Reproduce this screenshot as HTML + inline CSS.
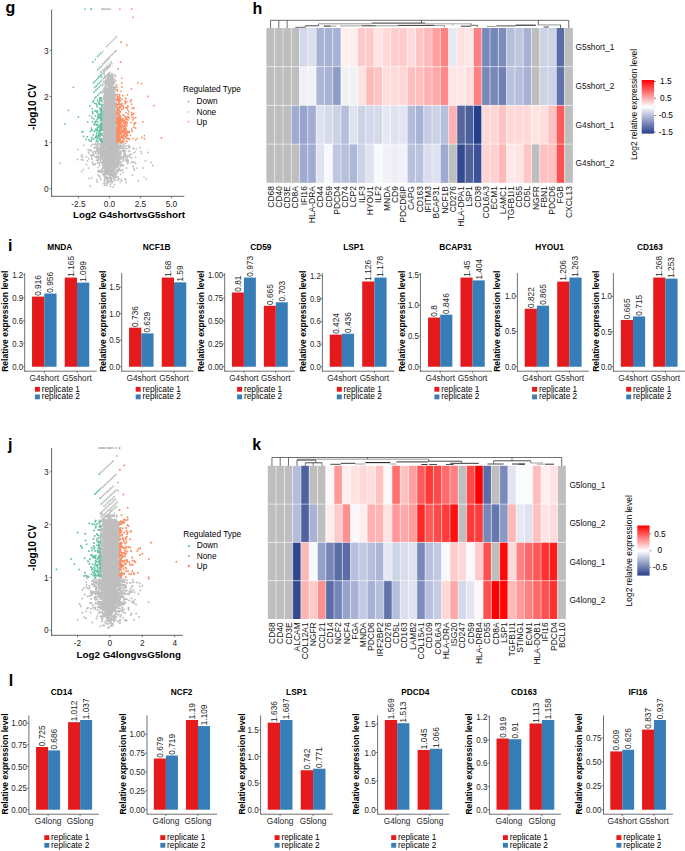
<!DOCTYPE html>
<html><head><meta charset="utf-8"><style>
html,body{margin:0;padding:0;background:#fff;width:685px;height:851px;overflow:hidden;}
svg{display:block;}
text{font-family:"Liberation Sans", sans-serif;}
</style></head><body>
<svg width="685" height="851" viewBox="0 0 685 851" font-family='"Liberation Sans", sans-serif'><text x="5.50" y="13.10" font-size="16" font-weight="bold" text-anchor="start" fill="#000">g</text>
<text x="252.40" y="13.80" font-size="16" font-weight="bold" text-anchor="start" fill="#000">h</text>
<text x="8.00" y="250.95" font-size="16" font-weight="bold" text-anchor="start" fill="#000">i</text>
<text x="8.10" y="449.50" font-size="16" font-weight="bold" text-anchor="start" fill="#000">j</text>
<text x="252.20" y="449.50" font-size="16" font-weight="bold" text-anchor="start" fill="#000">k</text>
<text x="8.80" y="686.00" font-size="16" font-weight="bold" text-anchor="start" fill="#000">l</text>
<line x1="24.70" y1="273.10" x2="24.70" y2="371.50" stroke="#333333" stroke-width="0.7"/>
<line x1="24.40" y1="371.20" x2="96.80" y2="371.20" stroke="#333333" stroke-width="0.7"/>
<line x1="22.70" y1="366.74" x2="24.70" y2="366.74" stroke="#333333" stroke-width="0.6"/>
<text x="0" y="0" font-size="8.6" text-anchor="end" fill="#262626" transform="translate(23.00 369.79) scale(0.9 1)">0.0</text>
<line x1="22.70" y1="343.78" x2="24.70" y2="343.78" stroke="#333333" stroke-width="0.6"/>
<text x="0" y="0" font-size="8.6" text-anchor="end" fill="#262626" transform="translate(23.00 346.83) scale(0.9 1)">0.3</text>
<line x1="22.70" y1="320.81" x2="24.70" y2="320.81" stroke="#333333" stroke-width="0.6"/>
<text x="0" y="0" font-size="8.6" text-anchor="end" fill="#262626" transform="translate(23.00 323.86) scale(0.9 1)">0.6</text>
<line x1="22.70" y1="297.85" x2="24.70" y2="297.85" stroke="#333333" stroke-width="0.6"/>
<text x="0" y="0" font-size="8.6" text-anchor="end" fill="#262626" transform="translate(23.00 300.90) scale(0.9 1)">0.9</text>
<line x1="22.70" y1="274.88" x2="24.70" y2="274.88" stroke="#333333" stroke-width="0.6"/>
<text x="0" y="0" font-size="8.6" text-anchor="end" fill="#262626" transform="translate(23.00 277.93) scale(0.9 1)">1.2</text>
<rect x="32.04" y="296.62" width="12.26" height="70.12" fill="#e41a1c"/>
<text x="41.17" y="295.82" font-size="8.3" text-anchor="start" fill="#262626" transform="rotate(-90 41.17 295.82)">0.916</text>
<rect x="44.30" y="293.56" width="12.26" height="73.18" fill="#377eb8"/>
<text x="53.43" y="292.76" font-size="8.3" text-anchor="start" fill="#262626" transform="rotate(-90 53.43 292.76)">0.956</text>
<line x1="44.30" y1="371.20" x2="44.30" y2="373.20" stroke="#333333" stroke-width="0.6"/>
<text x="44.30" y="380.90" font-size="8.3" text-anchor="middle" fill="#262626">G4short</text>
<rect x="64.74" y="277.56" width="12.26" height="89.18" fill="#e41a1c"/>
<text x="73.87" y="276.76" font-size="8.3" text-anchor="start" fill="#262626" transform="rotate(-90 73.87 276.76)">1.165</text>
<rect x="77.00" y="282.61" width="12.26" height="84.13" fill="#377eb8"/>
<text x="86.13" y="281.81" font-size="8.3" text-anchor="start" fill="#262626" transform="rotate(-90 86.13 281.81)">1.099</text>
<line x1="77.00" y1="371.20" x2="77.00" y2="373.20" stroke="#333333" stroke-width="0.6"/>
<text x="77.00" y="380.90" font-size="8.3" text-anchor="middle" fill="#262626">G5short</text>
<text x="59.80" y="250.40" font-size="8.3" font-weight="bold" text-anchor="middle" fill="#000">MNDA</text>
<text x="7.80" y="321.25" font-size="8.5" font-weight="bold" text-anchor="middle" fill="#000" transform="rotate(-90 7.80 321.25)">Relative expression level</text>
<rect x="34.90" y="386.90" width="5.00" height="4.80" fill="#e41a1c"/>
<rect x="34.90" y="394.50" width="5.00" height="4.80" fill="#377eb8"/>
<text x="41.70" y="391.60" font-size="8.3" text-anchor="start" fill="#000">replicate 1</text>
<text x="41.70" y="399.20" font-size="8.3" text-anchor="start" fill="#000">replicate 2</text>
<line x1="121.70" y1="273.10" x2="121.70" y2="371.50" stroke="#333333" stroke-width="0.7"/>
<line x1="121.40" y1="371.20" x2="193.50" y2="371.20" stroke="#333333" stroke-width="0.7"/>
<line x1="119.70" y1="366.74" x2="121.70" y2="366.74" stroke="#333333" stroke-width="0.6"/>
<text x="0" y="0" font-size="8.6" text-anchor="end" fill="#262626" transform="translate(120.00 369.79) scale(0.9 1)">0.0</text>
<line x1="119.70" y1="340.20" x2="121.70" y2="340.20" stroke="#333333" stroke-width="0.6"/>
<text x="0" y="0" font-size="8.6" text-anchor="end" fill="#262626" transform="translate(120.00 343.25) scale(0.9 1)">0.5</text>
<line x1="119.70" y1="313.66" x2="121.70" y2="313.66" stroke="#333333" stroke-width="0.6"/>
<text x="0" y="0" font-size="8.6" text-anchor="end" fill="#262626" transform="translate(120.00 316.71) scale(0.9 1)">1.0</text>
<line x1="119.70" y1="287.11" x2="121.70" y2="287.11" stroke="#333333" stroke-width="0.6"/>
<text x="0" y="0" font-size="8.6" text-anchor="end" fill="#262626" transform="translate(120.00 290.16) scale(0.9 1)">1.5</text>
<rect x="129.04" y="327.67" width="12.26" height="39.07" fill="#e41a1c"/>
<text x="138.17" y="326.87" font-size="8.3" text-anchor="start" fill="#262626" transform="rotate(-90 138.17 326.87)">0.736</text>
<rect x="141.30" y="333.35" width="12.26" height="33.39" fill="#377eb8"/>
<text x="150.43" y="332.55" font-size="8.3" text-anchor="start" fill="#262626" transform="rotate(-90 150.43 332.55)">0.629</text>
<line x1="141.30" y1="371.20" x2="141.30" y2="373.20" stroke="#333333" stroke-width="0.6"/>
<text x="141.30" y="380.90" font-size="8.3" text-anchor="middle" fill="#262626">G4short</text>
<rect x="161.74" y="277.56" width="12.26" height="89.18" fill="#e41a1c"/>
<text x="170.87" y="276.76" font-size="8.3" text-anchor="start" fill="#262626" transform="rotate(-90 170.87 276.76)">1.68</text>
<rect x="174.00" y="282.34" width="12.26" height="84.40" fill="#377eb8"/>
<text x="183.13" y="281.54" font-size="8.3" text-anchor="start" fill="#262626" transform="rotate(-90 183.13 281.54)">1.59</text>
<line x1="174.00" y1="371.20" x2="174.00" y2="373.20" stroke="#333333" stroke-width="0.6"/>
<text x="174.00" y="380.90" font-size="8.3" text-anchor="middle" fill="#262626">G5short</text>
<text x="156.60" y="250.40" font-size="8.3" font-weight="bold" text-anchor="middle" fill="#000">NCF1B</text>
<text x="106.40" y="321.25" font-size="8.5" font-weight="bold" text-anchor="middle" fill="#000" transform="rotate(-90 106.40 321.25)">Relative expression level</text>
<rect x="135.70" y="386.90" width="5.00" height="4.80" fill="#e41a1c"/>
<rect x="135.70" y="394.50" width="5.00" height="4.80" fill="#377eb8"/>
<text x="142.50" y="391.60" font-size="8.3" text-anchor="start" fill="#000">replicate 1</text>
<text x="142.50" y="399.20" font-size="8.3" text-anchor="start" fill="#000">replicate 2</text>
<line x1="224.70" y1="273.10" x2="224.70" y2="371.50" stroke="#333333" stroke-width="0.7"/>
<line x1="224.40" y1="371.20" x2="294.70" y2="371.20" stroke="#333333" stroke-width="0.7"/>
<line x1="222.70" y1="366.74" x2="224.70" y2="366.74" stroke="#333333" stroke-width="0.6"/>
<text x="0" y="0" font-size="8.6" text-anchor="end" fill="#262626" transform="translate(223.00 369.79) scale(0.9 1)">0.00</text>
<line x1="222.70" y1="343.83" x2="224.70" y2="343.83" stroke="#333333" stroke-width="0.6"/>
<text x="0" y="0" font-size="8.6" text-anchor="end" fill="#262626" transform="translate(223.00 346.88) scale(0.9 1)">0.25</text>
<line x1="222.70" y1="320.91" x2="224.70" y2="320.91" stroke="#333333" stroke-width="0.6"/>
<text x="0" y="0" font-size="8.6" text-anchor="end" fill="#262626" transform="translate(223.00 323.96) scale(0.9 1)">0.50</text>
<line x1="222.70" y1="298.00" x2="224.70" y2="298.00" stroke="#333333" stroke-width="0.6"/>
<text x="0" y="0" font-size="8.6" text-anchor="end" fill="#262626" transform="translate(223.00 301.05) scale(0.9 1)">0.75</text>
<line x1="222.70" y1="275.08" x2="224.70" y2="275.08" stroke="#333333" stroke-width="0.6"/>
<text x="0" y="0" font-size="8.6" text-anchor="end" fill="#262626" transform="translate(223.00 278.13) scale(0.9 1)">1.00</text>
<rect x="231.94" y="292.50" width="11.96" height="74.24" fill="#e41a1c"/>
<text x="240.92" y="291.70" font-size="8.3" text-anchor="start" fill="#262626" transform="rotate(-90 240.92 291.70)">0.81</text>
<rect x="243.90" y="277.56" width="11.96" height="89.18" fill="#377eb8"/>
<text x="252.88" y="276.76" font-size="8.3" text-anchor="start" fill="#262626" transform="rotate(-90 252.88 276.76)">0.973</text>
<line x1="243.90" y1="371.20" x2="243.90" y2="373.20" stroke="#333333" stroke-width="0.6"/>
<text x="243.90" y="380.90" font-size="8.3" text-anchor="middle" fill="#262626">G4short</text>
<rect x="263.84" y="305.79" width="11.96" height="60.95" fill="#e41a1c"/>
<text x="272.82" y="304.99" font-size="8.3" text-anchor="start" fill="#262626" transform="rotate(-90 272.82 304.99)">0.665</text>
<rect x="275.80" y="302.31" width="11.96" height="64.43" fill="#377eb8"/>
<text x="284.78" y="301.51" font-size="8.3" text-anchor="start" fill="#262626" transform="rotate(-90 284.78 301.51)">0.703</text>
<line x1="275.80" y1="371.20" x2="275.80" y2="373.20" stroke="#333333" stroke-width="0.6"/>
<text x="275.80" y="380.90" font-size="8.3" text-anchor="middle" fill="#262626">G5short</text>
<text x="260.80" y="250.40" font-size="8.3" font-weight="bold" text-anchor="middle" fill="#000">CD59</text>
<text x="204.40" y="321.25" font-size="8.5" font-weight="bold" text-anchor="middle" fill="#000" transform="rotate(-90 204.40 321.25)">Relative expression level</text>
<rect x="237.10" y="386.90" width="5.00" height="4.80" fill="#e41a1c"/>
<rect x="237.10" y="394.50" width="5.00" height="4.80" fill="#377eb8"/>
<text x="243.90" y="391.60" font-size="8.3" text-anchor="start" fill="#000">replicate 1</text>
<text x="243.90" y="399.20" font-size="8.3" text-anchor="start" fill="#000">replicate 2</text>
<line x1="322.40" y1="273.10" x2="322.40" y2="371.50" stroke="#333333" stroke-width="0.7"/>
<line x1="322.10" y1="371.20" x2="394.10" y2="371.20" stroke="#333333" stroke-width="0.7"/>
<line x1="320.40" y1="366.74" x2="322.40" y2="366.74" stroke="#333333" stroke-width="0.6"/>
<text x="0" y="0" font-size="8.6" text-anchor="end" fill="#262626" transform="translate(320.70 369.79) scale(0.9 1)">0.0</text>
<line x1="320.40" y1="344.03" x2="322.40" y2="344.03" stroke="#333333" stroke-width="0.6"/>
<text x="0" y="0" font-size="8.6" text-anchor="end" fill="#262626" transform="translate(320.70 347.08) scale(0.9 1)">0.3</text>
<line x1="320.40" y1="321.32" x2="322.40" y2="321.32" stroke="#333333" stroke-width="0.6"/>
<text x="0" y="0" font-size="8.6" text-anchor="end" fill="#262626" transform="translate(320.70 324.37) scale(0.9 1)">0.6</text>
<line x1="320.40" y1="298.61" x2="322.40" y2="298.61" stroke="#333333" stroke-width="0.6"/>
<text x="0" y="0" font-size="8.6" text-anchor="end" fill="#262626" transform="translate(320.70 301.66) scale(0.9 1)">0.9</text>
<line x1="320.40" y1="275.89" x2="322.40" y2="275.89" stroke="#333333" stroke-width="0.6"/>
<text x="0" y="0" font-size="8.6" text-anchor="end" fill="#262626" transform="translate(320.70 278.94) scale(0.9 1)">1.2</text>
<rect x="329.71" y="334.64" width="12.19" height="32.10" fill="#e41a1c"/>
<text x="338.81" y="333.84" font-size="8.3" text-anchor="start" fill="#262626" transform="rotate(-90 338.81 333.84)">0.424</text>
<rect x="341.90" y="333.73" width="12.19" height="33.01" fill="#377eb8"/>
<text x="350.99" y="332.93" font-size="8.3" text-anchor="start" fill="#262626" transform="rotate(-90 350.99 332.93)">0.436</text>
<line x1="341.90" y1="371.20" x2="341.90" y2="373.20" stroke="#333333" stroke-width="0.6"/>
<text x="341.90" y="380.90" font-size="8.3" text-anchor="middle" fill="#262626">G4short</text>
<rect x="362.21" y="281.50" width="12.19" height="85.25" fill="#e41a1c"/>
<text x="371.31" y="280.70" font-size="8.3" text-anchor="start" fill="#262626" transform="rotate(-90 371.31 280.70)">1.126</text>
<rect x="374.40" y="277.56" width="12.19" height="89.18" fill="#377eb8"/>
<text x="383.49" y="276.76" font-size="8.3" text-anchor="start" fill="#262626" transform="rotate(-90 383.49 276.76)">1.178</text>
<line x1="374.40" y1="371.20" x2="374.40" y2="373.20" stroke="#333333" stroke-width="0.6"/>
<text x="374.40" y="380.90" font-size="8.3" text-anchor="middle" fill="#262626">G5short</text>
<text x="353.60" y="250.40" font-size="8.3" font-weight="bold" text-anchor="middle" fill="#000">LSP1</text>
<text x="305.90" y="321.25" font-size="8.5" font-weight="bold" text-anchor="middle" fill="#000" transform="rotate(-90 305.90 321.25)">Relative expression level</text>
<rect x="336.80" y="386.90" width="5.00" height="4.80" fill="#e41a1c"/>
<rect x="336.80" y="394.50" width="5.00" height="4.80" fill="#377eb8"/>
<text x="343.60" y="391.60" font-size="8.3" text-anchor="start" fill="#000">replicate 1</text>
<text x="343.60" y="399.20" font-size="8.3" text-anchor="start" fill="#000">replicate 2</text>
<line x1="420.40" y1="273.10" x2="420.40" y2="371.50" stroke="#333333" stroke-width="0.7"/>
<line x1="420.10" y1="371.20" x2="491.90" y2="371.20" stroke="#333333" stroke-width="0.7"/>
<line x1="418.40" y1="366.74" x2="420.40" y2="366.74" stroke="#333333" stroke-width="0.6"/>
<text x="0" y="0" font-size="8.6" text-anchor="end" fill="#262626" transform="translate(418.70 369.79) scale(0.9 1)">0.0</text>
<line x1="418.40" y1="335.99" x2="420.40" y2="335.99" stroke="#333333" stroke-width="0.6"/>
<text x="0" y="0" font-size="8.6" text-anchor="end" fill="#262626" transform="translate(418.70 339.04) scale(0.9 1)">0.5</text>
<line x1="418.40" y1="305.24" x2="420.40" y2="305.24" stroke="#333333" stroke-width="0.6"/>
<text x="0" y="0" font-size="8.6" text-anchor="end" fill="#262626" transform="translate(418.70 308.29) scale(0.9 1)">1.0</text>
<line x1="418.40" y1="274.48" x2="420.40" y2="274.48" stroke="#333333" stroke-width="0.6"/>
<text x="0" y="0" font-size="8.6" text-anchor="end" fill="#262626" transform="translate(418.70 277.53) scale(0.9 1)">1.5</text>
<rect x="428.05" y="317.54" width="12.15" height="49.20" fill="#e41a1c"/>
<text x="437.12" y="316.74" font-size="8.3" text-anchor="start" fill="#262626" transform="rotate(-90 437.12 316.74)">0.8</text>
<rect x="440.20" y="314.71" width="12.15" height="52.03" fill="#377eb8"/>
<text x="449.27" y="313.91" font-size="8.3" text-anchor="start" fill="#262626" transform="rotate(-90 449.27 313.91)">0.846</text>
<line x1="440.20" y1="371.20" x2="440.20" y2="373.20" stroke="#333333" stroke-width="0.6"/>
<text x="440.20" y="380.90" font-size="8.3" text-anchor="middle" fill="#262626">G4short</text>
<rect x="460.45" y="277.56" width="12.15" height="89.18" fill="#e41a1c"/>
<text x="469.52" y="276.76" font-size="8.3" text-anchor="start" fill="#262626" transform="rotate(-90 469.52 276.76)">1.45</text>
<rect x="472.60" y="280.39" width="12.15" height="86.35" fill="#377eb8"/>
<text x="481.68" y="279.59" font-size="8.3" text-anchor="start" fill="#262626" transform="rotate(-90 481.68 279.59)">1.404</text>
<line x1="472.60" y1="371.20" x2="472.60" y2="373.20" stroke="#333333" stroke-width="0.6"/>
<text x="472.60" y="380.90" font-size="8.3" text-anchor="middle" fill="#262626">G5short</text>
<text x="455.60" y="250.40" font-size="8.3" font-weight="bold" text-anchor="middle" fill="#000">BCAP31</text>
<text x="405.40" y="321.25" font-size="8.5" font-weight="bold" text-anchor="middle" fill="#000" transform="rotate(-90 405.40 321.25)">Relative expression level</text>
<rect x="434.40" y="386.90" width="5.00" height="4.80" fill="#e41a1c"/>
<rect x="434.40" y="394.50" width="5.00" height="4.80" fill="#377eb8"/>
<text x="441.20" y="391.60" font-size="8.3" text-anchor="start" fill="#000">replicate 1</text>
<text x="441.20" y="399.20" font-size="8.3" text-anchor="start" fill="#000">replicate 2</text>
<line x1="517.40" y1="273.10" x2="517.40" y2="371.50" stroke="#333333" stroke-width="0.7"/>
<line x1="517.10" y1="371.20" x2="588.90" y2="371.20" stroke="#333333" stroke-width="0.7"/>
<line x1="515.40" y1="366.74" x2="517.40" y2="366.74" stroke="#333333" stroke-width="0.6"/>
<text x="0" y="0" font-size="8.6" text-anchor="end" fill="#262626" transform="translate(515.70 369.79) scale(0.9 1)">0.0</text>
<line x1="515.40" y1="331.44" x2="517.40" y2="331.44" stroke="#333333" stroke-width="0.6"/>
<text x="0" y="0" font-size="8.6" text-anchor="end" fill="#262626" transform="translate(515.70 334.49) scale(0.9 1)">0.5</text>
<line x1="515.40" y1="296.13" x2="517.40" y2="296.13" stroke="#333333" stroke-width="0.6"/>
<text x="0" y="0" font-size="8.6" text-anchor="end" fill="#262626" transform="translate(515.70 299.18) scale(0.9 1)">1.0</text>
<rect x="524.71" y="308.70" width="12.19" height="58.04" fill="#e41a1c"/>
<text x="533.81" y="307.90" font-size="8.3" text-anchor="start" fill="#262626" transform="rotate(-90 533.81 307.90)">0.822</text>
<rect x="536.90" y="305.66" width="12.19" height="61.08" fill="#377eb8"/>
<text x="545.99" y="304.86" font-size="8.3" text-anchor="start" fill="#262626" transform="rotate(-90 545.99 304.86)">0.865</text>
<line x1="536.90" y1="371.20" x2="536.90" y2="373.20" stroke="#333333" stroke-width="0.6"/>
<text x="536.90" y="380.90" font-size="8.3" text-anchor="middle" fill="#262626">G4short</text>
<rect x="557.21" y="281.58" width="12.19" height="85.16" fill="#e41a1c"/>
<text x="566.31" y="280.78" font-size="8.3" text-anchor="start" fill="#262626" transform="rotate(-90 566.31 280.78)">1.206</text>
<rect x="569.40" y="277.56" width="12.19" height="89.18" fill="#377eb8"/>
<text x="578.49" y="276.76" font-size="8.3" text-anchor="start" fill="#262626" transform="rotate(-90 578.49 276.76)">1.263</text>
<line x1="569.40" y1="371.20" x2="569.40" y2="373.20" stroke="#333333" stroke-width="0.6"/>
<text x="569.40" y="380.90" font-size="8.3" text-anchor="middle" fill="#262626">G5short</text>
<text x="549.60" y="250.40" font-size="8.3" font-weight="bold" text-anchor="middle" fill="#000">HYOU1</text>
<text x="500.40" y="321.25" font-size="8.5" font-weight="bold" text-anchor="middle" fill="#000" transform="rotate(-90 500.40 321.25)">Relative expression level</text>
<rect x="532.10" y="386.90" width="5.00" height="4.80" fill="#e41a1c"/>
<rect x="532.10" y="394.50" width="5.00" height="4.80" fill="#377eb8"/>
<text x="538.90" y="391.60" font-size="8.3" text-anchor="start" fill="#000">replicate 1</text>
<text x="538.90" y="399.20" font-size="8.3" text-anchor="start" fill="#000">replicate 2</text>
<line x1="613.40" y1="273.10" x2="613.40" y2="371.50" stroke="#333333" stroke-width="0.7"/>
<line x1="613.10" y1="371.20" x2="685.50" y2="371.20" stroke="#333333" stroke-width="0.7"/>
<line x1="611.40" y1="366.74" x2="613.40" y2="366.74" stroke="#333333" stroke-width="0.6"/>
<text x="0" y="0" font-size="8.6" text-anchor="end" fill="#262626" transform="translate(611.70 369.79) scale(0.9 1)">0.0</text>
<line x1="611.40" y1="331.57" x2="613.40" y2="331.57" stroke="#333333" stroke-width="0.6"/>
<text x="0" y="0" font-size="8.6" text-anchor="end" fill="#262626" transform="translate(611.70 334.62) scale(0.9 1)">0.5</text>
<line x1="611.40" y1="296.41" x2="613.40" y2="296.41" stroke="#333333" stroke-width="0.6"/>
<text x="0" y="0" font-size="8.6" text-anchor="end" fill="#262626" transform="translate(611.70 299.46) scale(0.9 1)">1.0</text>
<rect x="620.85" y="319.97" width="12.15" height="46.77" fill="#e41a1c"/>
<text x="629.93" y="319.17" font-size="8.3" text-anchor="start" fill="#262626" transform="rotate(-90 629.93 319.17)">0.665</text>
<rect x="633.00" y="316.45" width="12.15" height="50.29" fill="#377eb8"/>
<text x="642.08" y="315.65" font-size="8.3" text-anchor="start" fill="#262626" transform="rotate(-90 642.08 315.65)">0.715</text>
<line x1="633.00" y1="371.20" x2="633.00" y2="373.20" stroke="#333333" stroke-width="0.6"/>
<text x="633.00" y="380.90" font-size="8.3" text-anchor="middle" fill="#262626">G4short</text>
<rect x="653.25" y="277.56" width="12.15" height="89.18" fill="#e41a1c"/>
<text x="662.33" y="276.76" font-size="8.3" text-anchor="start" fill="#262626" transform="rotate(-90 662.33 276.76)">1.268</text>
<rect x="665.40" y="278.61" width="12.15" height="88.13" fill="#377eb8"/>
<text x="674.48" y="277.81" font-size="8.3" text-anchor="start" fill="#262626" transform="rotate(-90 674.48 277.81)">1.253</text>
<line x1="665.40" y1="371.20" x2="665.40" y2="373.20" stroke="#333333" stroke-width="0.6"/>
<text x="665.40" y="380.90" font-size="8.3" text-anchor="middle" fill="#262626">G5short</text>
<text x="649.90" y="250.40" font-size="8.3" font-weight="bold" text-anchor="middle" fill="#000">CD163</text>
<text x="598.60" y="321.25" font-size="8.5" font-weight="bold" text-anchor="middle" fill="#000" transform="rotate(-90 598.60 321.25)">Relative expression level</text>
<rect x="626.20" y="386.90" width="5.00" height="4.80" fill="#e41a1c"/>
<rect x="626.20" y="394.50" width="5.00" height="4.80" fill="#377eb8"/>
<text x="633.00" y="391.60" font-size="8.3" text-anchor="start" fill="#000">replicate 1</text>
<text x="633.00" y="399.20" font-size="8.3" text-anchor="start" fill="#000">replicate 2</text>
<line x1="28.90" y1="715.50" x2="28.90" y2="814.50" stroke="#333333" stroke-width="0.7"/>
<line x1="28.60" y1="814.20" x2="98.80" y2="814.20" stroke="#333333" stroke-width="0.7"/>
<line x1="26.90" y1="809.71" x2="28.90" y2="809.71" stroke="#333333" stroke-width="0.6"/>
<text x="0" y="0" font-size="8.6" text-anchor="end" fill="#262626" transform="translate(26.90 812.76) scale(0.93 1)">0.00</text>
<line x1="26.90" y1="788.08" x2="28.90" y2="788.08" stroke="#333333" stroke-width="0.6"/>
<text x="0" y="0" font-size="8.6" text-anchor="end" fill="#262626" transform="translate(26.90 791.13) scale(0.93 1)">0.25</text>
<line x1="26.90" y1="766.45" x2="28.90" y2="766.45" stroke="#333333" stroke-width="0.6"/>
<text x="0" y="0" font-size="8.6" text-anchor="end" fill="#262626" transform="translate(26.90 769.50) scale(0.93 1)">0.50</text>
<line x1="26.90" y1="744.82" x2="28.90" y2="744.82" stroke="#333333" stroke-width="0.6"/>
<text x="0" y="0" font-size="8.6" text-anchor="end" fill="#262626" transform="translate(26.90 747.87) scale(0.93 1)">0.75</text>
<line x1="26.90" y1="723.19" x2="28.90" y2="723.19" stroke="#333333" stroke-width="0.6"/>
<text x="0" y="0" font-size="8.6" text-anchor="end" fill="#262626" transform="translate(26.90 726.24) scale(0.93 1)">1.00</text>
<rect x="36.10" y="746.98" width="12.00" height="62.73" fill="#e41a1c"/>
<text x="45.10" y="746.18" font-size="8.3" text-anchor="start" fill="#262626" transform="rotate(-90 45.10 746.18)">0.725</text>
<rect x="48.10" y="750.36" width="12.00" height="59.36" fill="#377eb8"/>
<text x="57.10" y="749.56" font-size="8.3" text-anchor="start" fill="#262626" transform="rotate(-90 57.10 749.56)">0.686</text>
<line x1="48.10" y1="814.20" x2="48.10" y2="816.20" stroke="#333333" stroke-width="0.6"/>
<text x="48.10" y="823.80" font-size="8.3" text-anchor="middle" fill="#262626">G4long</text>
<rect x="68.10" y="722.15" width="12.00" height="87.56" fill="#e41a1c"/>
<text x="77.10" y="721.35" font-size="8.3" text-anchor="start" fill="#262626" transform="rotate(-90 77.10 721.35)">1.012</text>
<rect x="80.10" y="719.99" width="12.00" height="89.73" fill="#377eb8"/>
<text x="89.10" y="719.19" font-size="8.3" text-anchor="start" fill="#262626" transform="rotate(-90 89.10 719.19)">1.037</text>
<line x1="80.10" y1="814.20" x2="80.10" y2="816.20" stroke="#333333" stroke-width="0.6"/>
<text x="80.10" y="823.80" font-size="8.3" text-anchor="middle" fill="#262626">G5long</text>
<text x="61.40" y="695.40" font-size="8.3" font-weight="bold" text-anchor="middle" fill="#000">CD14</text>
<text x="8.00" y="763.95" font-size="8.5" font-weight="bold" text-anchor="middle" fill="#000" transform="rotate(-90 8.00 763.95)">Relative expression level</text>
<rect x="44.30" y="835.20" width="5.00" height="4.80" fill="#e41a1c"/>
<rect x="44.30" y="842.90" width="5.00" height="4.80" fill="#377eb8"/>
<text x="51.10" y="839.90" font-size="8.3" text-anchor="start" fill="#000">replicate 1</text>
<text x="51.10" y="847.60" font-size="8.3" text-anchor="start" fill="#000">replicate 2</text>
<line x1="147.00" y1="715.50" x2="147.00" y2="814.50" stroke="#333333" stroke-width="0.7"/>
<line x1="146.70" y1="814.20" x2="217.10" y2="814.20" stroke="#333333" stroke-width="0.7"/>
<line x1="145.00" y1="809.71" x2="147.00" y2="809.71" stroke="#333333" stroke-width="0.6"/>
<text x="0" y="0" font-size="8.6" text-anchor="end" fill="#262626" transform="translate(145.00 812.76) scale(0.93 1)">0.00</text>
<line x1="145.00" y1="790.86" x2="147.00" y2="790.86" stroke="#333333" stroke-width="0.6"/>
<text x="0" y="0" font-size="8.6" text-anchor="end" fill="#262626" transform="translate(145.00 793.91) scale(0.93 1)">0.25</text>
<line x1="145.00" y1="772.01" x2="147.00" y2="772.01" stroke="#333333" stroke-width="0.6"/>
<text x="0" y="0" font-size="8.6" text-anchor="end" fill="#262626" transform="translate(145.00 775.06) scale(0.93 1)">0.50</text>
<line x1="145.00" y1="753.16" x2="147.00" y2="753.16" stroke="#333333" stroke-width="0.6"/>
<text x="0" y="0" font-size="8.6" text-anchor="end" fill="#262626" transform="translate(145.00 756.21) scale(0.93 1)">0.75</text>
<line x1="145.00" y1="734.31" x2="147.00" y2="734.31" stroke="#333333" stroke-width="0.6"/>
<text x="0" y="0" font-size="8.6" text-anchor="end" fill="#262626" transform="translate(145.00 737.36) scale(0.93 1)">1.00</text>
<rect x="153.86" y="758.52" width="12.04" height="51.20" fill="#e41a1c"/>
<text x="162.88" y="757.72" font-size="8.3" text-anchor="start" fill="#262626" transform="rotate(-90 162.88 757.72)">0.679</text>
<rect x="165.90" y="755.50" width="12.04" height="54.21" fill="#377eb8"/>
<text x="174.92" y="754.70" font-size="8.3" text-anchor="start" fill="#262626" transform="rotate(-90 174.92 754.70)">0.719</text>
<line x1="165.90" y1="814.20" x2="165.90" y2="816.20" stroke="#333333" stroke-width="0.6"/>
<text x="165.90" y="823.80" font-size="8.3" text-anchor="middle" fill="#262626">G4long</text>
<rect x="185.96" y="719.99" width="12.04" height="89.73" fill="#e41a1c"/>
<text x="194.98" y="719.19" font-size="8.3" text-anchor="start" fill="#262626" transform="rotate(-90 194.98 719.19)">1.19</text>
<rect x="198.00" y="726.09" width="12.04" height="83.62" fill="#377eb8"/>
<text x="207.02" y="725.29" font-size="8.3" text-anchor="start" fill="#262626" transform="rotate(-90 207.02 725.29)">1.109</text>
<line x1="198.00" y1="814.20" x2="198.00" y2="816.20" stroke="#333333" stroke-width="0.6"/>
<text x="198.00" y="823.80" font-size="8.3" text-anchor="middle" fill="#262626">G5long</text>
<text x="181.60" y="695.40" font-size="8.3" font-weight="bold" text-anchor="middle" fill="#000">NCF2</text>
<text x="125.90" y="763.95" font-size="8.5" font-weight="bold" text-anchor="middle" fill="#000" transform="rotate(-90 125.90 763.95)">Relative expression level</text>
<rect x="160.30" y="835.20" width="5.00" height="4.80" fill="#e41a1c"/>
<rect x="160.30" y="842.90" width="5.00" height="4.80" fill="#377eb8"/>
<text x="167.10" y="839.90" font-size="8.3" text-anchor="start" fill="#000">replicate 1</text>
<text x="167.10" y="847.60" font-size="8.3" text-anchor="start" fill="#000">replicate 2</text>
<line x1="260.60" y1="715.50" x2="260.60" y2="814.50" stroke="#333333" stroke-width="0.7"/>
<line x1="260.30" y1="814.20" x2="332.70" y2="814.20" stroke="#333333" stroke-width="0.7"/>
<line x1="258.60" y1="809.71" x2="260.60" y2="809.71" stroke="#333333" stroke-width="0.6"/>
<text x="0" y="0" font-size="8.6" text-anchor="end" fill="#262626" transform="translate(258.60 812.76) scale(0.93 1)">0.0</text>
<line x1="258.60" y1="783.12" x2="260.60" y2="783.12" stroke="#333333" stroke-width="0.6"/>
<text x="0" y="0" font-size="8.6" text-anchor="end" fill="#262626" transform="translate(258.60 786.17) scale(0.93 1)">0.5</text>
<line x1="258.60" y1="756.53" x2="260.60" y2="756.53" stroke="#333333" stroke-width="0.6"/>
<text x="0" y="0" font-size="8.6" text-anchor="end" fill="#262626" transform="translate(258.60 759.58) scale(0.93 1)">1.0</text>
<line x1="258.60" y1="729.93" x2="260.60" y2="729.93" stroke="#333333" stroke-width="0.6"/>
<text x="0" y="0" font-size="8.6" text-anchor="end" fill="#262626" transform="translate(258.60 732.98) scale(0.93 1)">1.5</text>
<rect x="267.73" y="722.70" width="12.38" height="87.01" fill="#e41a1c"/>
<text x="276.91" y="721.90" font-size="8.3" text-anchor="start" fill="#262626" transform="rotate(-90 276.91 721.90)">1.636</text>
<rect x="280.10" y="719.99" width="12.38" height="89.73" fill="#377eb8"/>
<text x="289.29" y="719.19" font-size="8.3" text-anchor="start" fill="#262626" transform="rotate(-90 289.29 719.19)">1.687</text>
<line x1="280.10" y1="814.20" x2="280.10" y2="816.20" stroke="#333333" stroke-width="0.6"/>
<text x="280.10" y="823.80" font-size="8.3" text-anchor="middle" fill="#262626">G4long</text>
<rect x="300.73" y="770.25" width="12.38" height="39.47" fill="#e41a1c"/>
<text x="309.91" y="769.45" font-size="8.3" text-anchor="start" fill="#262626" transform="rotate(-90 309.91 769.45)">0.742</text>
<rect x="313.10" y="768.71" width="12.38" height="41.01" fill="#377eb8"/>
<text x="322.29" y="767.91" font-size="8.3" text-anchor="start" fill="#262626" transform="rotate(-90 322.29 767.91)">0.771</text>
<line x1="313.10" y1="814.20" x2="313.10" y2="816.20" stroke="#333333" stroke-width="0.6"/>
<text x="313.10" y="823.80" font-size="8.3" text-anchor="middle" fill="#262626">G5long</text>
<text x="296.50" y="695.40" font-size="8.3" font-weight="bold" text-anchor="middle" fill="#000">LSP1</text>
<text x="245.10" y="763.95" font-size="8.5" font-weight="bold" text-anchor="middle" fill="#000" transform="rotate(-90 245.10 763.95)">Relative expression level</text>
<rect x="274.60" y="835.20" width="5.00" height="4.80" fill="#e41a1c"/>
<rect x="274.60" y="842.90" width="5.00" height="4.80" fill="#377eb8"/>
<text x="281.40" y="839.90" font-size="8.3" text-anchor="start" fill="#000">replicate 1</text>
<text x="281.40" y="847.60" font-size="8.3" text-anchor="start" fill="#000">replicate 2</text>
<line x1="377.60" y1="715.50" x2="377.60" y2="814.50" stroke="#333333" stroke-width="0.7"/>
<line x1="377.30" y1="814.20" x2="449.40" y2="814.20" stroke="#333333" stroke-width="0.7"/>
<line x1="375.60" y1="809.71" x2="377.60" y2="809.71" stroke="#333333" stroke-width="0.6"/>
<text x="0" y="0" font-size="8.6" text-anchor="end" fill="#262626" transform="translate(375.60 812.76) scale(0.93 1)">0.0</text>
<line x1="375.60" y1="781.12" x2="377.60" y2="781.12" stroke="#333333" stroke-width="0.6"/>
<text x="0" y="0" font-size="8.6" text-anchor="end" fill="#262626" transform="translate(375.60 784.17) scale(0.93 1)">0.5</text>
<line x1="375.60" y1="752.53" x2="377.60" y2="752.53" stroke="#333333" stroke-width="0.6"/>
<text x="0" y="0" font-size="8.6" text-anchor="end" fill="#262626" transform="translate(375.60 755.58) scale(0.93 1)">1.0</text>
<line x1="375.60" y1="723.93" x2="377.60" y2="723.93" stroke="#333333" stroke-width="0.6"/>
<text x="0" y="0" font-size="8.6" text-anchor="end" fill="#262626" transform="translate(375.60 726.98) scale(0.93 1)">1.5</text>
<rect x="384.80" y="719.99" width="12.30" height="89.73" fill="#e41a1c"/>
<text x="393.95" y="719.19" font-size="8.3" text-anchor="start" fill="#262626" transform="rotate(-90 393.95 719.19)">1.569</text>
<rect x="397.10" y="723.19" width="12.30" height="86.52" fill="#377eb8"/>
<text x="406.25" y="722.39" font-size="8.3" text-anchor="start" fill="#262626" transform="rotate(-90 406.25 722.39)">1.513</text>
<line x1="397.10" y1="814.20" x2="397.10" y2="816.20" stroke="#333333" stroke-width="0.6"/>
<text x="397.10" y="823.80" font-size="8.3" text-anchor="middle" fill="#262626">G4long</text>
<rect x="417.60" y="749.95" width="12.30" height="59.76" fill="#e41a1c"/>
<text x="426.75" y="749.15" font-size="8.3" text-anchor="start" fill="#262626" transform="rotate(-90 426.75 749.15)">1.045</text>
<rect x="429.90" y="748.75" width="12.30" height="60.96" fill="#377eb8"/>
<text x="439.05" y="747.95" font-size="8.3" text-anchor="start" fill="#262626" transform="rotate(-90 439.05 747.95)">1.066</text>
<line x1="429.90" y1="814.20" x2="429.90" y2="816.20" stroke="#333333" stroke-width="0.6"/>
<text x="429.90" y="823.80" font-size="8.3" text-anchor="middle" fill="#262626">G5long</text>
<text x="415.30" y="695.40" font-size="8.3" font-weight="bold" text-anchor="middle" fill="#000">PDCD4</text>
<text x="359.40" y="763.95" font-size="8.5" font-weight="bold" text-anchor="middle" fill="#000" transform="rotate(-90 359.40 763.95)">Relative expression level</text>
<rect x="391.20" y="835.20" width="5.00" height="4.80" fill="#e41a1c"/>
<rect x="391.20" y="842.90" width="5.00" height="4.80" fill="#377eb8"/>
<text x="398.00" y="839.90" font-size="8.3" text-anchor="start" fill="#000">replicate 1</text>
<text x="398.00" y="847.60" font-size="8.3" text-anchor="start" fill="#000">replicate 2</text>
<line x1="489.40" y1="715.50" x2="489.40" y2="814.50" stroke="#333333" stroke-width="0.7"/>
<line x1="489.10" y1="814.20" x2="560.90" y2="814.20" stroke="#333333" stroke-width="0.7"/>
<line x1="487.40" y1="809.71" x2="489.40" y2="809.71" stroke="#333333" stroke-width="0.6"/>
<text x="0" y="0" font-size="8.6" text-anchor="end" fill="#262626" transform="translate(487.40 812.76) scale(0.93 1)">0.0</text>
<line x1="487.40" y1="786.47" x2="489.40" y2="786.47" stroke="#333333" stroke-width="0.6"/>
<text x="0" y="0" font-size="8.6" text-anchor="end" fill="#262626" transform="translate(487.40 789.52) scale(0.93 1)">0.3</text>
<line x1="487.40" y1="763.22" x2="489.40" y2="763.22" stroke="#333333" stroke-width="0.6"/>
<text x="0" y="0" font-size="8.6" text-anchor="end" fill="#262626" transform="translate(487.40 766.27) scale(0.93 1)">0.6</text>
<line x1="487.40" y1="739.98" x2="489.40" y2="739.98" stroke="#333333" stroke-width="0.6"/>
<text x="0" y="0" font-size="8.6" text-anchor="end" fill="#262626" transform="translate(487.40 743.03) scale(0.93 1)">0.9</text>
<line x1="487.40" y1="716.73" x2="489.40" y2="716.73" stroke="#333333" stroke-width="0.6"/>
<text x="0" y="0" font-size="8.6" text-anchor="end" fill="#262626" transform="translate(487.40 719.78) scale(0.93 1)">1.2</text>
<rect x="496.52" y="738.51" width="12.38" height="71.21" fill="#e41a1c"/>
<text x="505.71" y="737.71" font-size="8.3" text-anchor="start" fill="#262626" transform="rotate(-90 505.71 737.71)">0.919</text>
<rect x="508.90" y="739.20" width="12.38" height="70.51" fill="#377eb8"/>
<text x="518.09" y="738.40" font-size="8.3" text-anchor="start" fill="#262626" transform="rotate(-90 518.09 738.40)">0.91</text>
<line x1="508.90" y1="814.20" x2="508.90" y2="816.20" stroke="#333333" stroke-width="0.6"/>
<text x="508.90" y="823.80" font-size="8.3" text-anchor="middle" fill="#262626">G4long</text>
<rect x="529.52" y="723.47" width="12.38" height="86.24" fill="#e41a1c"/>
<text x="538.71" y="722.67" font-size="8.3" text-anchor="start" fill="#262626" transform="rotate(-90 538.71 722.67)">1.113</text>
<rect x="541.90" y="719.99" width="12.38" height="89.73" fill="#377eb8"/>
<text x="551.09" y="719.19" font-size="8.3" text-anchor="start" fill="#262626" transform="rotate(-90 551.09 719.19)">1.158</text>
<line x1="541.90" y1="814.20" x2="541.90" y2="816.20" stroke="#333333" stroke-width="0.6"/>
<text x="541.90" y="823.80" font-size="8.3" text-anchor="middle" fill="#262626">G5long</text>
<text x="524.00" y="695.40" font-size="8.3" font-weight="bold" text-anchor="middle" fill="#000">CD163</text>
<text x="471.80" y="763.95" font-size="8.5" font-weight="bold" text-anchor="middle" fill="#000" transform="rotate(-90 471.80 763.95)">Relative expression level</text>
<rect x="502.90" y="835.20" width="5.00" height="4.80" fill="#e41a1c"/>
<rect x="502.90" y="842.90" width="5.00" height="4.80" fill="#377eb8"/>
<text x="509.70" y="839.90" font-size="8.3" text-anchor="start" fill="#000">replicate 1</text>
<text x="509.70" y="847.60" font-size="8.3" text-anchor="start" fill="#000">replicate 2</text>
<line x1="603.50" y1="715.50" x2="603.50" y2="814.50" stroke="#333333" stroke-width="0.7"/>
<line x1="603.20" y1="814.20" x2="673.00" y2="814.20" stroke="#333333" stroke-width="0.7"/>
<line x1="601.50" y1="809.71" x2="603.50" y2="809.71" stroke="#333333" stroke-width="0.6"/>
<text x="0" y="0" font-size="8.6" text-anchor="end" fill="#262626" transform="translate(601.50 812.76) scale(0.93 1)">0.00</text>
<line x1="601.50" y1="785.77" x2="603.50" y2="785.77" stroke="#333333" stroke-width="0.6"/>
<text x="0" y="0" font-size="8.6" text-anchor="end" fill="#262626" transform="translate(601.50 788.82) scale(0.93 1)">0.25</text>
<line x1="601.50" y1="761.83" x2="603.50" y2="761.83" stroke="#333333" stroke-width="0.6"/>
<text x="0" y="0" font-size="8.6" text-anchor="end" fill="#262626" transform="translate(601.50 764.88) scale(0.93 1)">0.50</text>
<line x1="601.50" y1="737.89" x2="603.50" y2="737.89" stroke="#333333" stroke-width="0.6"/>
<text x="0" y="0" font-size="8.6" text-anchor="end" fill="#262626" transform="translate(601.50 740.94) scale(0.93 1)">0.75</text>
<rect x="610.28" y="751.40" width="11.92" height="58.32" fill="#e41a1c"/>
<text x="619.24" y="750.60" font-size="8.3" text-anchor="start" fill="#262626" transform="rotate(-90 619.24 750.60)">0.609</text>
<rect x="622.20" y="749.77" width="11.92" height="59.95" fill="#377eb8"/>
<text x="631.16" y="748.97" font-size="8.3" text-anchor="start" fill="#262626" transform="rotate(-90 631.16 748.97)">0.626</text>
<line x1="622.20" y1="814.20" x2="622.20" y2="816.20" stroke="#333333" stroke-width="0.6"/>
<text x="622.20" y="823.80" font-size="8.3" text-anchor="middle" fill="#262626">G4short</text>
<rect x="642.08" y="729.56" width="11.92" height="80.15" fill="#e41a1c"/>
<text x="651.04" y="728.76" font-size="8.3" text-anchor="start" fill="#262626" transform="rotate(-90 651.04 728.76)">0.837</text>
<rect x="654.00" y="719.99" width="11.92" height="89.73" fill="#377eb8"/>
<text x="662.96" y="719.19" font-size="8.3" text-anchor="start" fill="#262626" transform="rotate(-90 662.96 719.19)">0.937</text>
<line x1="654.00" y1="814.20" x2="654.00" y2="816.20" stroke="#333333" stroke-width="0.6"/>
<text x="654.00" y="823.80" font-size="8.3" text-anchor="middle" fill="#262626">G5short</text>
<text x="638.00" y="695.40" font-size="8.3" font-weight="bold" text-anchor="middle" fill="#000">IFI16</text>
<text x="582.40" y="763.95" font-size="8.5" font-weight="bold" text-anchor="middle" fill="#000" transform="rotate(-90 582.40 763.95)">Relative expression level</text>
<rect x="616.40" y="835.20" width="5.00" height="4.80" fill="#e41a1c"/>
<rect x="616.40" y="842.90" width="5.00" height="4.80" fill="#377eb8"/>
<text x="623.20" y="839.90" font-size="8.3" text-anchor="start" fill="#000">replicate 1</text>
<text x="623.20" y="847.60" font-size="8.3" text-anchor="start" fill="#000">replicate 2</text>
<rect x="266.40" y="28.00" width="8.28" height="38.70" fill="#bebebe"/>
<rect x="266.40" y="66.70" width="8.28" height="38.70" fill="#bebebe"/>
<rect x="266.40" y="105.40" width="8.28" height="38.70" fill="#bebebe"/>
<rect x="266.40" y="144.10" width="8.28" height="38.70" fill="#bebebe"/>
<rect x="274.68" y="28.00" width="8.28" height="38.70" fill="#bebebe"/>
<rect x="274.68" y="66.70" width="8.28" height="38.70" fill="#bebebe"/>
<rect x="274.68" y="105.40" width="8.28" height="38.70" fill="#bebebe"/>
<rect x="274.68" y="144.10" width="8.28" height="38.70" fill="#bebebe"/>
<rect x="282.97" y="28.00" width="8.28" height="38.70" fill="#bebebe"/>
<rect x="282.97" y="66.70" width="8.28" height="38.70" fill="#bebebe"/>
<rect x="282.97" y="105.40" width="8.28" height="38.70" fill="#bebebe"/>
<rect x="282.97" y="144.10" width="8.28" height="38.70" fill="#bebebe"/>
<rect x="291.25" y="28.00" width="8.28" height="38.70" fill="#bebebe"/>
<rect x="291.25" y="66.70" width="8.28" height="38.70" fill="#bebebe"/>
<rect x="291.25" y="105.40" width="8.28" height="38.70" fill="#a0abd2"/>
<rect x="291.25" y="144.10" width="8.28" height="38.70" fill="#bebebe"/>
<rect x="299.53" y="28.00" width="8.28" height="38.70" fill="#d3d8ea"/>
<rect x="299.53" y="66.70" width="8.28" height="38.70" fill="#eff1f6"/>
<rect x="299.53" y="105.40" width="8.28" height="38.70" fill="#97a5cc"/>
<rect x="299.53" y="144.10" width="8.28" height="38.70" fill="#9eaad0"/>
<rect x="307.81" y="28.00" width="8.28" height="38.70" fill="#dcdfee"/>
<rect x="307.81" y="66.70" width="8.28" height="38.70" fill="#f1f2f7"/>
<rect x="307.81" y="105.40" width="8.28" height="38.70" fill="#a3add3"/>
<rect x="307.81" y="144.10" width="8.28" height="38.70" fill="#a1acd2"/>
<rect x="316.10" y="28.00" width="8.28" height="38.70" fill="#a7b1d4"/>
<rect x="316.10" y="66.70" width="8.28" height="38.70" fill="#adb5d6"/>
<rect x="316.10" y="105.40" width="8.28" height="38.70" fill="#dfe2ef"/>
<rect x="316.10" y="144.10" width="8.28" height="38.70" fill="#e0e3f0"/>
<rect x="324.38" y="28.00" width="8.28" height="38.70" fill="#a6b0d3"/>
<rect x="324.38" y="66.70" width="8.28" height="38.70" fill="#a9b2d5"/>
<rect x="324.38" y="105.40" width="8.28" height="38.70" fill="#d6daea"/>
<rect x="324.38" y="144.10" width="8.28" height="38.70" fill="#f8f9fc"/>
<rect x="332.66" y="28.00" width="8.28" height="38.70" fill="#a8b2d5"/>
<rect x="332.66" y="66.70" width="8.28" height="38.70" fill="#8e9dc6"/>
<rect x="332.66" y="105.40" width="8.28" height="38.70" fill="#ccd2e6"/>
<rect x="332.66" y="144.10" width="8.28" height="38.70" fill="#bfc6e0"/>
<rect x="340.95" y="28.00" width="8.28" height="38.70" fill="#fff0ee"/>
<rect x="340.95" y="66.70" width="8.28" height="38.70" fill="#f0f2f6"/>
<rect x="340.95" y="105.40" width="8.28" height="38.70" fill="#b5bedb"/>
<rect x="340.95" y="144.10" width="8.28" height="38.70" fill="#b8c0dd"/>
<rect x="349.23" y="28.00" width="8.28" height="38.70" fill="#ffeeee"/>
<rect x="349.23" y="66.70" width="8.28" height="38.70" fill="#f0f2f6"/>
<rect x="349.23" y="105.40" width="8.28" height="38.70" fill="#dfe2ef"/>
<rect x="349.23" y="144.10" width="8.28" height="38.70" fill="#adb7d7"/>
<rect x="357.51" y="28.00" width="8.28" height="38.70" fill="#ffc9c9"/>
<rect x="357.51" y="66.70" width="8.28" height="38.70" fill="#ffe2e2"/>
<rect x="357.51" y="105.40" width="8.28" height="38.70" fill="#ccd3e6"/>
<rect x="357.51" y="144.10" width="8.28" height="38.70" fill="#cdd3e6"/>
<rect x="365.80" y="28.00" width="8.28" height="38.70" fill="#ffcaca"/>
<rect x="365.80" y="66.70" width="8.28" height="38.70" fill="#ffbaba"/>
<rect x="365.80" y="105.40" width="8.28" height="38.70" fill="#d3d8ea"/>
<rect x="365.80" y="144.10" width="8.28" height="38.70" fill="#dfe2ef"/>
<rect x="374.08" y="28.00" width="8.28" height="38.70" fill="#ffe4e4"/>
<rect x="374.08" y="66.70" width="8.28" height="38.70" fill="#ffc3c3"/>
<rect x="374.08" y="105.40" width="8.28" height="38.70" fill="#d5d9ea"/>
<rect x="374.08" y="144.10" width="8.28" height="38.70" fill="#f9fafc"/>
<rect x="382.36" y="28.00" width="8.28" height="38.70" fill="#ffd8d8"/>
<rect x="382.36" y="66.70" width="8.28" height="38.70" fill="#ffdede"/>
<rect x="382.36" y="105.40" width="8.28" height="38.70" fill="#e6e8f2"/>
<rect x="382.36" y="144.10" width="8.28" height="38.70" fill="#f0f1f7"/>
<rect x="390.64" y="28.00" width="8.28" height="38.70" fill="#ffcccc"/>
<rect x="390.64" y="66.70" width="8.28" height="38.70" fill="#ffdada"/>
<rect x="390.64" y="105.40" width="8.28" height="38.70" fill="#dfe2ef"/>
<rect x="390.64" y="144.10" width="8.28" height="38.70" fill="#ecedf5"/>
<rect x="398.93" y="28.00" width="8.28" height="38.70" fill="#ffcccc"/>
<rect x="398.93" y="66.70" width="8.28" height="38.70" fill="#ffd6d6"/>
<rect x="398.93" y="105.40" width="8.28" height="38.70" fill="#e2e5f1"/>
<rect x="398.93" y="144.10" width="8.28" height="38.70" fill="#f1f2f7"/>
<rect x="407.21" y="28.00" width="8.28" height="38.70" fill="#ffdada"/>
<rect x="407.21" y="66.70" width="8.28" height="38.70" fill="#ffbebe"/>
<rect x="407.21" y="105.40" width="8.28" height="38.70" fill="#b3bcda"/>
<rect x="407.21" y="144.10" width="8.28" height="38.70" fill="#b8c0dd"/>
<rect x="415.49" y="28.00" width="8.28" height="38.70" fill="#ffc5c5"/>
<rect x="415.49" y="66.70" width="8.28" height="38.70" fill="#ffbdbd"/>
<rect x="415.49" y="105.40" width="8.28" height="38.70" fill="#a9b3d5"/>
<rect x="415.49" y="144.10" width="8.28" height="38.70" fill="#bac2de"/>
<rect x="423.78" y="28.00" width="8.28" height="38.70" fill="#ffb9b9"/>
<rect x="423.78" y="66.70" width="8.28" height="38.70" fill="#ffb1b1"/>
<rect x="423.78" y="105.40" width="8.28" height="38.70" fill="#c5cce3"/>
<rect x="423.78" y="144.10" width="8.28" height="38.70" fill="#dadded"/>
<rect x="432.06" y="28.00" width="8.28" height="38.70" fill="#ff9f9f"/>
<rect x="432.06" y="66.70" width="8.28" height="38.70" fill="#ffa8a8"/>
<rect x="432.06" y="105.40" width="8.28" height="38.70" fill="#ccd2e6"/>
<rect x="432.06" y="144.10" width="8.28" height="38.70" fill="#dfe2ef"/>
<rect x="440.34" y="28.00" width="8.28" height="38.70" fill="#ff8282"/>
<rect x="440.34" y="66.70" width="8.28" height="38.70" fill="#ff8a8a"/>
<rect x="440.34" y="105.40" width="8.28" height="38.70" fill="#b6bfdc"/>
<rect x="440.34" y="144.10" width="8.28" height="38.70" fill="#9eaad0"/>
<rect x="448.63" y="28.00" width="8.28" height="38.70" fill="#e6eaf4"/>
<rect x="448.63" y="66.70" width="8.28" height="38.70" fill="#ffe6e6"/>
<rect x="448.63" y="105.40" width="8.28" height="38.70" fill="#ffb0b0"/>
<rect x="448.63" y="144.10" width="8.28" height="38.70" fill="#bebebe"/>
<rect x="456.91" y="28.00" width="8.28" height="38.70" fill="#ffe0e0"/>
<rect x="456.91" y="66.70" width="8.28" height="38.70" fill="#ffe6e6"/>
<rect x="456.91" y="105.40" width="8.28" height="38.70" fill="#56679f"/>
<rect x="456.91" y="144.10" width="8.28" height="38.70" fill="#344b91"/>
<rect x="465.19" y="28.00" width="8.28" height="38.70" fill="#ffe8e8"/>
<rect x="465.19" y="66.70" width="8.28" height="38.70" fill="#ffdede"/>
<rect x="465.19" y="105.40" width="8.28" height="38.70" fill="#4c5f9b"/>
<rect x="465.19" y="144.10" width="8.28" height="38.70" fill="#50619c"/>
<rect x="473.47" y="28.00" width="8.28" height="38.70" fill="#ff8080"/>
<rect x="473.47" y="66.70" width="8.28" height="38.70" fill="#ff8080"/>
<rect x="473.47" y="105.40" width="8.28" height="38.70" fill="#24408a"/>
<rect x="473.47" y="144.10" width="8.28" height="38.70" fill="#3c5197"/>
<rect x="481.76" y="28.00" width="8.28" height="38.70" fill="#7888b8"/>
<rect x="481.76" y="66.70" width="8.28" height="38.70" fill="#7888b8"/>
<rect x="481.76" y="105.40" width="8.28" height="38.70" fill="#ffd8d8"/>
<rect x="481.76" y="144.10" width="8.28" height="38.70" fill="#ffd4d4"/>
<rect x="490.04" y="28.00" width="8.28" height="38.70" fill="#7485b7"/>
<rect x="490.04" y="66.70" width="8.28" height="38.70" fill="#7888b8"/>
<rect x="490.04" y="105.40" width="8.28" height="38.70" fill="#ffd6d6"/>
<rect x="490.04" y="144.10" width="8.28" height="38.70" fill="#ffd0d0"/>
<rect x="498.32" y="28.00" width="8.28" height="38.70" fill="#7d8dbb"/>
<rect x="498.32" y="66.70" width="8.28" height="38.70" fill="#7080b5"/>
<rect x="498.32" y="105.40" width="8.28" height="38.70" fill="#ffc2c2"/>
<rect x="498.32" y="144.10" width="8.28" height="38.70" fill="#ffb8b8"/>
<rect x="506.61" y="28.00" width="8.28" height="38.70" fill="#b5bedb"/>
<rect x="506.61" y="66.70" width="8.28" height="38.70" fill="#bac2de"/>
<rect x="506.61" y="105.40" width="8.28" height="38.70" fill="#ffdada"/>
<rect x="506.61" y="144.10" width="8.28" height="38.70" fill="#ffe8e8"/>
<rect x="514.89" y="28.00" width="8.28" height="38.70" fill="#bec6e0"/>
<rect x="514.89" y="66.70" width="8.28" height="38.70" fill="#b5bedb"/>
<rect x="514.89" y="105.40" width="8.28" height="38.70" fill="#ffd8d8"/>
<rect x="514.89" y="144.10" width="8.28" height="38.70" fill="#ffe4e4"/>
<rect x="523.17" y="28.00" width="8.28" height="38.70" fill="#a7b1d4"/>
<rect x="523.17" y="66.70" width="8.28" height="38.70" fill="#a7b1d4"/>
<rect x="523.17" y="105.40" width="8.28" height="38.70" fill="#ffd8d8"/>
<rect x="523.17" y="144.10" width="8.28" height="38.70" fill="#ffc4c4"/>
<rect x="531.46" y="28.00" width="8.28" height="38.70" fill="#bebebe"/>
<rect x="531.46" y="66.70" width="8.28" height="38.70" fill="#bebebe"/>
<rect x="531.46" y="105.40" width="8.28" height="38.70" fill="#ffe4e4"/>
<rect x="531.46" y="144.10" width="8.28" height="38.70" fill="#bebebe"/>
<rect x="539.74" y="28.00" width="8.28" height="38.70" fill="#cdd3e6"/>
<rect x="539.74" y="66.70" width="8.28" height="38.70" fill="#cdd3e6"/>
<rect x="539.74" y="105.40" width="8.28" height="38.70" fill="#ffdede"/>
<rect x="539.74" y="144.10" width="8.28" height="38.70" fill="#ffc0c0"/>
<rect x="548.02" y="28.00" width="8.28" height="38.70" fill="#cdd3e6"/>
<rect x="548.02" y="66.70" width="8.28" height="38.70" fill="#cdd3e6"/>
<rect x="548.02" y="105.40" width="8.28" height="38.70" fill="#ffc0c0"/>
<rect x="548.02" y="144.10" width="8.28" height="38.70" fill="#ffc0c0"/>
<rect x="556.30" y="28.00" width="8.28" height="38.70" fill="#5a6ba6"/>
<rect x="556.30" y="66.70" width="8.28" height="38.70" fill="#6272aa"/>
<rect x="556.30" y="105.40" width="8.28" height="38.70" fill="#ff5a5a"/>
<rect x="556.30" y="144.10" width="8.28" height="38.70" fill="#ff5050"/>
<rect x="564.59" y="28.00" width="8.28" height="38.70" fill="#bebebe"/>
<rect x="564.59" y="66.70" width="8.28" height="38.70" fill="#bebebe"/>
<rect x="564.59" y="105.40" width="8.28" height="38.70" fill="#bebebe"/>
<rect x="564.59" y="144.10" width="8.28" height="38.70" fill="#bebebe"/>
<line x1="274.68" y1="28.00" x2="274.68" y2="182.80" stroke="#ffffff" stroke-width="0.5"/>
<line x1="282.97" y1="28.00" x2="282.97" y2="182.80" stroke="#ffffff" stroke-width="0.5"/>
<line x1="291.25" y1="28.00" x2="291.25" y2="182.80" stroke="#ffffff" stroke-width="0.5"/>
<line x1="299.53" y1="28.00" x2="299.53" y2="182.80" stroke="#ffffff" stroke-width="0.5"/>
<line x1="307.81" y1="28.00" x2="307.81" y2="182.80" stroke="#ffffff" stroke-width="0.5"/>
<line x1="316.10" y1="28.00" x2="316.10" y2="182.80" stroke="#ffffff" stroke-width="0.5"/>
<line x1="324.38" y1="28.00" x2="324.38" y2="182.80" stroke="#ffffff" stroke-width="0.5"/>
<line x1="332.66" y1="28.00" x2="332.66" y2="182.80" stroke="#ffffff" stroke-width="0.5"/>
<line x1="340.95" y1="28.00" x2="340.95" y2="182.80" stroke="#ffffff" stroke-width="0.5"/>
<line x1="349.23" y1="28.00" x2="349.23" y2="182.80" stroke="#ffffff" stroke-width="0.5"/>
<line x1="357.51" y1="28.00" x2="357.51" y2="182.80" stroke="#ffffff" stroke-width="0.5"/>
<line x1="365.80" y1="28.00" x2="365.80" y2="182.80" stroke="#ffffff" stroke-width="0.5"/>
<line x1="374.08" y1="28.00" x2="374.08" y2="182.80" stroke="#ffffff" stroke-width="0.5"/>
<line x1="382.36" y1="28.00" x2="382.36" y2="182.80" stroke="#ffffff" stroke-width="0.5"/>
<line x1="390.64" y1="28.00" x2="390.64" y2="182.80" stroke="#ffffff" stroke-width="0.5"/>
<line x1="398.93" y1="28.00" x2="398.93" y2="182.80" stroke="#ffffff" stroke-width="0.5"/>
<line x1="407.21" y1="28.00" x2="407.21" y2="182.80" stroke="#ffffff" stroke-width="0.5"/>
<line x1="415.49" y1="28.00" x2="415.49" y2="182.80" stroke="#ffffff" stroke-width="0.5"/>
<line x1="423.78" y1="28.00" x2="423.78" y2="182.80" stroke="#ffffff" stroke-width="0.5"/>
<line x1="432.06" y1="28.00" x2="432.06" y2="182.80" stroke="#ffffff" stroke-width="0.5"/>
<line x1="440.34" y1="28.00" x2="440.34" y2="182.80" stroke="#ffffff" stroke-width="0.5"/>
<line x1="448.63" y1="28.00" x2="448.63" y2="182.80" stroke="#ffffff" stroke-width="0.5"/>
<line x1="456.91" y1="28.00" x2="456.91" y2="182.80" stroke="#ffffff" stroke-width="0.5"/>
<line x1="465.19" y1="28.00" x2="465.19" y2="182.80" stroke="#ffffff" stroke-width="0.5"/>
<line x1="473.47" y1="28.00" x2="473.47" y2="182.80" stroke="#ffffff" stroke-width="0.5"/>
<line x1="481.76" y1="28.00" x2="481.76" y2="182.80" stroke="#ffffff" stroke-width="0.5"/>
<line x1="490.04" y1="28.00" x2="490.04" y2="182.80" stroke="#ffffff" stroke-width="0.5"/>
<line x1="498.32" y1="28.00" x2="498.32" y2="182.80" stroke="#ffffff" stroke-width="0.5"/>
<line x1="506.61" y1="28.00" x2="506.61" y2="182.80" stroke="#ffffff" stroke-width="0.5"/>
<line x1="514.89" y1="28.00" x2="514.89" y2="182.80" stroke="#ffffff" stroke-width="0.5"/>
<line x1="523.17" y1="28.00" x2="523.17" y2="182.80" stroke="#ffffff" stroke-width="0.5"/>
<line x1="531.46" y1="28.00" x2="531.46" y2="182.80" stroke="#ffffff" stroke-width="0.5"/>
<line x1="539.74" y1="28.00" x2="539.74" y2="182.80" stroke="#ffffff" stroke-width="0.5"/>
<line x1="548.02" y1="28.00" x2="548.02" y2="182.80" stroke="#ffffff" stroke-width="0.5"/>
<line x1="556.30" y1="28.00" x2="556.30" y2="182.80" stroke="#ffffff" stroke-width="0.5"/>
<line x1="564.59" y1="28.00" x2="564.59" y2="182.80" stroke="#ffffff" stroke-width="0.5"/>
<line x1="266.40" y1="66.70" x2="572.87" y2="66.70" stroke="#ffffff" stroke-width="0.5"/>
<line x1="266.40" y1="105.40" x2="572.87" y2="105.40" stroke="#ffffff" stroke-width="0.5"/>
<line x1="266.40" y1="144.10" x2="572.87" y2="144.10" stroke="#ffffff" stroke-width="0.5"/>
<text x="273.59" y="186.10" font-size="8.45" text-anchor="end" fill="#111" transform="rotate(-90 273.59 186.10)">CD68</text>
<text x="281.87" y="186.10" font-size="8.45" text-anchor="end" fill="#111" transform="rotate(-90 281.87 186.10)">CD40</text>
<text x="290.16" y="186.10" font-size="8.45" text-anchor="end" fill="#111" transform="rotate(-90 290.16 186.10)">CD3E</text>
<text x="298.44" y="186.10" font-size="8.45" text-anchor="end" fill="#111" transform="rotate(-90 298.44 186.10)">CD8A</text>
<text x="306.72" y="186.10" font-size="8.45" text-anchor="end" fill="#111" transform="rotate(-90 306.72 186.10)">IFI16</text>
<text x="315.01" y="186.10" font-size="8.45" text-anchor="end" fill="#111" transform="rotate(-90 315.01 186.10)">HLA-DRA</text>
<text x="323.29" y="186.10" font-size="8.45" text-anchor="end" fill="#111" transform="rotate(-90 323.29 186.10)">CD44</text>
<text x="331.57" y="186.10" font-size="8.45" text-anchor="end" fill="#111" transform="rotate(-90 331.57 186.10)">CD59</text>
<text x="339.86" y="186.10" font-size="8.45" text-anchor="end" fill="#111" transform="rotate(-90 339.86 186.10)">PDCD4</text>
<text x="348.14" y="186.10" font-size="8.45" text-anchor="end" fill="#111" transform="rotate(-90 348.14 186.10)">CD74</text>
<text x="356.42" y="186.10" font-size="8.45" text-anchor="end" fill="#111" transform="rotate(-90 356.42 186.10)">LCP2</text>
<text x="364.70" y="186.10" font-size="8.45" text-anchor="end" fill="#111" transform="rotate(-90 364.70 186.10)">ILF3</text>
<text x="372.99" y="186.10" font-size="8.45" text-anchor="end" fill="#111" transform="rotate(-90 372.99 186.10)">HYOU1</text>
<text x="381.27" y="186.10" font-size="8.45" text-anchor="end" fill="#111" transform="rotate(-90 381.27 186.10)">ILF2</text>
<text x="389.55" y="186.10" font-size="8.45" text-anchor="end" fill="#111" transform="rotate(-90 389.55 186.10)">MNDA</text>
<text x="397.84" y="186.10" font-size="8.45" text-anchor="end" fill="#111" transform="rotate(-90 397.84 186.10)">CD9</text>
<text x="406.12" y="186.10" font-size="8.45" text-anchor="end" fill="#111" transform="rotate(-90 406.12 186.10)">PDCD6IP</text>
<text x="414.40" y="186.10" font-size="8.45" text-anchor="end" fill="#111" transform="rotate(-90 414.40 186.10)">CAPG</text>
<text x="422.69" y="186.10" font-size="8.45" text-anchor="end" fill="#111" transform="rotate(-90 422.69 186.10)">CD163</text>
<text x="430.97" y="186.10" font-size="8.45" text-anchor="end" fill="#111" transform="rotate(-90 430.97 186.10)">IFITM3</text>
<text x="439.25" y="186.10" font-size="8.45" text-anchor="end" fill="#111" transform="rotate(-90 439.25 186.10)">BCAP31</text>
<text x="447.53" y="186.10" font-size="8.45" text-anchor="end" fill="#111" transform="rotate(-90 447.53 186.10)">NCF1B</text>
<text x="455.82" y="186.10" font-size="8.45" text-anchor="end" fill="#111" transform="rotate(-90 455.82 186.10)">CD276</text>
<text x="464.10" y="186.10" font-size="8.45" text-anchor="end" fill="#111" transform="rotate(-90 464.10 186.10)">HLA-DPA1</text>
<text x="472.38" y="186.10" font-size="8.45" text-anchor="end" fill="#111" transform="rotate(-90 472.38 186.10)">LSP1</text>
<text x="480.67" y="186.10" font-size="8.45" text-anchor="end" fill="#111" transform="rotate(-90 480.67 186.10)">CD38</text>
<text x="488.95" y="186.10" font-size="8.45" text-anchor="end" fill="#111" transform="rotate(-90 488.95 186.10)">COL6A3</text>
<text x="497.23" y="186.10" font-size="8.45" text-anchor="end" fill="#111" transform="rotate(-90 497.23 186.10)">ECM1</text>
<text x="505.52" y="186.10" font-size="8.45" text-anchor="end" fill="#111" transform="rotate(-90 505.52 186.10)">LAMC1</text>
<text x="513.80" y="186.10" font-size="8.45" text-anchor="end" fill="#111" transform="rotate(-90 513.80 186.10)">TGFB1I1</text>
<text x="522.08" y="186.10" font-size="8.45" text-anchor="end" fill="#111" transform="rotate(-90 522.08 186.10)">CD55</text>
<text x="530.36" y="186.10" font-size="8.45" text-anchor="end" fill="#111" transform="rotate(-90 530.36 186.10)">CD5L</text>
<text x="538.65" y="186.10" font-size="8.45" text-anchor="end" fill="#111" transform="rotate(-90 538.65 186.10)">NGFR</text>
<text x="546.93" y="186.10" font-size="8.45" text-anchor="end" fill="#111" transform="rotate(-90 546.93 186.10)">FBN1</text>
<text x="555.21" y="186.10" font-size="8.45" text-anchor="end" fill="#111" transform="rotate(-90 555.21 186.10)">PDCD6</text>
<text x="563.50" y="186.10" font-size="8.45" text-anchor="end" fill="#111" transform="rotate(-90 563.50 186.10)">FGB</text>
<text x="571.78" y="186.10" font-size="8.45" text-anchor="end" fill="#111" transform="rotate(-90 571.78 186.10)">CXCL13</text>
<text x="575.60" y="50.35" font-size="8.3" text-anchor="start" fill="#111">G5short_1</text>
<text x="575.60" y="89.05" font-size="8.3" text-anchor="start" fill="#111">G5short_2</text>
<text x="575.60" y="127.75" font-size="8.3" text-anchor="start" fill="#111">G4short_1</text>
<text x="575.60" y="166.45" font-size="8.3" text-anchor="start" fill="#111">G4short_2</text>
<rect x="267.80" y="465.80" width="8.28" height="38.30" fill="#bebebe"/>
<rect x="267.80" y="504.10" width="8.28" height="38.30" fill="#bebebe"/>
<rect x="267.80" y="542.40" width="8.28" height="38.30" fill="#bebebe"/>
<rect x="267.80" y="580.70" width="8.28" height="38.30" fill="#bebebe"/>
<rect x="276.08" y="465.80" width="8.28" height="38.30" fill="#bebebe"/>
<rect x="276.08" y="504.10" width="8.28" height="38.30" fill="#bebebe"/>
<rect x="276.08" y="542.40" width="8.28" height="38.30" fill="#bebebe"/>
<rect x="276.08" y="580.70" width="8.28" height="38.30" fill="#bebebe"/>
<rect x="284.36" y="465.80" width="8.28" height="38.30" fill="#bebebe"/>
<rect x="284.36" y="504.10" width="8.28" height="38.30" fill="#bebebe"/>
<rect x="284.36" y="542.40" width="8.28" height="38.30" fill="#bebebe"/>
<rect x="284.36" y="580.70" width="8.28" height="38.30" fill="#bebebe"/>
<rect x="292.64" y="465.80" width="8.28" height="38.30" fill="#b3bcda"/>
<rect x="292.64" y="504.10" width="8.28" height="38.30" fill="#b3bcda"/>
<rect x="292.64" y="542.40" width="8.28" height="38.30" fill="#2d4890"/>
<rect x="292.64" y="580.70" width="8.28" height="38.30" fill="#34498f"/>
<rect x="300.92" y="465.80" width="8.28" height="38.30" fill="#4f62a0"/>
<rect x="300.92" y="504.10" width="8.28" height="38.30" fill="#5062a0"/>
<rect x="300.92" y="542.40" width="8.28" height="38.30" fill="#ffb8b8"/>
<rect x="300.92" y="580.70" width="8.28" height="38.30" fill="#ffb4b4"/>
<rect x="309.20" y="465.80" width="8.28" height="38.30" fill="#bebebe"/>
<rect x="309.20" y="504.10" width="8.28" height="38.30" fill="#a8b2d5"/>
<rect x="309.20" y="542.40" width="8.28" height="38.30" fill="#f8f9fc"/>
<rect x="309.20" y="580.70" width="8.28" height="38.30" fill="#ffcaca"/>
<rect x="317.48" y="465.80" width="8.28" height="38.30" fill="#bebebe"/>
<rect x="317.48" y="504.10" width="8.28" height="38.30" fill="#bebebe"/>
<rect x="317.48" y="542.40" width="8.28" height="38.30" fill="#93a0ca"/>
<rect x="317.48" y="580.70" width="8.28" height="38.30" fill="#ff9090"/>
<rect x="325.76" y="465.80" width="8.28" height="38.30" fill="#fff8f8"/>
<rect x="325.76" y="504.10" width="8.28" height="38.30" fill="#ffeeee"/>
<rect x="325.76" y="542.40" width="8.28" height="38.30" fill="#7586b7"/>
<rect x="325.76" y="580.70" width="8.28" height="38.30" fill="#5b6ca6"/>
<rect x="334.04" y="465.80" width="8.28" height="38.30" fill="#ff9898"/>
<rect x="334.04" y="504.10" width="8.28" height="38.30" fill="#ffcaca"/>
<rect x="334.04" y="542.40" width="8.28" height="38.30" fill="#5b6ca6"/>
<rect x="334.04" y="580.70" width="8.28" height="38.30" fill="#7584b6"/>
<rect x="342.32" y="465.80" width="8.28" height="38.30" fill="#ffeeee"/>
<rect x="342.32" y="504.10" width="8.28" height="38.30" fill="#ff9090"/>
<rect x="342.32" y="542.40" width="8.28" height="38.30" fill="#5b6ca6"/>
<rect x="342.32" y="580.70" width="8.28" height="38.30" fill="#95a2cc"/>
<rect x="350.60" y="465.80" width="8.28" height="38.30" fill="#ffe2e2"/>
<rect x="350.60" y="504.10" width="8.28" height="38.30" fill="#f8f9fc"/>
<rect x="350.60" y="542.40" width="8.28" height="38.30" fill="#b8c0dd"/>
<rect x="350.60" y="580.70" width="8.28" height="38.30" fill="#a8b2d5"/>
<rect x="358.88" y="465.80" width="8.28" height="38.30" fill="#ffd8d8"/>
<rect x="358.88" y="504.10" width="8.28" height="38.30" fill="#ffeeee"/>
<rect x="358.88" y="542.40" width="8.28" height="38.30" fill="#c2c9e2"/>
<rect x="358.88" y="580.70" width="8.28" height="38.30" fill="#c2c9e2"/>
<rect x="367.16" y="465.80" width="8.28" height="38.30" fill="#ffdede"/>
<rect x="367.16" y="504.10" width="8.28" height="38.30" fill="#ffb0b0"/>
<rect x="367.16" y="542.40" width="8.28" height="38.30" fill="#b5bedb"/>
<rect x="367.16" y="580.70" width="8.28" height="38.30" fill="#a6b0d4"/>
<rect x="375.44" y="465.80" width="8.28" height="38.30" fill="#ffc2c2"/>
<rect x="375.44" y="504.10" width="8.28" height="38.30" fill="#ffb4b4"/>
<rect x="375.44" y="542.40" width="8.28" height="38.30" fill="#acb5d7"/>
<rect x="375.44" y="580.70" width="8.28" height="38.30" fill="#b5bedb"/>
<rect x="383.72" y="465.80" width="8.28" height="38.30" fill="#fff8f8"/>
<rect x="383.72" y="504.10" width="8.28" height="38.30" fill="#ffe2e2"/>
<rect x="383.72" y="542.40" width="8.28" height="38.30" fill="#e6e9f3"/>
<rect x="383.72" y="580.70" width="8.28" height="38.30" fill="#6474ab"/>
<rect x="392.00" y="465.80" width="8.28" height="38.30" fill="#ff7070"/>
<rect x="392.00" y="504.10" width="8.28" height="38.30" fill="#ff9898"/>
<rect x="392.00" y="542.40" width="8.28" height="38.30" fill="#ced4e7"/>
<rect x="392.00" y="580.70" width="8.28" height="38.30" fill="#b5bedb"/>
<rect x="400.28" y="465.80" width="8.28" height="38.30" fill="#ffc0c0"/>
<rect x="400.28" y="504.10" width="8.28" height="38.30" fill="#ffa8a8"/>
<rect x="400.28" y="542.40" width="8.28" height="38.30" fill="#d8dcec"/>
<rect x="400.28" y="580.70" width="8.28" height="38.30" fill="#dcdfee"/>
<rect x="408.56" y="465.80" width="8.28" height="38.30" fill="#ffa0a0"/>
<rect x="408.56" y="504.10" width="8.28" height="38.30" fill="#ff9c9c"/>
<rect x="408.56" y="542.40" width="8.28" height="38.30" fill="#dfe2ef"/>
<rect x="408.56" y="580.70" width="8.28" height="38.30" fill="#e0e3f0"/>
<rect x="416.84" y="465.80" width="8.28" height="38.30" fill="#ff5a5a"/>
<rect x="416.84" y="504.10" width="8.28" height="38.30" fill="#ff2828"/>
<rect x="416.84" y="542.40" width="8.28" height="38.30" fill="#7888b8"/>
<rect x="416.84" y="580.70" width="8.28" height="38.30" fill="#7d8cbb"/>
<rect x="425.12" y="465.80" width="8.28" height="38.30" fill="#ff3838"/>
<rect x="425.12" y="504.10" width="8.28" height="38.30" fill="#ff5a5a"/>
<rect x="425.12" y="542.40" width="8.28" height="38.30" fill="#b8c0dd"/>
<rect x="425.12" y="580.70" width="8.28" height="38.30" fill="#b8c0dd"/>
<rect x="433.40" y="465.80" width="8.28" height="38.30" fill="#ff4a4a"/>
<rect x="433.40" y="504.10" width="8.28" height="38.30" fill="#ff4a4a"/>
<rect x="433.40" y="542.40" width="8.28" height="38.30" fill="#c2c9e2"/>
<rect x="433.40" y="580.70" width="8.28" height="38.30" fill="#c5cce3"/>
<rect x="441.68" y="465.80" width="8.28" height="38.30" fill="#ff6a6a"/>
<rect x="441.68" y="504.10" width="8.28" height="38.30" fill="#ff3c3c"/>
<rect x="441.68" y="542.40" width="8.28" height="38.30" fill="#f8f9fc"/>
<rect x="441.68" y="580.70" width="8.28" height="38.30" fill="#ffd8d8"/>
<rect x="449.96" y="465.80" width="8.28" height="38.30" fill="#ff8080"/>
<rect x="449.96" y="504.10" width="8.28" height="38.30" fill="#ff1010"/>
<rect x="449.96" y="542.40" width="8.28" height="38.30" fill="#ffcccc"/>
<rect x="449.96" y="580.70" width="8.28" height="38.30" fill="#ffa8a8"/>
<rect x="458.24" y="465.80" width="8.28" height="38.30" fill="#bebebe"/>
<rect x="458.24" y="504.10" width="8.28" height="38.30" fill="#bebebe"/>
<rect x="458.24" y="542.40" width="8.28" height="38.30" fill="#ffd6d6"/>
<rect x="458.24" y="580.70" width="8.28" height="38.30" fill="#d5d9ea"/>
<rect x="466.52" y="465.80" width="8.28" height="38.30" fill="#ff4848"/>
<rect x="466.52" y="504.10" width="8.28" height="38.30" fill="#ff3a3a"/>
<rect x="466.52" y="542.40" width="8.28" height="38.30" fill="#f8f9fc"/>
<rect x="466.52" y="580.70" width="8.28" height="38.30" fill="#e4e7f2"/>
<rect x="474.80" y="465.80" width="8.28" height="38.30" fill="#ff0000"/>
<rect x="474.80" y="504.10" width="8.28" height="38.30" fill="#ff3a3a"/>
<rect x="474.80" y="542.40" width="8.28" height="38.30" fill="#ffcaca"/>
<rect x="474.80" y="580.70" width="8.28" height="38.30" fill="#fff8f8"/>
<rect x="483.08" y="465.80" width="8.28" height="38.30" fill="#5b6ca6"/>
<rect x="483.08" y="504.10" width="8.28" height="38.30" fill="#7888b8"/>
<rect x="483.08" y="542.40" width="8.28" height="38.30" fill="#ff5050"/>
<rect x="483.08" y="580.70" width="8.28" height="38.30" fill="#ff5050"/>
<rect x="491.36" y="465.80" width="8.28" height="38.30" fill="#bebebe"/>
<rect x="491.36" y="504.10" width="8.28" height="38.30" fill="#6677ad"/>
<rect x="491.36" y="542.40" width="8.28" height="38.30" fill="#bebebe"/>
<rect x="491.36" y="580.70" width="8.28" height="38.30" fill="#ff0000"/>
<rect x="499.64" y="465.80" width="8.28" height="38.30" fill="#7a8aba"/>
<rect x="499.64" y="504.10" width="8.28" height="38.30" fill="#8a98c3"/>
<rect x="499.64" y="542.40" width="8.28" height="38.30" fill="#ff0808"/>
<rect x="499.64" y="580.70" width="8.28" height="38.30" fill="#ff0505"/>
<rect x="507.92" y="465.80" width="8.28" height="38.30" fill="#e2e5f1"/>
<rect x="507.92" y="504.10" width="8.28" height="38.30" fill="#ffb8b8"/>
<rect x="507.92" y="542.40" width="8.28" height="38.30" fill="#ffd8d8"/>
<rect x="507.92" y="580.70" width="8.28" height="38.30" fill="#ffb8b8"/>
<rect x="516.20" y="465.80" width="8.28" height="38.30" fill="#fafbfd"/>
<rect x="516.20" y="504.10" width="8.28" height="38.30" fill="#e6e9f3"/>
<rect x="516.20" y="542.40" width="8.28" height="38.30" fill="#ff8080"/>
<rect x="516.20" y="580.70" width="8.28" height="38.30" fill="#ff9898"/>
<rect x="524.48" y="465.80" width="8.28" height="38.30" fill="#fafbfd"/>
<rect x="524.48" y="504.10" width="8.28" height="38.30" fill="#dfe2ef"/>
<rect x="524.48" y="542.40" width="8.28" height="38.30" fill="#ff6868"/>
<rect x="524.48" y="580.70" width="8.28" height="38.30" fill="#ff8080"/>
<rect x="532.76" y="465.80" width="8.28" height="38.30" fill="#ffbcbc"/>
<rect x="532.76" y="504.10" width="8.28" height="38.30" fill="#ffc0c0"/>
<rect x="532.76" y="542.40" width="8.28" height="38.30" fill="#ff5858"/>
<rect x="532.76" y="580.70" width="8.28" height="38.30" fill="#ff6a6a"/>
<rect x="541.04" y="465.80" width="8.28" height="38.30" fill="#ffeeee"/>
<rect x="541.04" y="504.10" width="8.28" height="38.30" fill="#ffe4e4"/>
<rect x="541.04" y="542.40" width="8.28" height="38.30" fill="#ff3030"/>
<rect x="541.04" y="580.70" width="8.28" height="38.30" fill="#ff5050"/>
<rect x="549.32" y="465.80" width="8.28" height="38.30" fill="#ffe2e2"/>
<rect x="549.32" y="504.10" width="8.28" height="38.30" fill="#ffdcdc"/>
<rect x="549.32" y="542.40" width="8.28" height="38.30" fill="#ff1c1c"/>
<rect x="549.32" y="580.70" width="8.28" height="38.30" fill="#ff3030"/>
<rect x="557.60" y="465.80" width="8.28" height="38.30" fill="#bebebe"/>
<rect x="557.60" y="504.10" width="8.28" height="38.30" fill="#bebebe"/>
<rect x="557.60" y="542.40" width="8.28" height="38.30" fill="#bebebe"/>
<rect x="557.60" y="580.70" width="8.28" height="38.30" fill="#bebebe"/>
<line x1="276.08" y1="465.80" x2="276.08" y2="619.00" stroke="#ffffff" stroke-width="0.5"/>
<line x1="284.36" y1="465.80" x2="284.36" y2="619.00" stroke="#ffffff" stroke-width="0.5"/>
<line x1="292.64" y1="465.80" x2="292.64" y2="619.00" stroke="#ffffff" stroke-width="0.5"/>
<line x1="300.92" y1="465.80" x2="300.92" y2="619.00" stroke="#ffffff" stroke-width="0.5"/>
<line x1="309.20" y1="465.80" x2="309.20" y2="619.00" stroke="#ffffff" stroke-width="0.5"/>
<line x1="317.48" y1="465.80" x2="317.48" y2="619.00" stroke="#ffffff" stroke-width="0.5"/>
<line x1="325.76" y1="465.80" x2="325.76" y2="619.00" stroke="#ffffff" stroke-width="0.5"/>
<line x1="334.04" y1="465.80" x2="334.04" y2="619.00" stroke="#ffffff" stroke-width="0.5"/>
<line x1="342.32" y1="465.80" x2="342.32" y2="619.00" stroke="#ffffff" stroke-width="0.5"/>
<line x1="350.60" y1="465.80" x2="350.60" y2="619.00" stroke="#ffffff" stroke-width="0.5"/>
<line x1="358.88" y1="465.80" x2="358.88" y2="619.00" stroke="#ffffff" stroke-width="0.5"/>
<line x1="367.16" y1="465.80" x2="367.16" y2="619.00" stroke="#ffffff" stroke-width="0.5"/>
<line x1="375.44" y1="465.80" x2="375.44" y2="619.00" stroke="#ffffff" stroke-width="0.5"/>
<line x1="383.72" y1="465.80" x2="383.72" y2="619.00" stroke="#ffffff" stroke-width="0.5"/>
<line x1="392.00" y1="465.80" x2="392.00" y2="619.00" stroke="#ffffff" stroke-width="0.5"/>
<line x1="400.28" y1="465.80" x2="400.28" y2="619.00" stroke="#ffffff" stroke-width="0.5"/>
<line x1="408.56" y1="465.80" x2="408.56" y2="619.00" stroke="#ffffff" stroke-width="0.5"/>
<line x1="416.84" y1="465.80" x2="416.84" y2="619.00" stroke="#ffffff" stroke-width="0.5"/>
<line x1="425.12" y1="465.80" x2="425.12" y2="619.00" stroke="#ffffff" stroke-width="0.5"/>
<line x1="433.40" y1="465.80" x2="433.40" y2="619.00" stroke="#ffffff" stroke-width="0.5"/>
<line x1="441.68" y1="465.80" x2="441.68" y2="619.00" stroke="#ffffff" stroke-width="0.5"/>
<line x1="449.96" y1="465.80" x2="449.96" y2="619.00" stroke="#ffffff" stroke-width="0.5"/>
<line x1="458.24" y1="465.80" x2="458.24" y2="619.00" stroke="#ffffff" stroke-width="0.5"/>
<line x1="466.52" y1="465.80" x2="466.52" y2="619.00" stroke="#ffffff" stroke-width="0.5"/>
<line x1="474.80" y1="465.80" x2="474.80" y2="619.00" stroke="#ffffff" stroke-width="0.5"/>
<line x1="483.08" y1="465.80" x2="483.08" y2="619.00" stroke="#ffffff" stroke-width="0.5"/>
<line x1="491.36" y1="465.80" x2="491.36" y2="619.00" stroke="#ffffff" stroke-width="0.5"/>
<line x1="499.64" y1="465.80" x2="499.64" y2="619.00" stroke="#ffffff" stroke-width="0.5"/>
<line x1="507.92" y1="465.80" x2="507.92" y2="619.00" stroke="#ffffff" stroke-width="0.5"/>
<line x1="516.20" y1="465.80" x2="516.20" y2="619.00" stroke="#ffffff" stroke-width="0.5"/>
<line x1="524.48" y1="465.80" x2="524.48" y2="619.00" stroke="#ffffff" stroke-width="0.5"/>
<line x1="532.76" y1="465.80" x2="532.76" y2="619.00" stroke="#ffffff" stroke-width="0.5"/>
<line x1="541.04" y1="465.80" x2="541.04" y2="619.00" stroke="#ffffff" stroke-width="0.5"/>
<line x1="549.32" y1="465.80" x2="549.32" y2="619.00" stroke="#ffffff" stroke-width="0.5"/>
<line x1="557.60" y1="465.80" x2="557.60" y2="619.00" stroke="#ffffff" stroke-width="0.5"/>
<line x1="267.80" y1="504.10" x2="565.88" y2="504.10" stroke="#ffffff" stroke-width="0.5"/>
<line x1="267.80" y1="542.40" x2="565.88" y2="542.40" stroke="#ffffff" stroke-width="0.5"/>
<line x1="267.80" y1="580.70" x2="565.88" y2="580.70" stroke="#ffffff" stroke-width="0.5"/>
<text x="274.99" y="622.30" font-size="8.45" text-anchor="end" fill="#111" transform="rotate(-90 274.99 622.30)">CD68</text>
<text x="283.27" y="622.30" font-size="8.45" text-anchor="end" fill="#111" transform="rotate(-90 283.27 622.30)">CD40</text>
<text x="291.55" y="622.30" font-size="8.45" text-anchor="end" fill="#111" transform="rotate(-90 291.55 622.30)">CD3E</text>
<text x="299.83" y="622.30" font-size="8.45" text-anchor="end" fill="#111" transform="rotate(-90 299.83 622.30)">ALCAM</text>
<text x="308.11" y="622.30" font-size="8.45" text-anchor="end" fill="#111" transform="rotate(-90 308.11 622.30)">COL12A1</text>
<text x="316.39" y="622.30" font-size="8.45" text-anchor="end" fill="#111" transform="rotate(-90 316.39 622.30)">NGFR</text>
<text x="324.67" y="622.30" font-size="8.45" text-anchor="end" fill="#111" transform="rotate(-90 324.67 622.30)">CCL21</text>
<text x="332.95" y="622.30" font-size="8.45" text-anchor="end" fill="#111" transform="rotate(-90 332.95 622.30)">CD14</text>
<text x="341.23" y="622.30" font-size="8.45" text-anchor="end" fill="#111" transform="rotate(-90 341.23 622.30)">NCF2</text>
<text x="349.51" y="622.30" font-size="8.45" text-anchor="end" fill="#111" transform="rotate(-90 349.51 622.30)">NCF4</text>
<text x="357.79" y="622.30" font-size="8.45" text-anchor="end" fill="#111" transform="rotate(-90 357.79 622.30)">FGA</text>
<text x="366.07" y="622.30" font-size="8.45" text-anchor="end" fill="#111" transform="rotate(-90 366.07 622.30)">MNDA</text>
<text x="374.35" y="622.30" font-size="8.45" text-anchor="end" fill="#111" transform="rotate(-90 374.35 622.30)">PDCD6</text>
<text x="382.63" y="622.30" font-size="8.45" text-anchor="end" fill="#111" transform="rotate(-90 382.63 622.30)">IRF2BP2</text>
<text x="390.91" y="622.30" font-size="8.45" text-anchor="end" fill="#111" transform="rotate(-90 390.91 622.30)">CD276</text>
<text x="399.19" y="622.30" font-size="8.45" text-anchor="end" fill="#111" transform="rotate(-90 399.19 622.30)">CD5L</text>
<text x="407.47" y="622.30" font-size="8.45" text-anchor="end" fill="#111" transform="rotate(-90 407.47 622.30)">CD163</text>
<text x="415.75" y="622.30" font-size="8.45" text-anchor="end" fill="#111" transform="rotate(-90 415.75 622.30)">LAMB2</text>
<text x="424.03" y="622.30" font-size="8.45" text-anchor="end" fill="#111" transform="rotate(-90 424.03 622.30)">COL15A1</text>
<text x="432.31" y="622.30" font-size="8.45" text-anchor="end" fill="#111" transform="rotate(-90 432.31 622.30)">CD109</text>
<text x="440.59" y="622.30" font-size="8.45" text-anchor="end" fill="#111" transform="rotate(-90 440.59 622.30)">COL6A3</text>
<text x="448.87" y="622.30" font-size="8.45" text-anchor="end" fill="#111" transform="rotate(-90 448.87 622.30)">HLA-DRA</text>
<text x="457.15" y="622.30" font-size="8.45" text-anchor="end" fill="#111" transform="rotate(-90 457.15 622.30)">ISG20</text>
<text x="465.43" y="622.30" font-size="8.45" text-anchor="end" fill="#111" transform="rotate(-90 465.43 622.30)">CD247</text>
<text x="473.71" y="622.30" font-size="8.45" text-anchor="end" fill="#111" transform="rotate(-90 473.71 622.30)">CD59</text>
<text x="481.99" y="622.30" font-size="8.45" text-anchor="end" fill="#111" transform="rotate(-90 481.99 622.30)">HLA-DRB4</text>
<text x="490.27" y="622.30" font-size="8.45" text-anchor="end" fill="#111" transform="rotate(-90 490.27 622.30)">CD55</text>
<text x="498.55" y="622.30" font-size="8.45" text-anchor="end" fill="#111" transform="rotate(-90 498.55 622.30)">CD8A</text>
<text x="506.83" y="622.30" font-size="8.45" text-anchor="end" fill="#111" transform="rotate(-90 506.83 622.30)">LSP1</text>
<text x="515.11" y="622.30" font-size="8.45" text-anchor="end" fill="#111" transform="rotate(-90 515.11 622.30)">TGFB1I1</text>
<text x="523.39" y="622.30" font-size="8.45" text-anchor="end" fill="#111" transform="rotate(-90 523.39 622.30)">STING1</text>
<text x="531.67" y="622.30" font-size="8.45" text-anchor="end" fill="#111" transform="rotate(-90 531.67 622.30)">ECM1</text>
<text x="539.95" y="622.30" font-size="8.45" text-anchor="end" fill="#111" transform="rotate(-90 539.95 622.30)">HLA-DQB1</text>
<text x="548.23" y="622.30" font-size="8.45" text-anchor="end" fill="#111" transform="rotate(-90 548.23 622.30)">IFI16</text>
<text x="556.51" y="622.30" font-size="8.45" text-anchor="end" fill="#111" transform="rotate(-90 556.51 622.30)">PDCD4</text>
<text x="564.79" y="622.30" font-size="8.45" text-anchor="end" fill="#111" transform="rotate(-90 564.79 622.30)">BCL10</text>
<text x="569.40" y="487.95" font-size="8.3" text-anchor="start" fill="#111">G5long_1</text>
<text x="569.40" y="526.25" font-size="8.3" text-anchor="start" fill="#111">G5long_2</text>
<text x="569.40" y="564.55" font-size="8.3" text-anchor="start" fill="#111">G4long_1</text>
<text x="569.40" y="602.85" font-size="8.3" text-anchor="start" fill="#111">G4long_2</text>
<defs><linearGradient id="g1" x1="0" y1="0" x2="0" y2="1"><stop offset="0" stop-color="#ff0000"/><stop offset="0.5" stop-color="#ffffff"/><stop offset="1" stop-color="#283f8d"/></linearGradient></defs>
<rect x="641.70" y="80.00" width="12.40" height="53.60" fill="url(#g1)"/>
<line x1="654.10" y1="81.50" x2="655.90" y2="81.50" stroke="#333" stroke-width="0.6"/>
<text x="665.80" y="84.10" font-size="8.3" text-anchor="middle" fill="#000">1.5</text>
<line x1="654.10" y1="98.30" x2="655.90" y2="98.30" stroke="#333" stroke-width="0.6"/>
<text x="665.80" y="100.90" font-size="8.3" text-anchor="middle" fill="#000">0.5</text>
<line x1="654.10" y1="115.50" x2="655.90" y2="115.50" stroke="#333" stroke-width="0.6"/>
<text x="665.80" y="118.10" font-size="8.3" text-anchor="middle" fill="#000">-0.5</text>
<line x1="654.10" y1="132.10" x2="655.90" y2="132.10" stroke="#333" stroke-width="0.6"/>
<text x="665.80" y="134.70" font-size="8.3" text-anchor="middle" fill="#000">-1.5</text>
<line x1="654.10" y1="89.90" x2="655.60" y2="89.90" stroke="#cccccc" stroke-width="0.6"/>
<line x1="654.10" y1="106.70" x2="655.60" y2="106.70" stroke="#cccccc" stroke-width="0.6"/>
<line x1="654.10" y1="123.90" x2="655.60" y2="123.90" stroke="#cccccc" stroke-width="0.6"/>
<text x="636.50" y="104.50" font-size="8.45" text-anchor="middle" fill="#000" transform="rotate(-90 636.50 104.50)">Log2 relative expression level</text>
<defs><linearGradient id="g2" x1="0" y1="0" x2="0" y2="1"><stop offset="0" stop-color="#ff0000"/><stop offset="0.5" stop-color="#ffffff"/><stop offset="1" stop-color="#283f8d"/></linearGradient></defs>
<rect x="637.30" y="525.50" width="12.30" height="50.10" fill="url(#g2)"/>
<line x1="649.60" y1="533.90" x2="651.40" y2="533.90" stroke="#333" stroke-width="0.6"/>
<text x="659.90" y="536.50" font-size="8.3" text-anchor="middle" fill="#000">0.5</text>
<line x1="649.60" y1="550.80" x2="651.40" y2="550.80" stroke="#333" stroke-width="0.6"/>
<text x="659.90" y="553.40" font-size="8.3" text-anchor="middle" fill="#000">0</text>
<line x1="649.60" y1="567.20" x2="651.40" y2="567.20" stroke="#333" stroke-width="0.6"/>
<text x="659.90" y="569.80" font-size="8.3" text-anchor="middle" fill="#000">-0.5</text>
<text x="632.40" y="550.80" font-size="8.45" text-anchor="middle" fill="#000" transform="rotate(-90 632.40 550.80)">Log2 relative expression level</text>
<line x1="270.54" y1="20.30" x2="568.73" y2="20.30" stroke="#333" stroke-width="0.7"/>
<line x1="270.54" y1="20.30" x2="270.54" y2="28.00" stroke="#333" stroke-width="0.7"/>
<line x1="278.82" y1="20.30" x2="278.82" y2="28.00" stroke="#333" stroke-width="0.7"/>
<line x1="287.11" y1="20.30" x2="287.11" y2="28.00" stroke="#333" stroke-width="0.7"/>
<line x1="568.73" y1="20.30" x2="568.73" y2="28.00" stroke="#333" stroke-width="0.7"/>
<line x1="421.40" y1="20.30" x2="421.40" y2="23.10" stroke="#222" stroke-width="0.7"/>
<line x1="371.90" y1="23.10" x2="425.30" y2="23.10" stroke="#222" stroke-width="0.9"/>
<line x1="318.50" y1="23.80" x2="371.90" y2="23.80" stroke="#8a8a8a" stroke-width="0.9"/>
<line x1="425.30" y1="23.80" x2="452.90" y2="23.80" stroke="#8a8a8a" stroke-width="0.8"/>
<line x1="452.90" y1="23.80" x2="452.90" y2="26.00" stroke="#8a8a8a" stroke-width="0.6"/>
<line x1="318.50" y1="23.80" x2="318.50" y2="25.80" stroke="#222" stroke-width="0.6"/>
<line x1="305.30" y1="25.80" x2="318.50" y2="25.80" stroke="#222" stroke-width="0.8"/>
<line x1="305.30" y1="25.80" x2="305.30" y2="27.30" stroke="#222" stroke-width="0.6"/>
<line x1="295.30" y1="27.30" x2="305.30" y2="27.30" stroke="#222" stroke-width="0.7"/>
<line x1="323.70" y1="26.10" x2="330.70" y2="26.10" stroke="#222" stroke-width="1.0"/>
<line x1="330.70" y1="26.10" x2="336.40" y2="26.10" stroke="#8a8a8a" stroke-width="0.8"/>
<line x1="340.00" y1="25.90" x2="361.80" y2="25.90" stroke="#8a8a8a" stroke-width="0.8"/>
<line x1="361.80" y1="25.80" x2="375.80" y2="25.80" stroke="#222" stroke-width="0.9"/>
<line x1="375.80" y1="25.80" x2="397.70" y2="25.80" stroke="#8a8a8a" stroke-width="0.9"/>
<line x1="397.70" y1="25.40" x2="434.50" y2="25.40" stroke="#222" stroke-width="0.9"/>
<line x1="434.50" y1="25.60" x2="444.60" y2="25.60" stroke="#8a8a8a" stroke-width="0.8"/>
<line x1="444.60" y1="25.60" x2="444.60" y2="27.20" stroke="#222" stroke-width="0.6"/>
<line x1="460.80" y1="26.20" x2="470.90" y2="26.20" stroke="#222" stroke-width="0.9"/>
<line x1="470.90" y1="23.10" x2="470.90" y2="25.30" stroke="#222" stroke-width="0.6"/>
<line x1="470.90" y1="25.30" x2="477.40" y2="25.30" stroke="#222" stroke-width="0.7"/>
<line x1="477.40" y1="25.30" x2="477.40" y2="27.00" stroke="#222" stroke-width="0.6"/>
<line x1="486.60" y1="26.50" x2="496.30" y2="26.50" stroke="#8a8a8a" stroke-width="0.8"/>
<line x1="496.30" y1="25.90" x2="515.50" y2="25.90" stroke="#222" stroke-width="0.8"/>
<line x1="515.50" y1="25.20" x2="535.80" y2="25.20" stroke="#222" stroke-width="1.1"/>
<line x1="538.40" y1="20.30" x2="538.40" y2="24.90" stroke="#222" stroke-width="0.7"/>
<line x1="537.50" y1="24.90" x2="560.50" y2="24.90" stroke="#8a8a8a" stroke-width="0.9"/>
<line x1="560.50" y1="24.90" x2="560.50" y2="28.00" stroke="#222" stroke-width="0.7"/>
<line x1="543.60" y1="27.00" x2="548.90" y2="27.00" stroke="#222" stroke-width="0.8"/>
<line x1="452.90" y1="23.80" x2="470.90" y2="23.80" stroke="#8a8a8a" stroke-width="0.7"/>
<line x1="271.94" y1="457.50" x2="561.74" y2="457.50" stroke="#333" stroke-width="0.7"/>
<line x1="271.94" y1="457.50" x2="271.94" y2="465.80" stroke="#333" stroke-width="0.7"/>
<line x1="280.22" y1="457.50" x2="280.22" y2="465.80" stroke="#333" stroke-width="0.7"/>
<line x1="288.50" y1="457.50" x2="288.50" y2="465.80" stroke="#333" stroke-width="0.7"/>
<line x1="561.74" y1="457.50" x2="561.74" y2="465.80" stroke="#333" stroke-width="0.7"/>
<line x1="367.50" y1="457.50" x2="367.50" y2="459.20" stroke="#222" stroke-width="0.6"/>
<line x1="297.00" y1="459.20" x2="428.80" y2="459.20" stroke="#8a8a8a" stroke-width="0.9"/>
<line x1="297.00" y1="460.10" x2="315.80" y2="460.10" stroke="#222" stroke-width="0.8"/>
<line x1="297.00" y1="460.10" x2="297.00" y2="465.80" stroke="#222" stroke-width="0.7"/>
<line x1="315.80" y1="460.10" x2="315.80" y2="462.80" stroke="#222" stroke-width="0.6"/>
<line x1="305.30" y1="462.80" x2="322.00" y2="462.80" stroke="#222" stroke-width="0.8"/>
<line x1="305.30" y1="462.80" x2="305.30" y2="465.80" stroke="#222" stroke-width="0.6"/>
<line x1="322.00" y1="462.80" x2="322.00" y2="465.80" stroke="#222" stroke-width="0.6"/>
<line x1="313.20" y1="462.80" x2="313.20" y2="465.80" stroke="#222" stroke-width="0.6"/>
<line x1="330.30" y1="464.30" x2="340.80" y2="464.30" stroke="#222" stroke-width="0.8"/>
<line x1="340.80" y1="463.30" x2="355.30" y2="463.30" stroke="#222" stroke-width="0.9"/>
<line x1="355.30" y1="464.00" x2="365.30" y2="464.00" stroke="#8a8a8a" stroke-width="0.8"/>
<line x1="365.30" y1="462.60" x2="390.30" y2="462.60" stroke="#222" stroke-width="1.1"/>
<line x1="390.30" y1="464.00" x2="396.40" y2="464.00" stroke="#8a8a8a" stroke-width="0.8"/>
<line x1="396.40" y1="461.90" x2="428.00" y2="461.90" stroke="#222" stroke-width="0.9"/>
<line x1="428.80" y1="459.20" x2="428.80" y2="461.20" stroke="#222" stroke-width="0.6"/>
<line x1="428.00" y1="461.20" x2="461.70" y2="461.20" stroke="#222" stroke-width="0.8"/>
<line x1="461.70" y1="461.20" x2="461.70" y2="463.20" stroke="#222" stroke-width="0.6"/>
<line x1="421.40" y1="464.50" x2="427.50" y2="464.50" stroke="#222" stroke-width="0.9"/>
<line x1="429.30" y1="464.50" x2="437.10" y2="464.50" stroke="#222" stroke-width="0.8"/>
<line x1="445.90" y1="464.50" x2="453.80" y2="464.50" stroke="#222" stroke-width="0.8"/>
<line x1="450.30" y1="463.30" x2="478.80" y2="463.30" stroke="#222" stroke-width="0.9"/>
<line x1="512.00" y1="457.50" x2="512.00" y2="460.80" stroke="#222" stroke-width="0.6"/>
<line x1="493.60" y1="460.80" x2="530.80" y2="460.80" stroke="#222" stroke-width="0.8"/>
<line x1="493.60" y1="460.80" x2="493.60" y2="463.80" stroke="#222" stroke-width="0.6"/>
<line x1="530.80" y1="460.80" x2="530.80" y2="463.00" stroke="#222" stroke-width="0.6"/>
<line x1="487.50" y1="464.00" x2="503.70" y2="464.00" stroke="#222" stroke-width="0.8"/>
<line x1="512.00" y1="464.00" x2="525.20" y2="464.00" stroke="#222" stroke-width="0.9"/>
<line x1="530.80" y1="463.00" x2="543.00" y2="463.00" stroke="#8a8a8a" stroke-width="0.8"/>
<line x1="518.50" y1="464.20" x2="524.60" y2="464.20" stroke="#222" stroke-width="0.9"/>
<line x1="536.90" y1="464.20" x2="543.90" y2="464.20" stroke="#8a8a8a" stroke-width="0.8"/>
<line x1="544.80" y1="464.20" x2="554.00" y2="464.20" stroke="#222" stroke-width="0.9"/>
<path d="M105.8 98.9h0M109.9 163.4h0M106.0 88.7h0M104.0 145.5h0M102.5 150.0h0M111.9 83.4h0M109.5 122.5h0M111.1 104.7h0M114.1 141.7h0M107.3 140.2h0M108.1 163.7h0M114.1 136.3h0M123.0 160.9h0M112.7 152.3h0M113.0 132.5h0M115.0 158.9h0M108.7 127.3h0M109.3 124.7h0M82.7 157.2h0M112.7 136.8h0M111.0 113.5h0M108.4 142.0h0M112.0 164.1h0M110.5 110.7h0M113.1 157.7h0M117.7 150.0h0M107.7 102.9h0M107.0 132.4h0M109.5 109.3h0M104.5 132.2h0M102.4 169.0h0M102.1 142.9h0M105.1 118.8h0M116.4 147.5h0M114.3 138.1h0M103.5 123.8h0M106.4 135.5h0M106.3 174.2h0M107.6 113.9h0M117.3 162.3h0M114.3 144.7h0M108.0 165.9h0M112.1 96.5h0M112.9 120.6h0M108.7 97.3h0M108.0 112.5h0M117.4 170.7h0M106.2 151.2h0M106.9 108.2h0M117.5 145.8h0M110.5 94.4h0M115.1 166.7h0M106.8 148.3h0M108.8 119.4h0M108.2 122.6h0M112.8 124.0h0M112.7 117.8h0M110.8 173.4h0M112.6 130.3h0M106.5 166.7h0M113.0 135.8h0M111.4 104.4h0M108.1 100.5h0M112.4 145.5h0M106.2 128.4h0M101.1 144.7h0M109.7 127.0h0M111.2 144.1h0M111.8 98.7h0M107.0 158.6h0M101.2 158.7h0M107.2 100.7h0M102.8 119.7h0M111.3 124.4h0M109.7 107.7h0M108.2 142.2h0M107.1 125.3h0M107.1 116.1h0M113.8 110.3h0M109.8 124.4h0M97.3 158.1h0M108.9 90.2h0M112.8 157.4h0M107.8 123.1h0M112.3 123.5h0M91.3 145.9h0M108.4 163.8h0M106.0 113.8h0M107.7 135.8h0M109.6 118.4h0M111.5 138.9h0M108.0 121.1h0M105.9 108.2h0M107.9 145.3h0M109.3 161.8h0M110.1 163.7h0M107.6 107.5h0M109.7 122.2h0M110.1 145.7h0M107.8 149.3h0M108.7 120.9h0M106.0 99.7h0M105.7 156.5h0M113.3 159.6h0M116.6 141.8h0M110.3 95.0h0M108.5 132.2h0M114.1 132.1h0M115.4 120.1h0M108.9 113.2h0M113.5 106.3h0M105.6 96.0h0M108.3 106.0h0M110.9 120.7h0M110.2 160.0h0M107.1 168.8h0M113.1 173.7h0M128.2 160.4h0M104.8 122.2h0M111.5 154.3h0M104.4 142.2h0M115.1 128.4h0M109.1 150.6h0M114.8 177.0h0M111.4 93.5h0M107.9 98.3h0M113.8 122.4h0M129.2 156.0h0M112.6 138.5h0M110.6 118.9h0M105.1 132.4h0M114.3 151.5h0M110.8 106.2h0M111.3 127.4h0M111.1 131.8h0M111.2 97.9h0M105.8 107.7h0M112.3 128.5h0M113.0 111.9h0M110.3 130.9h0M112.9 104.9h0M115.7 130.4h0M119.9 166.2h0M104.6 122.1h0M120.7 166.3h0M106.4 130.0h0M118.7 169.5h0M99.0 151.1h0M113.8 136.0h0M106.1 162.9h0M108.6 116.0h0M105.9 118.0h0M102.5 119.7h0M102.7 127.2h0M109.8 143.2h0M106.2 138.5h0M106.7 140.9h0M109.2 169.4h0M114.8 119.4h0M116.3 164.4h0M105.7 120.4h0M116.8 165.9h0M108.3 125.5h0M112.8 126.5h0M133.3 148.0h0M108.2 114.6h0M110.4 158.9h0M113.7 120.8h0M105.4 149.6h0M109.7 176.2h0M118.3 156.5h0M90.3 186.0h0M115.7 121.8h0M103.5 106.9h0M109.7 94.1h0M103.9 119.3h0M112.4 125.2h0M89.2 178.7h0M100.1 159.4h0M113.5 166.5h0M110.8 133.6h0M121.9 148.3h0M111.0 91.1h0M105.4 92.3h0M111.9 158.1h0M113.5 141.4h0M91.5 155.3h0M112.6 88.9h0M110.9 130.7h0M105.2 101.5h0M114.6 126.0h0M108.1 167.9h0M113.1 102.9h0M109.8 114.9h0M110.7 155.0h0M110.5 110.5h0M109.2 149.9h0M109.0 141.2h0M109.1 166.0h0M108.7 128.8h0M114.8 103.1h0M120.4 151.2h0M109.4 125.9h0M109.0 102.6h0M108.5 140.6h0M113.0 167.7h0M116.3 146.5h0M107.4 110.4h0M112.7 155.2h0M111.9 152.3h0M113.8 121.0h0M106.8 113.0h0M112.1 175.1h0M110.9 161.7h0M112.9 142.5h0M104.7 124.6h0M108.7 94.7h0M107.9 122.6h0M104.2 128.3h0M109.9 120.8h0M103.9 157.1h0M113.3 157.0h0M108.7 160.9h0M114.1 131.1h0M104.3 114.0h0M108.5 129.9h0M106.5 142.7h0M103.5 143.6h0M107.6 122.4h0M112.3 123.5h0M108.7 93.1h0M104.8 136.8h0M109.6 124.8h0M110.5 118.4h0M112.8 163.5h0M107.1 149.6h0M135.6 157.3h0M113.3 144.2h0M112.3 123.1h0M105.5 94.2h0M108.0 99.1h0M108.6 116.8h0M112.7 121.3h0M107.5 159.5h0M107.2 139.1h0M120.7 162.5h0M113.6 163.5h0M108.5 162.8h0M107.9 116.3h0M111.6 116.7h0M111.8 120.0h0M109.1 108.9h0M111.1 106.3h0M111.7 124.7h0M109.0 103.2h0M127.3 160.4h0M113.5 115.6h0M107.5 141.3h0M103.8 130.3h0M109.0 157.5h0M110.2 118.2h0M108.4 127.4h0M104.4 145.9h0M108.6 109.0h0M114.3 154.9h0M110.4 121.5h0M115.9 159.2h0M113.6 172.2h0M113.2 127.7h0M119.5 150.2h0M103.3 166.5h0M111.5 110.4h0M113.5 153.9h0M113.8 168.1h0M109.7 124.6h0M90.4 149.7h0M106.2 153.0h0M114.5 173.9h0M110.8 127.9h0M113.4 104.4h0M106.7 91.1h0M112.7 119.6h0M111.9 166.8h0M111.7 161.0h0M99.0 149.3h0M109.9 112.1h0M106.0 125.3h0M111.9 161.5h0M109.9 125.0h0M97.0 180.6h0M106.0 120.9h0M106.2 171.2h0M108.8 103.6h0M117.2 147.9h0M109.5 181.4h0M111.4 115.5h0M109.9 109.4h0M105.7 138.7h0M104.6 138.8h0M97.8 147.5h0M92.6 144.3h0M110.1 130.9h0M105.2 165.0h0M107.8 104.0h0M109.2 89.0h0M102.5 173.3h0M106.0 124.9h0M111.2 121.9h0M110.4 105.9h0M106.8 170.9h0M115.1 110.8h0M107.7 171.1h0M108.8 150.9h0M105.7 112.4h0M105.6 125.3h0M114.3 121.3h0M114.0 150.1h0M109.7 116.3h0M106.0 156.6h0M109.7 123.1h0M108.5 114.1h0M110.0 94.3h0M136.2 149.1h0M106.9 137.4h0M111.3 113.5h0M109.2 136.1h0M113.0 137.0h0M118.5 145.7h0M110.5 165.3h0M110.3 147.9h0M116.2 165.9h0M114.8 106.6h0M120.1 151.7h0M103.5 108.9h0M115.5 120.0h0M108.7 138.3h0M114.7 135.7h0M115.2 138.1h0M108.8 96.8h0M111.4 161.6h0M111.6 157.7h0M109.1 144.2h0M95.1 157.0h0M115.7 136.3h0M111.8 110.7h0M110.8 143.0h0M113.2 142.0h0M110.7 125.5h0M105.5 152.3h0M113.7 96.1h0M110.4 123.9h0M112.1 120.5h0M106.7 139.4h0M113.7 116.7h0M114.5 156.6h0M111.7 94.6h0M112.8 108.2h0M92.1 156.2h0M113.8 136.1h0M111.0 106.1h0M101.4 152.4h0M109.7 113.2h0M108.8 106.8h0M107.5 112.6h0M117.9 151.8h0M112.2 131.8h0M114.8 94.0h0M108.4 123.3h0M110.0 163.5h0M114.3 144.5h0M112.0 134.7h0M109.5 107.8h0M106.9 110.4h0M110.5 155.2h0M104.2 127.2h0M112.1 101.4h0M111.4 138.4h0M107.7 119.9h0M103.3 145.3h0M105.7 117.5h0M141.6 153.6h0M106.2 171.6h0M114.7 132.2h0M105.1 102.0h0M115.5 119.9h0M104.1 113.0h0M113.8 121.7h0M110.3 119.0h0M111.7 120.2h0M109.8 108.5h0M114.1 87.5h0M110.0 112.9h0M115.4 137.1h0M106.9 123.3h0M114.6 123.0h0M112.7 121.3h0M111.1 104.8h0M111.9 173.9h0M112.6 124.7h0M109.4 144.4h0M109.0 126.1h0M107.2 102.1h0M110.4 114.9h0M116.3 135.1h0M109.1 127.7h0M107.3 125.5h0M91.7 177.8h0M103.9 148.6h0M109.7 163.7h0M110.5 173.3h0M106.6 101.3h0M105.8 128.0h0M111.8 123.0h0M99.5 148.0h0M109.6 145.5h0M102.5 101.9h0M115.0 132.8h0M109.2 103.5h0M111.4 85.5h0M111.7 114.2h0M113.8 125.9h0M112.5 120.8h0M112.8 140.2h0M108.1 115.3h0M107.9 108.0h0M105.3 151.3h0M106.0 121.4h0M110.2 149.0h0M106.4 148.9h0M106.8 140.6h0M114.1 141.0h0M110.8 120.0h0M112.7 152.7h0M128.2 145.4h0M115.8 134.4h0M112.2 144.2h0M111.8 99.5h0M112.5 145.6h0M105.6 137.7h0M109.7 118.9h0M106.9 101.2h0M113.1 129.2h0M109.3 100.1h0M88.7 152.9h0M102.8 112.0h0M107.3 165.5h0M103.7 163.3h0M105.8 161.4h0M108.4 167.0h0M105.3 103.3h0M111.3 112.0h0M115.5 109.3h0M116.5 145.7h0M114.4 133.9h0M114.3 115.7h0M110.0 117.6h0M113.5 148.7h0M113.3 116.0h0M104.0 111.3h0M109.3 170.3h0M115.8 140.6h0M109.8 91.4h0M111.1 125.2h0M109.9 115.6h0M102.8 150.8h0M117.8 143.1h0M110.9 133.5h0M113.0 96.2h0M111.6 144.2h0M115.1 132.3h0M124.1 157.2h0M111.2 158.7h0M107.9 121.8h0M103.3 139.5h0M108.4 117.4h0M111.7 129.7h0M116.2 107.5h0M102.9 120.7h0M113.8 121.3h0M104.4 120.4h0M108.0 148.0h0M114.7 176.5h0M109.6 162.3h0M109.0 122.2h0M115.0 145.7h0M114.2 121.1h0M113.2 149.9h0M104.2 108.0h0M111.0 123.0h0M111.4 110.8h0M100.8 150.3h0M113.4 109.6h0M103.1 165.7h0M107.0 123.4h0M110.7 138.1h0M100.7 179.4h0M111.0 138.6h0M105.3 156.9h0M110.6 110.0h0M109.2 141.1h0M110.7 159.8h0M117.4 164.3h0M110.4 179.1h0M107.2 122.9h0M111.9 97.8h0M109.7 132.3h0M105.4 152.9h0M108.3 134.3h0M112.9 144.4h0M109.6 143.7h0M111.2 170.5h0M111.7 126.7h0M110.2 117.3h0M106.1 122.8h0M110.0 103.2h0M104.1 134.6h0M114.0 128.0h0M116.8 145.4h0M112.2 96.3h0M119.7 169.9h0M113.5 153.5h0M112.7 100.1h0M112.5 113.8h0M111.7 141.9h0M116.5 134.6h0M106.8 111.6h0M107.4 123.2h0M125.7 146.0h0M113.3 112.6h0M108.6 155.5h0M109.1 110.6h0M109.0 106.0h0M106.9 155.7h0M112.0 147.5h0M109.0 170.9h0M108.9 111.6h0M110.4 105.6h0M110.0 102.9h0M114.3 106.0h0M109.5 91.3h0M93.4 153.1h0M138.1 180.9h0M107.6 163.6h0M112.2 110.4h0M109.8 134.1h0M102.2 128.3h0M103.4 129.4h0M109.7 140.3h0M122.5 148.4h0M108.7 173.7h0M104.9 177.5h0M108.9 111.2h0M103.2 171.4h0M110.2 144.1h0M118.9 144.0h0M106.8 178.0h0M104.5 115.9h0M117.9 148.4h0M103.4 122.8h0M112.3 182.4h0M111.1 110.6h0M115.0 155.8h0M100.1 177.3h0M106.8 174.1h0M112.8 129.3h0M113.5 178.6h0M105.0 87.6h0M113.5 158.4h0M122.8 158.7h0M111.1 126.8h0M104.9 126.1h0M114.0 149.5h0M105.1 150.1h0M109.7 145.5h0M110.8 96.7h0M115.9 169.6h0M100.4 155.9h0M105.1 121.5h0M108.2 138.9h0M126.0 148.4h0M108.4 113.2h0M112.8 119.4h0M112.7 115.5h0M112.8 123.2h0M111.5 159.7h0M107.7 113.1h0M107.8 126.0h0M110.2 113.4h0M107.0 112.4h0M116.1 155.6h0M110.4 106.9h0M107.7 112.8h0M104.8 166.6h0M109.1 168.0h0M105.4 131.9h0M100.9 157.4h0M113.2 158.5h0M111.7 149.2h0M112.2 119.6h0M113.9 108.5h0M110.0 124.5h0M118.1 145.9h0M111.3 137.5h0M109.9 154.9h0M108.0 125.0h0M110.2 135.9h0M110.0 120.3h0M112.4 125.5h0M112.9 90.1h0M109.8 139.8h0M113.8 165.7h0M114.3 118.7h0M110.2 106.8h0M105.2 157.2h0M110.3 97.2h0M104.8 123.2h0M114.5 167.7h0M108.3 119.8h0M106.0 131.0h0M108.1 152.3h0M108.3 181.6h0M99.2 176.0h0M106.0 145.0h0M112.2 112.4h0M102.9 104.8h0M108.3 124.8h0M107.5 119.3h0M104.4 155.5h0M111.7 117.1h0M106.2 129.9h0M113.1 167.9h0M101.4 149.5h0M106.4 161.1h0M127.6 156.2h0M108.8 102.3h0M114.1 111.2h0M104.3 125.6h0M110.6 128.7h0M113.5 119.9h0M117.4 154.6h0M116.3 137.3h0M108.1 129.9h0M106.4 111.2h0M112.1 128.8h0M105.5 168.3h0M111.7 97.6h0M112.5 162.3h0M110.7 148.3h0M105.0 149.7h0M109.0 165.5h0M106.6 115.8h0M102.7 168.6h0M109.0 109.4h0M114.3 158.9h0M106.9 119.7h0M115.5 157.4h0M106.0 120.3h0M103.9 125.7h0M107.9 114.9h0M106.3 113.4h0M109.4 148.9h0M114.4 133.6h0M99.1 143.7h0M111.8 118.1h0M109.8 140.3h0M103.8 167.6h0M113.6 141.3h0M104.0 143.9h0M111.0 136.9h0M109.8 173.2h0M109.6 115.1h0M103.9 156.6h0M105.4 135.4h0M109.2 106.8h0M115.4 143.1h0M105.5 165.2h0M110.3 123.8h0M131.5 154.4h0M109.3 118.4h0M100.1 146.8h0M108.8 143.1h0M111.3 132.5h0M110.9 180.8h0M103.9 137.9h0M110.0 93.7h0M107.5 164.0h0M111.6 113.3h0M112.9 123.7h0M113.3 120.5h0M111.2 105.1h0M112.1 98.8h0M114.4 126.2h0M112.2 129.0h0M115.3 141.6h0M104.4 132.0h0M110.0 115.5h0M111.8 151.7h0M107.5 139.8h0M118.4 163.1h0M110.5 121.3h0M106.0 136.9h0M115.7 166.8h0M103.8 110.8h0M112.7 115.6h0M108.3 153.8h0M105.1 158.4h0M98.1 159.9h0M103.0 119.0h0M103.2 135.5h0M114.7 125.5h0M106.8 98.9h0M109.0 119.0h0M112.3 93.8h0M109.6 96.1h0M112.0 153.7h0M113.7 130.0h0M110.6 137.0h0M111.2 121.6h0M109.2 173.4h0M111.3 111.9h0M115.4 139.6h0M103.4 137.0h0M103.6 155.0h0M109.5 101.2h0M114.6 179.2h0M104.1 133.0h0M108.3 130.5h0M102.8 135.5h0M113.2 118.0h0M108.8 168.6h0M113.6 167.7h0M110.9 101.4h0M117.1 144.0h0M116.9 153.6h0M108.3 141.0h0M112.9 89.0h0M112.6 111.8h0M108.6 124.8h0M116.1 120.1h0M120.4 166.0h0M110.5 133.7h0M111.6 129.8h0M111.3 119.8h0M118.3 144.8h0M107.4 115.0h0M115.4 141.8h0M104.7 107.3h0M92.7 155.3h0M109.8 93.9h0M106.9 139.1h0M104.4 139.9h0M103.2 117.3h0M115.4 152.9h0M108.3 163.9h0M108.3 161.2h0M110.1 135.7h0M116.1 156.2h0M107.7 139.6h0M110.4 160.0h0M116.2 118.1h0M109.1 157.9h0M109.1 120.7h0M107.5 110.5h0M106.3 149.0h0M109.8 107.0h0M107.3 123.4h0M118.7 147.0h0M107.1 112.5h0M109.1 107.9h0M106.3 114.9h0M115.1 110.0h0M107.2 185.4h0M111.1 131.6h0M114.3 100.0h0M91.7 150.8h0M108.9 115.6h0M111.1 141.6h0M107.5 128.1h0M116.2 128.3h0M116.5 114.4h0M111.9 128.0h0M107.6 101.1h0M108.7 122.3h0M110.5 108.1h0M116.1 151.7h0M107.9 110.4h0M105.1 158.1h0M112.7 126.8h0M81.6 171.5h0M109.8 111.0h0M107.3 156.6h0M108.8 117.0h0M115.0 125.2h0M105.5 136.7h0M109.5 115.6h0M129.6 156.4h0M108.3 138.9h0M110.7 159.5h0M109.8 120.9h0M109.9 118.8h0M95.7 143.4h0M102.5 132.7h0M112.1 106.2h0M116.6 111.8h0M107.4 111.6h0M109.1 117.2h0M119.2 157.4h0M110.1 117.1h0M103.1 98.4h0M104.8 171.3h0M109.0 109.6h0M113.4 117.7h0M111.4 92.9h0M109.9 91.0h0M114.0 166.1h0M104.3 150.5h0M110.6 157.3h0M105.8 153.6h0M114.6 127.2h0M112.0 95.1h0M112.4 129.0h0M106.2 119.6h0M116.6 100.1h0M108.1 124.3h0M110.2 122.1h0M102.6 151.4h0M109.4 124.3h0M109.8 120.0h0M112.1 122.6h0M116.5 121.3h0M115.5 149.5h0M106.7 126.1h0M109.7 131.2h0M115.7 143.4h0M105.9 101.6h0M109.2 132.3h0M108.8 119.7h0M113.0 106.1h0M107.5 95.3h0M107.0 126.1h0M111.0 154.8h0M108.4 140.7h0M107.1 123.9h0M106.1 103.8h0M107.1 103.3h0M105.1 91.3h0M108.7 116.7h0M109.7 113.2h0M106.5 145.7h0M109.4 142.1h0M109.5 162.5h0M108.0 119.7h0M112.9 108.9h0M102.7 171.2h0M110.2 94.2h0M108.0 125.5h0M107.2 170.4h0M106.4 129.2h0M112.2 161.8h0M110.0 90.7h0M102.6 123.6h0M115.3 156.7h0M111.4 112.1h0M109.9 110.0h0M113.0 110.2h0M134.1 168.4h0M110.5 114.5h0M104.7 144.5h0M105.0 166.2h0M108.0 130.1h0M117.8 149.9h0M104.8 111.2h0M114.9 112.1h0M111.1 179.8h0M110.6 98.0h0M113.7 175.3h0M112.4 152.9h0M114.7 116.9h0M106.4 118.8h0M118.3 157.7h0M108.5 114.9h0M113.6 155.9h0M107.0 125.3h0M120.9 164.9h0M113.4 114.9h0M107.5 163.7h0M101.4 154.6h0M110.8 158.6h0M135.6 163.2h0M116.9 149.8h0M111.9 106.3h0M109.4 121.5h0M104.5 134.4h0M115.0 153.9h0M109.3 133.7h0M109.5 136.7h0M102.6 151.7h0M118.1 159.0h0M113.3 130.2h0M114.8 167.6h0M125.1 179.0h0M111.1 163.3h0M114.9 165.3h0M112.6 128.1h0M105.0 84.2h0M104.3 170.4h0M109.5 168.4h0M114.8 136.8h0M107.7 123.3h0M116.3 144.6h0M109.7 95.3h0M111.6 127.0h0M118.1 150.3h0M114.3 131.6h0M109.7 161.1h0M109.1 141.3h0M112.6 115.6h0M112.4 137.8h0M99.1 153.0h0M104.8 181.5h0M115.2 133.9h0M119.6 168.8h0M106.5 80.8h0M112.1 162.9h0M105.8 114.6h0M111.0 168.0h0M110.3 125.1h0M100.5 160.8h0M114.9 164.7h0M102.1 169.4h0M112.2 128.2h0M107.5 120.0h0M112.2 120.2h0M115.2 135.0h0M111.5 160.3h0M108.2 159.2h0M106.4 163.7h0M108.8 161.6h0M109.2 110.3h0M113.3 139.1h0M107.9 146.9h0M118.5 150.6h0M108.0 157.5h0M114.5 98.9h0M112.8 162.2h0M108.3 99.9h0M107.0 131.7h0M104.6 139.7h0M105.3 126.7h0M113.4 162.9h0M112.5 109.6h0M114.0 143.5h0M105.9 137.8h0M118.6 162.8h0M108.6 168.2h0M125.4 155.0h0M115.0 152.3h0M109.8 117.1h0M103.5 157.5h0M111.1 165.9h0M109.5 99.5h0M107.5 135.2h0M113.6 111.6h0M120.8 143.8h0M113.9 122.2h0M113.4 118.4h0M102.8 162.1h0M110.5 112.7h0M107.6 133.2h0M103.8 117.9h0M106.2 108.3h0M111.5 105.4h0M88.4 152.1h0M113.0 133.6h0M108.3 137.7h0M78.2 149.3h0M110.1 125.4h0M108.4 139.8h0M111.9 119.4h0M115.6 144.2h0M119.6 169.9h0M111.8 136.0h0M116.1 149.0h0M111.0 126.8h0M109.3 124.7h0M112.5 142.2h0M106.2 113.8h0M106.9 115.2h0M115.1 105.7h0M111.4 119.5h0M105.0 107.5h0M112.3 114.3h0M110.8 133.0h0M109.7 147.4h0M109.2 112.5h0M109.3 127.9h0M110.8 131.6h0M108.0 104.7h0M108.7 90.1h0M112.4 169.6h0M104.2 128.0h0M108.7 112.3h0M114.0 92.3h0M110.6 161.9h0M121.1 153.7h0M108.8 139.3h0M109.0 105.5h0M109.0 124.9h0M107.2 107.0h0M106.4 118.7h0M113.1 93.9h0M107.7 108.9h0M104.6 143.0h0M105.4 124.6h0M111.1 172.2h0M109.6 128.7h0M114.0 158.1h0M125.0 150.8h0M144.1 177.4h0M113.2 81.0h0M111.1 157.3h0M113.0 163.4h0M108.9 107.3h0M110.9 152.7h0M107.0 125.1h0M111.8 122.4h0M110.1 123.8h0M106.7 146.3h0M108.3 106.0h0M109.5 116.1h0M117.8 160.9h0M105.2 155.6h0M108.3 142.3h0M114.1 110.8h0M114.9 123.1h0M106.0 103.7h0M110.9 160.5h0M115.1 102.5h0M102.0 155.0h0M114.5 116.2h0M111.4 99.3h0M117.8 148.6h0M114.3 152.1h0M111.1 164.8h0M114.5 125.4h0M129.7 154.4h0M122.0 156.2h0M105.7 161.2h0M109.7 117.5h0M109.7 147.2h0M114.5 140.0h0M109.9 120.1h0M95.8 152.3h0M109.5 91.3h0M107.4 117.7h0M110.4 135.1h0M111.6 160.7h0M111.8 127.1h0M115.0 122.4h0M104.8 162.0h0M108.8 127.1h0M109.4 130.3h0M112.3 138.7h0M106.0 160.2h0M112.6 106.4h0M107.7 179.7h0M89.9 150.5h0M111.7 96.1h0M109.8 94.9h0M110.0 149.2h0M105.8 126.8h0M113.1 120.1h0M114.8 133.5h0M107.3 135.6h0M103.7 130.3h0M109.6 105.4h0M111.9 115.5h0M111.1 158.1h0M110.1 116.1h0M110.5 137.8h0M108.6 151.8h0M107.0 148.9h0M108.6 163.6h0M102.5 162.0h0M106.4 158.9h0M110.0 125.5h0M107.0 150.6h0M110.6 123.5h0M116.1 128.5h0M103.0 132.5h0M109.7 113.2h0M102.3 139.5h0M106.2 144.3h0M105.2 151.1h0M107.1 151.4h0M104.2 137.9h0M108.4 119.2h0M114.4 98.3h0M112.7 109.0h0M111.7 117.0h0M108.1 91.0h0M127.8 160.6h0M109.2 137.6h0M108.4 104.7h0M105.1 185.6h0M110.6 130.4h0M112.3 133.7h0M108.2 147.6h0M110.9 147.3h0M110.6 110.2h0M107.3 127.8h0M106.8 105.0h0M115.4 157.7h0M113.8 163.9h0M106.7 98.5h0M108.5 136.8h0M111.0 100.1h0M115.2 167.8h0M115.7 152.6h0M107.2 98.7h0M112.5 166.0h0M110.5 184.0h0M109.1 147.0h0M112.7 135.6h0M114.9 143.0h0M110.6 98.1h0M114.5 164.0h0M105.9 121.4h0M104.4 97.5h0M110.8 115.2h0M113.4 133.3h0M115.4 153.2h0M108.8 132.3h0M101.9 147.8h0M100.9 150.3h0M123.8 148.8h0M109.5 134.0h0M104.2 154.3h0M113.5 96.7h0M127.3 157.8h0M113.0 168.2h0M107.7 115.6h0M110.6 117.2h0M108.2 170.4h0M118.1 146.2h0M110.7 144.0h0M109.0 112.1h0M103.2 115.3h0M104.9 117.5h0M110.0 115.6h0M112.1 107.5h0M108.3 136.9h0M121.0 161.9h0M134.5 170.2h0M112.6 99.0h0M115.3 152.6h0M111.5 103.8h0M115.4 142.5h0M109.1 135.4h0M109.1 154.9h0M110.6 112.5h0M111.8 118.2h0M112.2 155.6h0M111.1 122.9h0M109.5 111.8h0M106.6 113.7h0M108.6 99.1h0M107.0 161.8h0M113.0 139.0h0M98.0 151.9h0M111.1 130.3h0M113.6 167.2h0M114.0 155.7h0M103.1 125.2h0M95.4 147.2h0M112.0 120.3h0M114.3 147.1h0M110.2 123.6h0M105.8 151.2h0M108.6 114.8h0M111.1 112.7h0M111.6 115.4h0M128.4 151.3h0M113.8 127.3h0M115.2 117.7h0M103.4 146.7h0M113.2 151.2h0M114.6 119.3h0M108.0 136.2h0M116.6 94.8h0M109.1 155.9h0M111.1 129.8h0M104.8 99.3h0M111.3 126.2h0M110.4 143.7h0M115.4 150.7h0M100.9 162.7h0M107.6 130.2h0M108.4 161.2h0M104.0 98.6h0M107.0 167.7h0M114.9 112.6h0M119.2 148.0h0M112.7 102.3h0M113.2 158.4h0M118.2 160.9h0M111.0 140.7h0M107.7 119.3h0M106.7 111.0h0M116.6 155.7h0M120.6 151.5h0M108.0 106.0h0M114.8 102.4h0M112.1 164.0h0M111.9 126.0h0M106.1 102.8h0M112.3 143.8h0M108.4 125.0h0M107.5 115.9h0M111.8 164.4h0M104.7 128.7h0M110.2 109.9h0M107.8 127.3h0M111.4 153.5h0M107.9 110.7h0M105.9 145.9h0M108.8 101.9h0M107.2 165.0h0M109.9 167.9h0M110.0 132.9h0M119.0 162.3h0M110.3 184.2h0M106.5 156.5h0M109.3 108.5h0M112.5 128.6h0M108.1 125.8h0M98.7 157.2h0M107.3 122.5h0M113.4 137.8h0M114.4 114.4h0M112.0 101.8h0M114.5 106.7h0M113.6 105.3h0M117.4 180.0h0M112.5 99.8h0M114.2 92.8h0M125.4 143.4h0M104.1 147.2h0M106.5 122.7h0M115.3 127.2h0M110.5 167.5h0M104.9 156.0h0M143.0 167.9h0M107.7 177.7h0M109.7 127.5h0M110.8 121.8h0M105.3 129.9h0M110.1 140.9h0M111.0 163.3h0M110.3 159.0h0M114.2 122.6h0M110.3 139.9h0M103.0 111.4h0M112.7 115.7h0M110.3 133.1h0M111.5 164.5h0M104.2 171.7h0M104.8 153.9h0M113.0 139.4h0M116.4 118.7h0M108.5 101.3h0M108.9 158.8h0M104.0 141.3h0M112.0 131.4h0M112.1 109.6h0M109.2 142.4h0M106.1 149.8h0M107.9 119.9h0M112.6 99.6h0M111.0 127.6h0M103.1 128.2h0M104.0 162.3h0M123.4 172.4h0M103.5 121.2h0M120.5 157.3h0M111.7 160.6h0M105.7 117.9h0M98.1 171.5h0M111.7 107.9h0M102.2 145.8h0M108.8 111.6h0M105.1 130.8h0M110.5 118.9h0M93.9 147.9h0M111.8 179.5h0M110.7 126.1h0M109.5 129.1h0M108.8 88.5h0M116.7 146.8h0M99.2 163.6h0M112.7 125.3h0M104.4 175.3h0M106.2 100.3h0M116.4 147.7h0M113.6 119.0h0M110.8 123.1h0M107.2 92.6h0M111.4 128.1h0M110.5 186.3h0M108.5 119.3h0M106.8 105.1h0M112.6 93.8h0M103.6 162.4h0M110.0 145.7h0M111.6 100.1h0M107.0 183.4h0M111.9 159.1h0M109.6 161.5h0M118.1 162.4h0M108.8 148.0h0M107.6 164.3h0M109.6 150.0h0M107.1 183.7h0M99.2 170.4h0M106.8 113.5h0M109.5 98.7h0M108.1 163.7h0M108.5 113.1h0M109.7 86.2h0M107.1 109.0h0M113.0 129.4h0M111.1 165.0h0M104.1 119.2h0M115.7 174.3h0M116.6 135.2h0M118.2 147.7h0M112.8 90.7h0M109.8 166.3h0M115.1 148.0h0M92.8 152.4h0M108.2 145.7h0M114.3 133.8h0M107.0 124.8h0M115.1 141.0h0M110.7 142.8h0M108.5 146.1h0M108.1 121.8h0M111.1 112.3h0M113.0 147.7h0M105.0 119.2h0M108.6 151.8h0M108.2 117.1h0M115.0 156.0h0M98.0 143.7h0M104.5 154.7h0M102.3 139.2h0M109.1 101.5h0M107.2 107.6h0M108.3 101.1h0M109.3 135.7h0M112.2 160.4h0M107.4 117.1h0M111.5 143.3h0M115.7 158.2h0M106.2 131.0h0M107.2 115.4h0M109.4 97.8h0M95.3 164.0h0M107.6 110.3h0M108.1 101.5h0M112.0 145.6h0M104.3 135.7h0M110.8 138.1h0M110.3 174.2h0M115.2 110.0h0M105.9 138.2h0M109.5 151.1h0M110.0 106.9h0M113.5 99.4h0M105.2 164.7h0M106.5 166.7h0M110.0 166.6h0M108.2 152.2h0M104.9 117.8h0M108.7 124.6h0M107.2 131.9h0M104.5 167.9h0M103.8 126.2h0M105.2 153.7h0M110.3 127.7h0M107.2 167.3h0M110.6 175.0h0M109.3 101.3h0M113.1 129.7h0M115.6 140.8h0M113.9 120.4h0M104.5 161.8h0M106.9 133.1h0M118.3 171.4h0M110.3 122.5h0M106.4 116.8h0M103.9 119.3h0M117.9 151.3h0M116.6 149.6h0M128.2 163.1h0M108.9 130.6h0M107.9 136.8h0M122.4 158.3h0M114.9 150.6h0M111.3 167.9h0M110.7 155.0h0M110.0 94.7h0M114.2 147.3h0M105.4 130.3h0M96.9 149.9h0M100.3 145.2h0M112.2 156.2h0M112.4 89.8h0M110.2 98.6h0M107.9 152.0h0M110.7 131.8h0M109.1 149.3h0M113.8 107.7h0M113.7 133.8h0M113.6 165.7h0M106.4 114.9h0M110.2 139.3h0M111.4 127.0h0M110.5 155.8h0M111.8 114.1h0M77.5 159.5h0M112.3 106.7h0M109.3 110.5h0M107.5 121.7h0M112.0 125.8h0M112.0 154.8h0M109.8 167.6h0M106.3 150.3h0M111.1 152.6h0M107.6 122.8h0M111.6 160.4h0M104.1 122.8h0M112.8 90.5h0M109.8 94.5h0M114.4 120.8h0M114.3 162.4h0M107.8 105.3h0M116.6 129.4h0M109.3 112.5h0M112.0 155.4h0M111.5 134.3h0M103.8 174.6h0M106.2 121.8h0M111.7 90.9h0M109.2 116.8h0M102.5 112.1h0M113.5 96.4h0M102.8 168.4h0M99.7 147.6h0M112.0 138.8h0M113.4 138.2h0M112.2 156.0h0M110.8 134.5h0M100.5 153.2h0M104.5 116.0h0M105.2 161.6h0M108.6 88.8h0M109.6 111.3h0M109.9 125.9h0M107.2 159.8h0M106.5 139.7h0M110.7 145.7h0M110.6 122.3h0M110.3 130.7h0M116.0 143.5h0M107.8 179.0h0M113.9 141.4h0M108.8 121.6h0M105.4 126.7h0M116.0 147.3h0M105.5 176.8h0M110.6 136.6h0M112.3 154.6h0M104.9 146.5h0M111.9 126.6h0M102.7 155.2h0M106.5 144.7h0M108.4 152.0h0M110.7 100.5h0M108.9 143.8h0M109.9 141.4h0M112.7 116.0h0M110.6 161.9h0M105.1 154.2h0M115.7 128.6h0M109.2 127.7h0M109.5 167.9h0M112.0 141.4h0M110.6 121.8h0M111.4 106.1h0M112.2 135.1h0M108.6 118.2h0M112.2 132.3h0M106.4 115.5h0M107.6 104.2h0M107.8 137.3h0M111.2 127.6h0M104.3 106.6h0M104.8 123.3h0M109.1 126.7h0M109.5 118.9h0M116.1 151.4h0M116.2 128.4h0M110.9 118.9h0M106.1 154.0h0M110.4 109.6h0M114.2 132.0h0M108.6 85.4h0M110.2 137.8h0M108.6 121.0h0M118.3 167.6h0M106.1 151.3h0M87.6 160.9h0M103.4 156.9h0M111.7 181.9h0M123.6 151.7h0M111.7 99.6h0M110.4 142.8h0M109.2 153.3h0M107.9 104.0h0M108.9 152.5h0M110.6 98.3h0M110.0 111.4h0M111.7 141.7h0M110.8 93.0h0M106.6 150.5h0M111.2 148.1h0M105.9 167.1h0M107.7 125.1h0M108.5 115.2h0M116.1 112.0h0M105.9 98.3h0M109.3 166.1h0M113.2 116.3h0M103.0 125.8h0M114.0 95.5h0M107.2 146.7h0M116.9 145.3h0M108.5 149.9h0M105.3 130.0h0M108.5 152.9h0M104.1 138.0h0M108.5 92.5h0M103.6 134.8h0M110.3 109.6h0M108.2 105.9h0M106.4 90.6h0M110.7 115.1h0M105.8 121.1h0M115.8 134.2h0M116.0 117.0h0M110.2 157.9h0M107.3 147.8h0M106.5 107.2h0M106.1 106.4h0M111.6 150.4h0M116.5 119.8h0M105.4 129.2h0M130.1 157.1h0M110.6 123.0h0M108.4 110.6h0M116.1 102.8h0M97.1 147.0h0M109.0 135.6h0M106.7 127.4h0M112.0 122.6h0M106.5 124.6h0M102.8 121.8h0M94.4 144.4h0M102.7 115.1h0M114.7 177.2h0M110.9 163.2h0M106.6 105.9h0M116.5 159.0h0M115.4 163.1h0M108.8 133.3h0M110.7 118.2h0M103.5 135.6h0M113.2 157.7h0M107.0 139.7h0M107.0 130.9h0M115.9 100.1h0M116.3 112.2h0M113.9 126.1h0M111.0 88.2h0M103.6 145.4h0M111.2 110.0h0M105.6 141.4h0M110.6 125.8h0M110.1 131.4h0M100.3 152.0h0M107.8 102.4h0M105.0 106.7h0M105.4 153.0h0M105.5 121.3h0M100.1 149.1h0M110.0 137.9h0M110.5 103.2h0M113.3 176.3h0M104.5 115.5h0M104.6 139.6h0M109.9 96.4h0M113.7 96.7h0M109.6 120.9h0M107.4 101.7h0M108.9 148.5h0M107.5 122.1h0M110.6 148.5h0M109.4 110.7h0M109.2 130.4h0M109.0 152.5h0M111.8 126.3h0M111.5 116.6h0M111.0 113.2h0M113.3 116.7h0M111.7 98.2h0M109.1 110.8h0M106.9 145.2h0M111.3 119.4h0M111.9 133.9h0M111.1 114.6h0M108.6 159.3h0M110.9 109.8h0M107.9 120.0h0M115.9 167.5h0M113.2 110.0h0M111.7 127.6h0M112.9 159.1h0M111.6 122.3h0M111.4 133.5h0M107.4 128.3h0M113.4 131.9h0M111.5 125.1h0M131.2 162.6h0M112.3 109.1h0M108.1 114.2h0M107.7 112.0h0M111.5 127.7h0M132.4 175.2h0M111.4 107.4h0M117.3 151.7h0M97.4 182.2h0M112.2 124.5h0M116.4 151.7h0M111.3 121.1h0M114.1 109.5h0M119.4 154.3h0M108.1 109.2h0M96.2 144.8h0M105.7 126.3h0M111.9 152.9h0M108.7 117.0h0M102.4 114.4h0M111.9 138.9h0M110.2 149.9h0M106.7 127.8h0M113.2 113.3h0M105.2 129.6h0M109.7 122.3h0M105.0 107.4h0M107.1 102.4h0M105.7 146.0h0M106.9 96.0h0M106.4 120.8h0M118.7 162.5h0M107.1 115.9h0M103.0 144.5h0M114.4 137.6h0M104.2 157.1h0M116.4 163.1h0M106.7 104.4h0M115.9 139.4h0M107.1 131.6h0M105.8 121.3h0M108.0 122.8h0M107.6 85.8h0M105.0 106.7h0M108.0 174.4h0M113.1 104.7h0M105.3 118.0h0M113.2 187.0h0M111.6 111.8h0M110.4 109.5h0M111.2 134.0h0M111.3 137.5h0M108.3 166.1h0M112.7 117.9h0M108.8 101.2h0M110.0 147.2h0M110.6 107.4h0M111.8 120.2h0M109.3 114.4h0M106.3 170.1h0M114.5 125.2h0M116.5 107.4h0M112.8 112.3h0M116.9 150.1h0M108.5 116.2h0M111.0 174.2h0M112.3 129.4h0M109.5 124.3h0M105.8 130.5h0M102.7 153.2h0M106.6 126.4h0M115.7 114.1h0M107.0 136.9h0M103.7 140.8h0M113.4 120.4h0M116.9 152.2h0M112.0 130.5h0M113.9 138.1h0M116.7 144.9h0M109.8 102.3h0M109.5 111.1h0M108.0 173.8h0M110.2 138.4h0M115.9 174.6h0M109.4 116.5h0M105.9 132.6h0M115.6 130.2h0M119.4 153.6h0M111.4 84.5h0M107.4 160.6h0M116.2 133.3h0M108.6 129.6h0M109.9 124.5h0M114.7 154.8h0M110.7 121.0h0M114.2 122.9h0M118.5 147.4h0M113.5 153.9h0M110.4 118.9h0M115.8 140.6h0M114.5 128.6h0M123.0 145.9h0M103.8 113.4h0M103.7 147.2h0M106.2 132.8h0M111.0 102.3h0M112.1 123.2h0M113.3 118.4h0M110.2 161.4h0M108.7 130.3h0M109.2 122.3h0M111.0 166.3h0M96.4 160.1h0M111.0 153.3h0M121.9 158.5h0M105.4 107.4h0M107.9 109.6h0M108.7 159.5h0M103.5 165.4h0M102.9 117.8h0M114.3 149.5h0M112.0 139.2h0M125.4 153.7h0M110.2 131.4h0M109.4 97.1h0M112.9 163.1h0M133.6 148.8h0M107.0 122.7h0M114.7 102.7h0M114.3 100.9h0M110.5 115.0h0M116.1 111.8h0M100.7 162.5h0M115.4 107.4h0M109.5 117.8h0M106.8 133.7h0M106.7 108.1h0M113.9 129.5h0M105.1 96.5h0M115.5 131.8h0M103.5 124.3h0M111.5 96.7h0M113.3 127.6h0M115.9 134.8h0M114.7 109.5h0M101.4 157.5h0M102.0 162.7h0M88.5 168.1h0M107.1 124.7h0M105.8 149.2h0M112.0 138.7h0M105.8 165.7h0M108.3 130.8h0M110.8 161.9h0M114.2 127.0h0M112.7 116.3h0M109.6 116.6h0M111.9 152.4h0M106.4 144.7h0M112.1 101.4h0M110.7 136.7h0M110.8 149.1h0M108.8 171.0h0M109.6 119.1h0M107.2 157.4h0M115.9 137.8h0M109.4 132.2h0M105.0 140.6h0M116.4 157.9h0M107.5 135.5h0M112.6 166.2h0M111.5 122.3h0M105.2 126.1h0M111.7 119.8h0M104.1 116.7h0M114.0 169.8h0M115.3 103.6h0M106.7 112.9h0M111.5 111.4h0M114.3 142.5h0M107.9 92.2h0M112.3 166.4h0M114.1 104.3h0M112.1 154.4h0M106.8 124.3h0M113.0 157.9h0M114.0 120.8h0M105.2 149.2h0M111.3 119.8h0M113.8 141.3h0M106.4 95.9h0M112.5 135.0h0M111.7 160.7h0M110.5 112.2h0M114.1 154.9h0M111.2 180.4h0M92.9 164.0h0M115.7 177.6h0M115.8 129.8h0M104.5 183.9h0M108.6 124.1h0M103.6 129.6h0M112.0 118.5h0M111.8 165.0h0M112.8 126.6h0M125.9 159.2h0M113.2 134.4h0M111.1 121.0h0M113.8 108.6h0M110.8 157.1h0M98.2 154.0h0M96.8 148.6h0M113.2 119.8h0M103.5 142.7h0M106.8 143.4h0M111.2 93.9h0M109.6 140.9h0M113.6 134.3h0M109.1 116.3h0M110.6 120.3h0M115.9 115.1h0M109.4 104.2h0M128.0 161.3h0M109.6 125.7h0M109.7 149.1h0M111.2 127.8h0M120.6 142.8h0M109.4 158.4h0M107.9 106.6h0M126.1 182.3h0M107.8 121.7h0M111.2 124.8h0M109.6 96.7h0M114.7 149.8h0M108.9 101.0h0M94.8 148.0h0M115.9 146.6h0M109.1 163.3h0M111.2 154.8h0M113.4 165.1h0M109.9 144.3h0M114.8 127.8h0M109.7 133.3h0M106.0 119.1h0M111.3 149.1h0M107.8 131.0h0M121.3 179.4h0M109.4 161.6h0M107.9 133.6h0M112.3 140.6h0M110.2 102.5h0M106.9 172.7h0M106.4 168.6h0M112.1 127.0h0M111.6 149.2h0M94.0 164.8h0M106.0 89.0h0M107.3 121.7h0M103.3 124.2h0M123.7 150.6h0M106.5 156.2h0M108.5 119.9h0M111.6 130.5h0M83.5 169.6h0M108.9 156.1h0M114.2 161.3h0M109.5 136.7h0M106.5 124.3h0M127.1 155.7h0M111.9 117.3h0M113.8 151.5h0M110.8 152.6h0M108.5 152.5h0M112.7 97.2h0M104.8 152.6h0M110.1 134.4h0M107.7 181.5h0M113.4 155.7h0M112.6 107.4h0M103.5 175.7h0M107.3 150.3h0M108.2 139.5h0M116.6 154.9h0M107.1 126.8h0M108.4 123.5h0M114.3 105.8h0M109.6 112.9h0M107.2 137.7h0M111.7 111.2h0M120.5 145.9h0M110.9 135.0h0M102.7 149.9h0M107.8 99.9h0M108.9 144.6h0M107.6 127.4h0M115.7 153.7h0M112.8 165.6h0M106.3 126.5h0M103.8 96.7h0M105.6 136.5h0M108.3 117.1h0M109.9 132.9h0M109.8 160.2h0M104.1 135.7h0M103.2 168.2h0M109.8 122.0h0M105.0 133.8h0M119.3 160.5h0M111.4 109.7h0M103.9 124.9h0M103.0 147.5h0M108.3 161.9h0M103.8 129.2h0M114.7 141.2h0M123.9 153.9h0M109.0 112.7h0M108.2 94.8h0M111.7 122.6h0M108.0 132.9h0M103.9 142.8h0M107.9 117.5h0M109.5 137.9h0M109.1 124.6h0M111.1 108.4h0M105.8 124.5h0M116.6 119.7h0M111.0 130.1h0M109.9 115.4h0M110.6 139.7h0M110.2 121.2h0M111.2 118.0h0M114.3 157.1h0M124.2 147.1h0M110.9 119.5h0M107.0 121.7h0M110.9 150.1h0M107.8 128.4h0M108.0 129.0h0M109.1 103.9h0M110.9 162.5h0M108.3 166.0h0M104.8 101.6h0M112.4 123.2h0M104.7 126.1h0M112.8 161.5h0M82.2 154.3h0M108.6 115.1h0M103.3 118.1h0M137.2 168.1h0M112.2 154.6h0M108.7 167.8h0M109.5 108.1h0M112.4 115.0h0M108.4 153.1h0M117.7 165.3h0M114.9 130.1h0M107.6 166.0h0M108.7 152.3h0M116.9 150.3h0M110.7 150.7h0M114.6 135.4h0M110.6 170.0h0M108.6 93.1h0M110.8 131.2h0M102.6 122.1h0M107.7 113.6h0M105.4 107.3h0M116.1 131.7h0M108.9 114.3h0M105.6 132.1h0M113.8 159.0h0M106.7 119.5h0M115.0 98.3h0M115.4 96.0h0M110.9 158.5h0M82.9 159.9h0M111.2 111.0h0M114.2 163.5h0M113.8 132.7h0M116.6 145.3h0M135.6 151.8h0M108.3 157.9h0M108.0 140.1h0M102.4 161.9h0M103.5 107.6h0M105.9 155.3h0M109.7 154.4h0M116.1 160.6h0M108.0 132.2h0M110.7 117.5h0M110.0 136.5h0M107.2 107.7h0M107.8 113.7h0M110.4 119.8h0M111.8 163.2h0M111.2 155.5h0M109.9 151.1h0M110.1 157.3h0M110.2 144.4h0M107.9 117.8h0M108.8 133.2h0M111.4 135.1h0M120.9 145.5h0M86.4 156.7h0M107.0 119.6h0M103.3 166.7h0M103.9 99.7h0M115.5 120.9h0M111.7 127.2h0M104.0 144.7h0M108.3 134.0h0M102.2 113.2h0M107.8 177.8h0M110.0 160.5h0M113.7 168.2h0M113.8 99.1h0M114.0 154.2h0M113.5 125.8h0M120.5 170.3h0M110.1 106.2h0M107.4 118.0h0M109.8 108.9h0M108.1 140.8h0M114.3 109.5h0M111.8 121.5h0M114.9 163.6h0M105.7 146.1h0M112.1 124.9h0M113.7 116.7h0M106.3 165.5h0M111.3 113.0h0M110.6 139.7h0M110.9 120.0h0M111.5 145.3h0M112.2 118.9h0M106.0 163.0h0M97.9 145.1h0M90.7 154.8h0M106.4 154.9h0M108.7 99.5h0M109.0 150.2h0M111.7 95.1h0M112.3 137.9h0M106.5 127.2h0M117.7 153.8h0M110.1 109.6h0M118.6 153.0h0M108.8 132.0h0M103.7 132.4h0M113.5 134.2h0M113.7 164.8h0M88.7 158.8h0M114.6 150.2h0M108.5 120.8h0M113.2 140.2h0M110.7 108.4h0M112.5 110.1h0M111.2 119.2h0M107.4 132.1h0M105.1 133.2h0M106.0 148.3h0M111.5 162.7h0M106.2 136.3h0M115.6 126.5h0M103.9 120.7h0M114.0 157.5h0M114.9 96.3h0M102.9 156.3h0M107.5 127.5h0M113.1 111.2h0M109.7 124.7h0M102.6 128.6h0M106.7 136.6h0M102.7 151.5h0M114.8 166.1h0M97.1 146.5h0M108.0 135.7h0M112.5 154.6h0M110.4 120.9h0M123.7 144.3h0M100.2 160.6h0M97.2 150.8h0M110.1 125.1h0M112.0 84.9h0M108.8 117.6h0M112.8 90.6h0M106.2 127.0h0M122.0 146.7h0M114.4 138.8h0M114.4 97.4h0M111.3 125.2h0M110.1 152.5h0M109.1 164.6h0M115.0 119.6h0M114.0 144.6h0M113.7 120.7h0M116.5 117.9h0M111.6 169.8h0M109.6 131.7h0M104.9 128.1h0M111.6 119.3h0M112.4 162.2h0M113.7 117.7h0M108.9 170.9h0M109.5 97.4h0M109.8 119.6h0M104.0 152.8h0M106.2 128.8h0M107.7 138.4h0M107.8 139.2h0M106.2 128.1h0M116.5 128.3h0M106.9 164.6h0M107.6 119.1h0M115.2 140.8h0M109.7 149.8h0M107.8 116.3h0M115.6 143.7h0M112.3 132.7h0M109.2 118.6h0M97.8 171.5h0M104.5 130.5h0M115.7 172.1h0M109.5 94.4h0M107.1 109.0h0M105.0 139.8h0M106.4 89.3h0M105.8 156.0h0M109.7 166.6h0M117.9 146.8h0M109.8 155.8h0M110.0 151.2h0M108.5 130.9h0M114.3 142.4h0M125.3 151.1h0M114.2 128.2h0M148.0 152.5h0M109.2 102.8h0M108.6 131.8h0M114.9 139.9h0M111.0 181.7h0M134.0 162.4h0M108.5 125.2h0M110.7 130.7h0M111.5 150.4h0M108.5 120.3h0M106.9 129.0h0M113.7 150.3h0M99.5 149.4h0M106.0 110.3h0M111.3 115.5h0M115.5 140.4h0M103.7 118.1h0M132.7 161.7h0M109.5 94.4h0M112.9 151.6h0M116.9 150.2h0M110.3 154.5h0M102.8 105.1h0M107.4 147.7h0M97.7 149.7h0M111.5 101.6h0M109.7 122.6h0M109.2 108.3h0M112.2 157.7h0M109.0 158.5h0M108.8 132.1h0M114.1 165.9h0M109.0 159.7h0M115.5 105.7h0M109.6 166.9h0M101.2 157.3h0M107.0 155.1h0M112.4 145.2h0M105.0 128.8h0M110.1 123.4h0M110.8 121.5h0M109.8 114.5h0M116.2 124.2h0M118.8 162.8h0M111.8 146.7h0M102.7 158.6h0M120.0 156.4h0M115.7 124.5h0M110.5 130.7h0M111.8 113.0h0M105.1 137.1h0M115.2 147.3h0M110.1 135.2h0M105.0 146.6h0M109.3 154.8h0M115.2 126.0h0M113.2 121.8h0M109.8 130.6h0M132.0 158.1h0M111.0 113.5h0M111.8 133.4h0M109.0 117.2h0M108.1 133.1h0M109.8 115.8h0M113.0 146.3h0M104.5 146.1h0M109.5 142.8h0M98.6 150.9h0M110.9 96.1h0M114.3 158.2h0M103.9 147.0h0M111.5 124.5h0M113.8 176.9h0M115.3 116.2h0M113.0 131.3h0M112.5 106.0h0M107.5 160.1h0M111.2 126.9h0M111.0 136.2h0M111.1 130.8h0M109.9 90.9h0M106.3 113.4h0M113.2 137.2h0M116.3 130.2h0M105.7 101.6h0M110.4 169.3h0M113.4 133.2h0M107.3 145.1h0M129.6 150.9h0M117.3 152.1h0M106.4 110.9h0M102.9 117.6h0M118.4 147.4h0M109.2 153.4h0M115.2 155.7h0M114.3 136.3h0M110.3 128.1h0M112.4 103.0h0M108.4 142.5h0M111.1 121.2h0M114.2 91.8h0M111.6 104.3h0M112.6 96.1h0M112.1 138.1h0M104.5 155.9h0M111.2 144.5h0M105.2 161.0h0M110.6 96.9h0M116.8 170.2h0M114.3 123.7h0M107.9 96.5h0M109.6 158.7h0M102.4 143.3h0M106.1 102.0h0M103.4 112.4h0M107.6 116.8h0M124.2 153.9h0M112.5 126.4h0M110.6 124.4h0M107.1 117.9h0M106.8 122.5h0M106.7 105.8h0M110.3 149.2h0M103.8 183.5h0M110.2 95.0h0M109.3 140.4h0M103.9 147.9h0M112.3 128.6h0M100.8 144.2h0M113.8 120.8h0M116.1 131.9h0M113.1 165.5h0M104.5 121.4h0M105.5 124.0h0M114.2 147.4h0M120.6 174.4h0M109.7 176.4h0M106.0 146.1h0M116.0 152.9h0M115.1 165.0h0M112.9 139.6h0M108.4 104.6h0M102.3 151.0h0M119.8 159.7h0M106.1 158.6h0M121.6 143.1h0M116.2 121.4h0M107.5 127.0h0M86.6 164.5h0M114.4 119.4h0M113.5 165.0h0M108.6 134.4h0M81.6 159.6h0M102.5 159.2h0M108.3 117.9h0M116.0 138.6h0M115.1 115.1h0M107.6 112.2h0M107.8 99.5h0M109.8 139.2h0M107.9 126.9h0M111.8 165.9h0M110.4 116.7h0M112.8 125.5h0M104.2 147.1h0M104.3 135.2h0M112.2 147.6h0M111.9 147.7h0M104.1 97.5h0M108.8 106.4h0M99.2 149.7h0M110.3 134.9h0M128.9 146.1h0M100.8 157.6h0M108.8 124.6h0M107.8 116.9h0M108.6 137.1h0M117.8 151.8h0M104.5 123.3h0M106.8 153.3h0M104.8 113.5h0M108.0 90.3h0M115.9 107.6h0M113.7 128.9h0M108.1 132.2h0M110.2 156.1h0M115.1 145.2h0M103.9 138.4h0M109.6 119.9h0M112.3 97.1h0M110.7 135.4h0M104.8 123.3h0M112.4 98.9h0M113.5 120.1h0M106.0 131.4h0M113.4 112.6h0M123.4 157.5h0M110.9 109.0h0M115.2 120.1h0M109.1 112.1h0M114.8 92.1h0M110.5 90.8h0M108.3 119.4h0M108.4 112.9h0M112.6 151.5h0M105.0 116.6h0M112.7 102.6h0M109.9 117.9h0M107.7 148.3h0M110.4 161.1h0M113.2 164.9h0M122.4 165.3h0M112.1 133.7h0M115.9 138.0h0M115.5 103.1h0M116.5 112.2h0M102.3 121.7h0M107.2 120.9h0M112.0 156.5h0M109.3 148.3h0M109.5 134.1h0M110.3 108.5h0M112.1 112.9h0M111.3 104.8h0M95.6 143.9h0M109.8 168.9h0M114.1 122.6h0M113.6 122.5h0M119.5 163.5h0M108.1 115.6h0M109.7 109.3h0M101.4 142.7h0M115.5 119.6h0M114.6 124.2h0M107.7 140.0h0M110.6 106.0h0M112.4 130.8h0M114.4 109.5h0M103.9 122.9h0M115.7 135.1h0M104.2 118.2h0M111.7 114.8h0M105.5 141.2h0M111.2 161.1h0M94.5 151.4h0M111.0 150.6h0M109.6 156.7h0M111.7 110.2h0M107.9 111.9h0M121.0 158.1h0M114.3 148.6h0M108.4 100.0h0M110.5 171.3h0M115.8 153.2h0M107.2 156.3h0M113.2 151.6h0M101.8 155.8h0M107.9 181.0h0M118.9 158.4h0M98.7 163.0h0M110.0 113.7h0M107.2 130.0h0M114.8 133.2h0M115.5 124.3h0M112.5 171.4h0M109.3 155.7h0M113.7 147.5h0M104.6 141.7h0M106.9 155.3h0M117.4 150.9h0M111.6 136.4h0M106.1 149.5h0M105.1 113.4h0M105.1 123.9h0M105.5 132.9h0M112.1 123.5h0M112.3 125.3h0M109.7 162.7h0M107.3 154.5h0M104.0 118.2h0M108.1 149.3h0M106.2 126.3h0M108.6 124.7h0M113.4 136.2h0M107.7 141.9h0M99.7 165.5h0M102.7 126.2h0M109.4 151.7h0M108.0 99.3h0M111.1 168.3h0M103.4 118.5h0M104.4 170.1h0M107.0 154.7h0M115.1 149.9h0M110.6 134.9h0M108.8 88.1h0M105.0 162.4h0M119.6 146.2h0M111.3 118.8h0M115.8 167.1h0M107.8 124.9h0M114.1 95.9h0M116.1 138.2h0M110.9 121.8h0M103.8 141.7h0M106.4 173.1h0M109.2 132.6h0M112.7 125.8h0M117.7 144.8h0M107.9 153.0h0M111.8 126.3h0M109.8 147.1h0M112.4 134.9h0M110.3 125.6h0M109.4 118.2h0M111.2 174.4h0M105.1 183.7h0M104.7 136.6h0M111.8 171.5h0M105.5 120.0h0M111.6 173.1h0M104.2 137.4h0M107.7 159.2h0M108.2 163.1h0M108.3 133.5h0M116.3 106.9h0M113.0 114.6h0M113.2 109.6h0M114.5 144.8h0M108.8 108.0h0M103.4 155.3h0M108.4 99.2h0M114.3 138.0h0M112.6 134.1h0M113.3 120.4h0M105.0 173.9h0M110.9 148.6h0M117.2 172.1h0M103.3 129.5h0M112.8 132.5h0M104.6 95.7h0M103.0 128.3h0M106.2 120.6h0M108.6 112.1h0M109.5 115.9h0M105.8 107.5h0M110.4 114.9h0M117.6 146.5h0M106.9 127.3h0M105.8 126.2h0M105.2 157.6h0M109.7 95.0h0M108.3 108.0h0M106.1 137.3h0M107.6 123.9h0M114.3 127.1h0M108.0 94.0h0M105.0 168.7h0M113.1 158.2h0M106.3 117.7h0M112.6 131.5h0M108.4 139.5h0M104.7 144.1h0M83.8 145.2h0M111.2 163.3h0M106.9 168.3h0M108.6 107.2h0M110.8 111.2h0M104.4 161.5h0M127.8 163.6h0M110.5 117.2h0M111.7 129.3h0M98.8 152.8h0M102.9 138.6h0M110.8 130.0h0M121.0 152.1h0M120.2 159.6h0M134.0 152.7h0M109.7 159.7h0M107.1 108.6h0M112.8 118.2h0M112.4 115.4h0M113.4 136.1h0M111.6 125.1h0M110.8 111.2h0M103.4 120.5h0M112.7 153.2h0M113.6 154.5h0M105.6 151.7h0M111.7 108.7h0M114.3 167.9h0M107.8 113.5h0M117.4 143.7h0M114.6 144.2h0M103.6 121.2h0M108.3 86.8h0M112.7 116.6h0M108.2 157.0h0M99.7 171.7h0M104.8 150.3h0M112.2 146.2h0M109.3 137.2h0M108.1 117.9h0M109.1 113.0h0M109.8 140.9h0M107.8 166.6h0M103.9 162.2h0M107.1 117.8h0M110.4 111.6h0M105.6 97.0h0M113.9 166.2h0M109.4 86.6h0M112.9 129.0h0M105.1 137.4h0M108.7 111.6h0M110.6 109.9h0M109.4 114.8h0M110.6 150.9h0M110.6 173.3h0M108.8 107.9h0M112.1 141.8h0M110.5 150.1h0M109.7 118.2h0M107.9 134.0h0M112.3 136.1h0M111.5 94.1h0M114.8 133.9h0M111.5 166.0h0M108.8 100.4h0M106.7 141.1h0M109.0 126.0h0M108.9 147.0h0M112.0 118.5h0M112.4 97.4h0M110.2 153.6h0M116.6 177.1h0M105.3 117.0h0M111.4 101.3h0M108.8 126.2h0M109.2 169.1h0M108.2 106.9h0M111.1 118.6h0M111.9 126.5h0M110.7 106.3h0M109.6 136.4h0M114.5 151.6h0M105.6 166.5h0M110.4 135.2h0M105.8 126.8h0M107.3 131.9h0M110.3 97.4h0M114.0 115.0h0M107.0 131.1h0M112.0 120.1h0M107.6 95.7h0M107.1 128.6h0M108.0 145.9h0M110.6 161.1h0M112.1 139.9h0M108.7 99.3h0M107.6 123.0h0M113.8 130.4h0M105.0 138.6h0M112.9 116.6h0M119.4 155.2h0M112.3 128.2h0M111.2 115.6h0M102.8 163.3h0M113.7 116.8h0M112.9 98.5h0M109.5 118.9h0M110.4 127.1h0M103.7 163.5h0M108.3 138.1h0M106.3 91.0h0M107.1 163.1h0M109.0 126.3h0M107.8 149.4h0M111.4 94.3h0M112.9 141.8h0M106.6 165.3h0M111.9 161.6h0M108.1 131.8h0M108.8 162.9h0M111.1 138.5h0M116.3 151.4h0M107.4 131.8h0M111.9 152.0h0M115.2 149.1h0M104.4 138.9h0M105.8 132.0h0M111.5 96.9h0M110.7 105.0h0M108.8 135.0h0M112.1 135.6h0M104.7 123.9h0M103.4 129.2h0M114.2 160.4h0M125.7 180.0h0M109.8 145.0h0M124.1 151.9h0M109.0 155.7h0M114.6 101.1h0M113.6 90.7h0M114.7 99.2h0M108.4 150.5h0M109.2 165.9h0M113.5 84.6h0M110.0 96.6h0M111.5 145.2h0M104.8 151.4h0M113.6 112.3h0M116.6 127.0h0M112.8 150.1h0M116.3 154.8h0M107.1 103.0h0M106.5 128.6h0M107.8 110.9h0M105.7 144.6h0M113.5 103.8h0M105.0 151.7h0M107.3 151.6h0M106.3 138.6h0M105.2 109.6h0M110.3 149.7h0M111.0 98.4h0M113.7 127.0h0M107.7 138.5h0M109.3 96.3h0M119.5 153.0h0M117.2 152.5h0M108.8 121.8h0M105.1 143.8h0M112.6 141.7h0M107.7 100.8h0M109.3 156.6h0M99.1 157.6h0M107.2 151.9h0M110.5 160.5h0M112.6 115.2h0M103.8 153.5h0M114.6 180.6h0M111.1 118.8h0M110.6 121.5h0M109.2 109.2h0M92.2 159.5h0M115.7 160.5h0M108.0 123.5h0M108.3 159.2h0M115.2 117.0h0M113.0 138.4h0M114.7 143.6h0M123.7 159.8h0M107.7 114.9h0M106.4 176.6h0M111.9 106.8h0M109.9 132.0h0M115.0 126.2h0M110.7 114.3h0M111.5 109.1h0M110.3 89.2h0M110.5 102.2h0M111.7 123.6h0M102.7 129.9h0M109.9 118.6h0M107.9 145.8h0M111.9 96.6h0M111.8 157.4h0M108.5 150.9h0M104.2 114.6h0M106.6 160.9h0M111.5 108.3h0M109.1 133.0h0M113.4 155.1h0M114.9 164.6h0M115.1 105.2h0M112.5 140.4h0M110.4 105.0h0M112.8 118.6h0M107.8 147.7h0M114.1 142.0h0M112.3 163.6h0M108.0 157.0h0M112.9 152.1h0M110.9 173.4h0M111.1 123.3h0M113.3 126.0h0M107.5 120.3h0M115.1 141.3h0M108.0 139.6h0M107.2 104.9h0M117.6 154.3h0M107.3 124.3h0M109.2 135.2h0M108.9 95.7h0M109.3 172.6h0M109.6 110.3h0M106.0 131.1h0M115.4 130.8h0M108.4 161.7h0M105.2 141.8h0M113.1 127.1h0M107.1 104.4h0M107.4 98.0h0M106.9 136.9h0M107.5 121.4h0M104.6 109.0h0M115.1 168.7h0M107.6 152.6h0M112.3 125.7h0M110.9 104.9h0M111.4 157.5h0M114.1 146.8h0M112.0 119.4h0M108.1 99.8h0M104.1 105.3h0M107.8 126.9h0M111.0 125.1h0M105.7 174.6h0M109.9 92.1h0M115.0 159.2h0M104.7 119.0h0M107.2 139.9h0M108.9 166.8h0M112.3 159.3h0M108.0 116.4h0M108.2 171.7h0M107.8 113.7h0M112.2 127.6h0M114.3 120.3h0M104.4 139.6h0M111.2 109.7h0M123.5 149.6h0M114.7 164.3h0M111.4 164.9h0M106.9 145.8h0M109.6 118.7h0M105.0 134.5h0M112.8 117.1h0M115.6 150.1h0M117.3 159.2h0M108.4 124.8h0M109.4 105.5h0M105.7 90.8h0M102.0 147.2h0M110.0 115.7h0M114.2 156.8h0M110.1 133.1h0M107.6 114.2h0M109.1 141.0h0M114.6 143.3h0M107.6 100.0h0M110.4 132.4h0M111.1 106.5h0M95.9 153.6h0M116.3 148.5h0M108.5 130.5h0M111.1 100.2h0M109.3 146.2h0M108.4 90.2h0M114.4 184.6h0M117.9 150.4h0M109.9 102.1h0M119.9 153.6h0M114.2 148.6h0M113.6 149.8h0M108.6 168.3h0M114.2 141.0h0M112.4 127.7h0M120.7 162.4h0M104.8 111.2h0M113.6 130.5h0M106.5 143.4h0M110.2 122.4h0M101.4 149.8h0M110.4 105.3h0M108.2 135.5h0M115.9 100.0h0M102.2 129.3h0M111.4 134.0h0M100.2 172.0h0M113.1 149.3h0M114.7 118.8h0M104.4 146.0h0M118.1 158.1h0M106.1 171.8h0M111.3 127.1h0M112.9 174.4h0M108.6 157.0h0M109.4 141.8h0M109.6 154.7h0M107.6 115.1h0M111.9 111.0h0M107.1 130.6h0M109.6 90.2h0M102.7 126.8h0M106.2 117.5h0M112.3 157.6h0M109.7 105.3h0M115.2 122.3h0M106.7 142.7h0M108.3 121.6h0M113.9 109.2h0M113.4 168.7h0M107.5 121.5h0M109.8 107.0h0M105.7 119.7h0M109.8 125.9h0M106.4 114.5h0M114.2 130.1h0M104.0 113.7h0M107.2 170.6h0M109.5 117.0h0M108.8 147.2h0M104.2 123.1h0M112.5 137.2h0M111.7 96.9h0M112.4 146.9h0M106.1 115.7h0M104.5 130.0h0M112.6 140.0h0M107.0 114.1h0M110.1 116.5h0M106.8 136.2h0M109.1 133.2h0M101.6 156.8h0M112.9 163.7h0M114.1 108.8h0M120.1 146.1h0M112.7 147.8h0M107.9 109.9h0M109.6 116.8h0M116.7 155.2h0M116.5 141.6h0M114.7 126.7h0M110.9 158.5h0M104.7 104.5h0M111.2 139.5h0M107.7 96.4h0M106.9 118.0h0M113.8 151.8h0M106.9 138.0h0M103.0 167.9h0M103.8 136.8h0M111.1 116.6h0M111.6 105.3h0M102.9 120.1h0M115.0 133.4h0M107.2 85.8h0M109.5 118.7h0M115.5 113.3h0M110.4 150.6h0M116.5 152.1h0M111.5 100.9h0M124.1 150.7h0M113.6 151.6h0M111.8 113.6h0M102.6 118.1h0M103.0 167.7h0M109.8 179.0h0M106.7 135.2h0M110.2 123.4h0M108.9 170.3h0M101.9 147.8h0M107.8 111.8h0M107.3 120.3h0M112.3 163.9h0M107.9 120.0h0M107.1 158.1h0M115.5 156.6h0M111.8 123.0h0M114.4 171.3h0M122.1 170.4h0M114.6 129.5h0M107.0 107.3h0M114.3 135.5h0M114.3 137.6h0M110.3 162.1h0M105.4 157.6h0M100.9 147.9h0M108.8 92.9h0M107.7 111.3h0M103.1 173.6h0M110.1 151.1h0M111.3 115.4h0M109.0 111.7h0M113.6 135.1h0M102.8 154.7h0M112.8 124.5h0M109.8 145.3h0M109.4 164.9h0M113.4 124.2h0M111.7 112.1h0M102.0 158.8h0M111.3 124.5h0M114.8 175.0h0M111.8 181.3h0M107.0 106.9h0M111.4 103.7h0M110.9 154.3h0M108.2 127.6h0M111.4 89.8h0M111.3 180.0h0M109.1 145.0h0M111.0 105.6h0M112.7 168.4h0M108.9 125.1h0M102.2 129.2h0M111.5 123.8h0M112.6 159.3h0M105.1 172.9h0M114.5 144.4h0M106.9 97.9h0M114.1 133.8h0M115.4 89.1h0M109.5 94.0h0M106.1 144.6h0M105.1 115.2h0M105.1 143.9h0M113.3 120.5h0M107.5 114.0h0M109.3 177.6h0M102.8 160.6h0M112.9 116.7h0M98.7 159.4h0M108.5 97.9h0M112.2 163.5h0M110.6 107.1h0M111.4 179.7h0M113.7 134.2h0M108.0 168.1h0M116.2 162.9h0M106.9 145.7h0M115.5 175.1h0M110.2 117.9h0M109.2 143.5h0M106.7 122.6h0M98.4 151.2h0M110.7 126.7h0M112.7 161.5h0M107.6 101.9h0M115.4 126.6h0M106.0 157.8h0M108.8 123.3h0M120.4 146.9h0M113.3 133.6h0M104.4 166.9h0M107.0 91.3h0M108.5 131.8h0M106.5 96.6h0M104.9 166.4h0M105.7 142.0h0M100.7 152.7h0M112.1 148.2h0M117.3 162.8h0M113.7 104.9h0M115.0 167.0h0M113.3 166.8h0M112.0 163.0h0M111.4 107.3h0M112.5 156.0h0M106.2 147.1h0M109.2 156.5h0M109.1 130.4h0M105.8 109.0h0M113.4 121.2h0M102.9 142.2h0M93.0 155.0h0M127.8 161.5h0M113.9 105.1h0M110.2 149.6h0M105.2 140.4h0M109.4 132.9h0M108.5 137.3h0M107.7 115.5h0M104.0 135.9h0M125.9 161.0h0M112.8 123.9h0M106.3 100.8h0M113.5 124.1h0M114.2 171.1h0M109.5 147.6h0M111.1 129.0h0M105.8 161.8h0M110.1 128.9h0M112.9 93.6h0M115.3 132.2h0M103.4 119.2h0M116.3 138.8h0M108.0 94.2h0M103.0 141.8h0M109.0 150.7h0M111.2 128.8h0M101.7 152.5h0M109.9 103.7h0M111.0 106.4h0M115.9 159.2h0M105.7 139.0h0M111.6 104.6h0M109.0 120.5h0M113.8 134.1h0M105.0 162.1h0M105.8 139.6h0M105.6 154.6h0M108.5 119.9h0M112.6 181.8h0M115.8 130.1h0M126.7 160.4h0M114.7 172.6h0M114.9 123.0h0M106.1 94.0h0M105.2 154.4h0M112.0 105.7h0M111.3 110.4h0M105.6 100.6h0M108.0 142.9h0M104.0 145.5h0M109.8 146.4h0M96.8 156.4h0M111.0 110.3h0M108.0 121.1h0M114.9 103.1h0M108.1 110.7h0M110.7 114.2h0M108.7 158.8h0M109.3 90.5h0M122.7 169.7h0M111.8 166.9h0M111.5 113.9h0M112.4 143.0h0M102.1 122.9h0M113.3 117.5h0M112.5 133.5h0M113.5 160.2h0M115.1 110.8h0M104.8 173.6h0M108.5 99.2h0M110.6 107.5h0M103.6 91.1h0M111.1 133.2h0M109.9 174.3h0M110.3 146.4h0M103.0 152.9h0M113.7 154.5h0M107.1 152.0h0M106.4 120.4h0M114.3 121.8h0M113.3 167.7h0M104.2 142.1h0M103.3 150.1h0M112.0 174.1h0M106.8 159.6h0M114.5 106.2h0M116.0 141.8h0M113.2 162.7h0M112.7 156.8h0M114.1 147.6h0M111.3 167.3h0M111.1 133.0h0M108.5 107.5h0M121.1 165.0h0M102.4 118.2h0M106.0 140.4h0M109.9 127.6h0M112.6 118.4h0M117.3 157.9h0M108.4 91.2h0M106.8 157.8h0M114.4 121.5h0M108.8 112.7h0M107.7 111.6h0M111.4 90.9h0M109.4 102.6h0M105.9 122.2h0M107.0 164.7h0M107.9 155.3h0M109.8 108.3h0M122.5 150.9h0M102.5 125.1h0M105.0 146.0h0M101.0 170.4h0M109.2 113.3h0M108.5 171.2h0M107.4 162.6h0M112.8 130.2h0M108.2 169.5h0M109.2 136.7h0M111.7 164.6h0M110.2 96.9h0M107.9 136.3h0M106.6 111.2h0M112.2 88.5h0M113.3 116.3h0M115.6 148.6h0M107.5 158.9h0M113.5 126.6h0M114.1 148.9h0M110.0 89.5h0M117.7 166.9h0M107.6 97.5h0M108.5 164.1h0M109.4 130.5h0M104.0 154.9h0M115.2 111.3h0M109.9 133.6h0M140.0 147.5h0M112.4 170.1h0M112.8 126.1h0M106.1 174.5h0M107.5 111.6h0M107.1 107.4h0M104.4 116.2h0M113.5 176.0h0M109.3 155.0h0M108.7 153.3h0M111.8 115.4h0M111.6 108.9h0M108.2 161.5h0M110.3 106.6h0M102.4 130.1h0M110.5 116.6h0M108.7 157.3h0M122.2 164.4h0M109.8 122.0h0M113.6 118.6h0M111.9 136.7h0M103.2 111.4h0M113.1 158.9h0M111.8 151.5h0M104.8 128.2h0M109.0 121.2h0M104.6 178.5h0M109.9 121.4h0M102.6 165.0h0M105.6 179.3h0M117.1 145.9h0M107.0 139.7h0M110.2 132.1h0M120.2 181.6h0M107.5 126.8h0M113.1 128.7h0M103.5 128.6h0M107.8 115.4h0M105.5 138.9h0M103.8 110.8h0M115.0 114.2h0M109.4 103.3h0M107.2 112.4h0M111.6 110.0h0M113.2 130.8h0M111.7 165.9h0M104.9 114.9h0M106.1 102.6h0M102.6 139.3h0M117.1 161.6h0M113.2 167.5h0M112.1 131.4h0M104.7 132.1h0M110.9 115.2h0M109.6 133.4h0M110.0 144.8h0M111.9 159.2h0M109.1 118.7h0M105.9 96.8h0M109.6 175.1h0M96.3 150.7h0M102.0 153.0h0M104.7 103.3h0M113.2 145.7h0M107.1 112.2h0M113.4 156.9h0M110.1 115.5h0M112.6 115.5h0M114.0 176.8h0M115.9 132.4h0M108.2 170.2h0M105.1 154.3h0M111.1 121.6h0M110.0 172.9h0M110.4 125.4h0M133.2 166.4h0M111.2 82.7h0M114.0 113.2h0M97.4 148.0h0M111.7 109.4h0M109.8 135.5h0M112.9 112.6h0M106.6 107.5h0M110.7 161.4h0M104.9 104.0h0M104.3 120.5h0M111.8 157.8h0M108.3 114.7h0M97.9 151.6h0M116.1 161.0h0M104.8 134.3h0M107.7 171.1h0M109.8 136.7h0M117.7 167.5h0M109.9 117.1h0M109.3 116.2h0M112.5 126.3h0M110.8 130.6h0M104.8 131.8h0M108.9 109.6h0M111.7 140.8h0M106.1 99.9h0M113.2 125.6h0M107.1 131.3h0M108.5 113.7h0M111.6 134.7h0M122.8 145.7h0M110.7 164.7h0M104.6 157.1h0M112.4 116.6h0M111.5 110.2h0M101.0 172.2h0M103.8 161.7h0M108.1 166.9h0M113.0 104.9h0M107.8 136.1h0M110.5 134.4h0M110.0 148.1h0M109.3 175.8h0M113.3 135.9h0M114.7 126.4h0M116.6 174.4h0M106.7 117.8h0M130.2 146.6h0M112.4 118.5h0M112.5 145.0h0M109.0 134.3h0M107.6 159.3h0M110.7 155.3h0M114.6 135.8h0M105.5 114.6h0M110.3 147.9h0M126.4 168.0h0M107.3 107.0h0M112.6 116.9h0M113.5 133.0h0M111.6 98.5h0M107.0 123.0h0M107.3 142.1h0M111.5 164.8h0M114.9 111.0h0M121.9 180.7h0M111.8 101.2h0M112.1 114.9h0M110.6 177.1h0M108.8 103.3h0M114.3 136.6h0M111.8 148.4h0M112.3 152.7h0M110.6 159.4h0M112.3 94.4h0M111.7 130.3h0M113.6 138.9h0M118.8 179.0h0M107.5 171.8h0M111.0 111.9h0M110.9 90.3h0M114.3 118.5h0M112.2 152.5h0M114.5 156.4h0M110.6 141.9h0M119.7 162.6h0M109.1 108.0h0M109.9 131.9h0M104.4 124.3h0M105.1 121.4h0M104.8 145.2h0M103.1 140.6h0M108.9 113.0h0M115.1 89.8h0M111.5 117.3h0M112.7 142.2h0M118.7 164.7h0M102.0 146.4h0M109.4 100.5h0M116.5 112.4h0M108.9 132.4h0M107.1 168.5h0M110.1 123.6h0M108.0 154.9h0M104.9 141.1h0M124.3 155.4h0M140.8 151.6h0M112.3 119.8h0M110.4 138.4h0M113.1 157.9h0M104.0 121.0h0M110.6 139.7h0M107.6 93.4h0M103.2 144.8h0M106.8 101.0h0M110.0 95.2h0M111.3 139.0h0M113.3 97.6h0M109.3 139.9h0M113.6 127.4h0M109.8 136.8h0M112.9 160.3h0M105.4 151.4h0M113.0 119.8h0M123.8 165.5h0M106.0 109.8h0M109.5 153.3h0M104.2 103.9h0M112.2 101.1h0M111.1 111.6h0M110.5 142.4h0M111.4 118.0h0M104.6 156.5h0M107.1 90.6h0M106.3 132.6h0M107.7 139.4h0M111.8 93.0h0M111.6 122.3h0M107.2 136.0h0M115.5 116.9h0M110.9 155.5h0M122.0 142.8h0M113.0 88.8h0M104.4 134.7h0M107.6 126.2h0M111.4 161.6h0M107.1 109.4h0M100.7 154.4h0M106.9 107.1h0M113.8 171.2h0M109.1 147.7h0M107.2 108.7h0M110.2 109.4h0M110.1 159.7h0M111.8 159.3h0M113.8 117.3h0M113.3 162.0h0M102.9 148.7h0M100.3 148.4h0M106.1 145.0h0M102.8 117.5h0M112.1 136.8h0M105.9 160.7h0M116.3 142.2h0M105.7 114.7h0M112.3 131.3h0M108.4 150.8h0M111.6 141.1h0M112.4 135.6h0M103.4 107.8h0M114.3 124.0h0M107.4 126.5h0M112.1 133.2h0M109.3 139.3h0M111.2 131.0h0M107.0 122.2h0M104.2 103.1h0M106.8 90.1h0M110.4 85.1h0M111.0 140.0h0M110.3 156.2h0M105.0 160.1h0M106.4 168.5h0M111.7 140.3h0M113.5 124.2h0M111.7 109.9h0M107.6 128.1h0M112.0 107.0h0M109.2 163.3h0M108.9 171.7h0M103.3 147.4h0M113.4 102.0h0M103.2 121.8h0M125.4 157.0h0M114.3 129.3h0M110.5 145.3h0M108.3 91.2h0M115.2 123.3h0M109.0 128.9h0M109.0 129.5h0M110.2 101.5h0M108.4 107.1h0M117.4 146.8h0M106.2 144.5h0M113.3 91.8h0M111.0 132.9h0M114.9 118.8h0M114.0 102.4h0M110.0 175.5h0M112.9 152.7h0M111.3 112.2h0M110.9 125.4h0M105.9 159.4h0M109.3 155.9h0M106.4 86.6h0M102.6 134.7h0M112.3 138.1h0M115.0 150.4h0M106.8 157.7h0M109.7 125.0h0M106.7 123.7h0M115.2 166.1h0M104.4 180.7h0M112.3 86.4h0M112.1 108.9h0M110.7 120.7h0M107.6 163.7h0M108.3 113.4h0M115.3 143.8h0M112.9 99.4h0M106.7 164.0h0M108.7 96.0h0M110.8 161.8h0M105.5 164.5h0M111.1 178.4h0M115.5 165.7h0M111.9 136.6h0M108.9 117.2h0M151.1 162.4h0M116.6 116.2h0M109.3 126.4h0M109.6 145.8h0M102.2 109.2h0M103.4 121.0h0M114.8 111.9h0M113.0 127.2h0M104.7 159.8h0M112.0 140.9h0M107.8 127.8h0M108.9 106.9h0M107.1 135.4h0M110.0 137.6h0M113.5 122.4h0M111.8 119.6h0M107.9 100.8h0M108.8 117.1h0M108.5 144.9h0M108.7 117.1h0M113.6 154.5h0M116.3 140.5h0M107.6 95.7h0M112.0 109.4h0M108.8 132.3h0M115.3 157.4h0M108.4 166.6h0M112.5 101.5h0M114.4 99.7h0M105.8 108.2h0M112.8 114.6h0M105.3 139.5h0M109.5 167.0h0M109.5 97.1h0M113.4 152.1h0M103.5 148.0h0M109.3 124.0h0M106.1 173.2h0M108.4 114.5h0M108.4 167.4h0M109.1 149.5h0M109.9 146.9h0M107.9 132.5h0M111.2 100.3h0M106.9 137.3h0M107.2 162.2h0M109.6 116.1h0M111.9 106.1h0M115.0 127.6h0M103.4 108.8h0M108.3 157.6h0M107.3 137.0h0M111.5 121.3h0M109.2 103.5h0M103.2 156.7h0M109.3 165.2h0M92.5 162.3h0M109.0 123.3h0M110.9 107.2h0M97.9 174.7h0M114.9 115.9h0M103.9 157.2h0M112.9 163.7h0M104.9 125.2h0M98.4 155.6h0M112.0 129.6h0M105.2 141.9h0M110.4 173.2h0M108.6 109.3h0M106.9 133.2h0M107.3 180.0h0M107.8 119.1h0M114.0 125.2h0M115.2 110.2h0M108.8 96.6h0M112.8 135.7h0M104.8 152.9h0M115.3 105.4h0M105.0 143.6h0M120.3 148.1h0M106.2 144.1h0M110.2 113.7h0M109.7 136.2h0M110.8 107.1h0M115.7 150.3h0M111.9 125.8h0M114.6 155.0h0M96.8 157.3h0M110.3 149.6h0M106.5 125.3h0M108.6 110.3h0M112.4 120.4h0M108.7 167.6h0M106.9 117.7h0M120.4 147.4h0M104.3 90.1h0M110.3 174.2h0M116.2 150.7h0M110.7 128.0h0M116.4 152.2h0M110.3 149.5h0M108.7 117.8h0M116.6 150.6h0M117.2 155.7h0M111.7 164.8h0M111.1 117.8h0M110.9 110.5h0M108.1 124.2h0M107.7 121.3h0M107.7 100.1h0M110.8 117.4h0M109.4 159.9h0M108.1 116.1h0M88.1 149.7h0M109.8 157.2h0M110.5 114.9h0M113.5 121.7h0M102.5 151.1h0M108.4 174.1h0M116.1 154.5h0M109.5 109.3h0M111.4 148.5h0M107.2 166.7h0M105.1 139.7h0M117.2 153.4h0M97.5 162.9h0M113.3 161.9h0M111.8 175.1h0M107.5 121.8h0M119.0 157.4h0M105.1 158.6h0M108.8 128.8h0M104.2 121.9h0M108.0 114.7h0M106.2 141.3h0M111.4 170.9h0M108.4 116.5h0M110.7 98.6h0M109.2 152.8h0M107.9 114.5h0M125.1 153.7h0M112.7 140.2h0M106.1 93.9h0M109.6 102.5h0M110.5 146.4h0M115.0 126.7h0M109.6 119.0h0M107.2 126.5h0M104.8 170.9h0M110.5 115.1h0M106.5 112.6h0M114.7 117.6h0M110.5 136.1h0M112.2 155.2h0M110.6 116.4h0M118.3 158.1h0M105.7 134.2h0M108.4 155.9h0M120.9 153.3h0M114.0 141.2h0M116.5 122.9h0M110.3 122.1h0M102.7 107.9h0M110.6 110.6h0M111.7 128.4h0M116.9 172.8h0M104.0 151.5h0M110.0 153.3h0M109.1 118.4h0M110.8 135.2h0M102.2 163.1h0M116.0 122.7h0M105.7 127.7h0M109.7 105.3h0M98.2 167.6h0M112.5 160.8h0M113.0 134.1h0M106.6 103.5h0M104.7 162.1h0M106.6 155.0h0M109.2 154.7h0M108.3 152.7h0M120.2 155.0h0M108.2 127.5h0M107.1 157.8h0M108.4 105.9h0M113.5 102.9h0M105.7 113.7h0M108.8 115.3h0M110.2 114.6h0M113.1 131.7h0M104.5 163.4h0M109.3 103.5h0M102.9 140.6h0M110.0 138.3h0M105.5 105.3h0M111.2 124.0h0M104.6 175.7h0M110.9 126.6h0M112.5 120.3h0M109.3 147.8h0M96.3 150.7h0M111.7 177.1h0M105.5 143.7h0M110.0 130.9h0M110.7 108.3h0M113.4 148.0h0M111.9 161.4h0M113.5 149.1h0M81.3 155.8h0M110.6 141.9h0M116.5 154.2h0M107.7 103.2h0M114.4 138.7h0M104.4 124.6h0M112.2 140.1h0M108.5 141.7h0M105.6 123.6h0M110.0 138.4h0M107.9 124.0h0M106.1 133.5h0M110.2 110.0h0M127.3 163.1h0M114.6 88.7h0M110.6 135.9h0M109.3 126.0h0M104.6 118.5h0M109.3 115.2h0M115.9 160.8h0M114.6 112.0h0M110.9 162.7h0M109.5 128.3h0M103.7 155.8h0M103.4 108.7h0M107.5 110.3h0M109.0 125.0h0M105.1 116.8h0M97.1 179.8h0M115.4 145.3h0M110.6 170.7h0M113.9 92.5h0M113.2 92.1h0M112.2 119.7h0M97.4 148.8h0M114.5 152.8h0M110.2 120.3h0M112.2 132.4h0M103.4 128.1h0M97.7 160.7h0M113.6 170.3h0M111.7 111.6h0M110.6 158.3h0M108.6 118.6h0M106.3 130.5h0M104.5 184.2h0M111.1 127.5h0M109.7 102.8h0M105.9 161.2h0M114.5 172.3h0M107.1 181.8h0M110.1 123.1h0M106.7 178.1h0M113.4 152.3h0M109.8 134.0h0M108.3 110.4h0M108.2 95.2h0M111.6 163.0h0M115.2 113.9h0M106.5 157.3h0M94.0 154.9h0M105.3 100.7h0M109.2 98.3h0M126.7 148.8h0M104.3 159.9h0M118.0 177.0h0M112.2 175.8h0M116.4 164.0h0M102.7 149.9h0M114.2 125.4h0M109.2 129.0h0M108.6 120.0h0M105.5 167.7h0M113.2 99.5h0M112.7 148.6h0M110.8 151.4h0M107.9 128.0h0M110.4 158.5h0M109.6 110.4h0M114.7 167.6h0M129.0 147.9h0M91.5 157.8h0M110.7 101.1h0M109.1 126.4h0M111.7 116.2h0M114.1 158.6h0M109.3 165.9h0M104.5 124.8h0M107.9 172.5h0M107.6 149.6h0M105.4 133.5h0M104.5 95.9h0M113.8 109.5h0M105.8 163.2h0M105.6 129.1h0M109.4 113.9h0M110.5 169.0h0M114.3 165.2h0M109.0 157.3h0M115.0 132.5h0M127.6 159.8h0M111.2 98.8h0M103.0 127.1h0M111.3 173.5h0M116.4 159.4h0M105.5 123.1h0M111.6 91.5h0M109.0 158.1h0M110.2 137.0h0M105.2 171.5h0M106.7 135.3h0M108.3 168.5h0M115.8 122.8h0M103.5 126.5h0M110.5 163.0h0M108.1 120.6h0M108.7 122.4h0M111.2 127.5h0M106.4 145.7h0M107.1 110.3h0M110.2 175.3h0M103.5 148.5h0M109.9 166.0h0M116.2 127.1h0M108.9 114.5h0M103.1 139.7h0M108.1 86.2h0M106.7 96.4h0M112.3 157.7h0M114.9 111.3h0M109.5 134.1h0M108.3 103.4h0M113.4 108.7h0M111.3 116.1h0M106.9 117.2h0M108.3 182.6h0M104.4 159.0h0M110.3 136.9h0M112.2 124.8h0M103.6 9.1h0M104.8 9.1h0M106.1 9.1h0M107.5 9.1h0M108.8 9.1h0M110.4 9.1h0M59.8 163.2h0M145.4 160.9h0M152.8 165.5h0M146.6 179.3h0M109.5 80.0h0M104.9 93.0h0M109.9 94.3h0M111.0 97.2h0M109.2 93.5h0M111.1 81.1h0M108.3 86.4h0M112.3 86.7h0M115.8 80.8h0M107.9 94.6h0M105.6 93.4h0M112.2 97.8h0M109.8 93.5h0M105.4 92.0h0M110.8 78.1h0M110.5 75.8h0M108.3 84.5h0M107.5 84.5h0M110.6 78.7h0M106.7 80.6h0M108.7 89.5h0M108.3 78.2h0M113.8 83.2h0M110.5 94.5h0M109.0 92.6h0M112.6 75.9h0M111.9 97.0h0M109.0 90.4h0M114.2 74.4h0M113.1 81.5h0M110.9 85.4h0M108.7 90.9h0M113.2 87.0h0M109.7 88.9h0M110.3 94.0h0M109.6 89.2h0M108.7 80.7h0M103.4 91.6h0M111.9 77.5h0M109.7 87.6h0M107.5 79.0h0M112.4 95.5h0M111.7 74.6h0M113.7 89.8h0M110.2 85.4h0M105.1 78.2h0M110.0 81.2h0M110.3 94.9h0M111.0 76.0h0M107.9 97.4h0M112.6 98.5h0M108.0 77.1h0M112.0 79.1h0M108.8 83.9h0M105.5 86.7h0M115.1 94.2h0M109.2 75.8h0M107.2 78.3h0M107.3 79.7h0M110.7 93.2h0M109.7 74.2h0M104.1 95.4h0M106.4 90.2h0M110.3 75.5h0M113.2 76.9h0M108.6 96.8h0M108.7 84.3h0M110.3 76.8h0M106.7 92.4h0M115.2 87.1h0M112.2 83.0h0M106.6 81.9h0M111.1 92.0h0M105.6 89.2h0M108.0 94.1h0M112.4 95.1h0M110.3 91.0h0M111.8 88.7h0M112.8 96.1h0M108.0 89.5h0M107.9 84.9h0M106.2 80.8h0M111.5 96.7h0M109.3 82.0h0M108.4 82.8h0M114.7 79.3h0M104.4 92.8h0M109.4 82.9h0M112.9 96.4h0M111.2 75.4h0M111.4 79.9h0M110.1 93.1h0M111.5 86.4h0M109.1 77.1h0M109.6 82.9h0M108.3 93.2h0M102.2 93.2h0M107.6 90.7h0M112.6 79.0h0M112.2 98.1h0M111.8 87.2h0M111.0 84.6h0M110.3 96.3h0M108.3 73.7h0M107.5 95.8h0M115.1 86.4h0M112.7 80.7h0M111.2 78.6h0M110.4 76.8h0M109.3 74.4h0M108.0 97.9h0M111.2 96.2h0M111.6 93.1h0M113.3 87.7h0M107.9 96.4h0M109.5 75.1h0M110.2 91.4h0M107.8 98.3h0M111.4 85.2h0M107.1 88.9h0M108.5 82.5h0M109.7 86.1h0M106.7 92.3h0M113.0 92.1h0M111.3 83.1h0M109.1 96.3h0M109.2 77.5h0M108.3 74.7h0M103.0 85.3h0M103.9 81.7h0M112.9 98.7h0M112.2 97.1h0M110.8 79.0h0M106.6 79.6h0M109.4 94.0h0M109.1 87.5h0M109.1 92.6h0M110.6 87.2h0M105.2 86.1h0M110.9 85.7h0M109.3 86.3h0M112.5 75.7h0M109.4 91.2h0M111.8 88.7h0M111.2 87.8h0M112.6 96.3h0M104.7 92.5h0M112.9 94.7h0M108.3 82.1h0M112.2 76.1h0M109.5 84.2h0M110.4 92.1h0M111.2 80.8h0M110.9 89.5h0M107.8 77.5h0M114.9 81.3h0M112.7 88.4h0M112.5 75.1h0M109.3 76.7h0M112.4 77.1h0M110.1 93.6h0M106.3 80.4h0M110.1 95.5h0M104.1 91.9h0M110.6 82.5h0M109.1 77.0h0M106.6 81.9h0M105.9 82.7h0M111.5 92.1h0M109.3 98.5h0M104.5 75.8h0M104.2 73.9h0M106.2 94.8h0M108.9 90.7h0M107.4 91.7h0M108.4 96.2h0M108.9 88.3h0M109.0 88.4h0M108.9 96.4h0M112.8 95.3h0M111.5 81.8h0M114.6 82.5h0M110.5 86.4h0M109.6 74.7h0M106.5 83.9h0M104.3 88.1h0M112.5 84.6h0M112.7 92.6h0M108.4 96.0h0M108.2 75.8h0M113.2 96.9h0M113.2 96.2h0M107.9 89.6h0M105.8 76.4h0M108.0 74.6h0M110.3 84.9h0M109.0 79.9h0M106.5 89.9h0M108.4 98.7h0M111.4 80.7h0M112.6 84.1h0M107.0 90.9h0M108.1 90.4h0M112.3 95.2h0M104.9 96.6h0M107.7 95.3h0M113.2 80.9h0M108.3 76.8h0M108.1 97.4h0M107.6 89.8h0M107.3 83.1h0M106.9 94.1h0M107.8 79.8h0M109.2 95.7h0M110.4 95.8h0M112.4 90.5h0M109.1 90.7h0M109.2 94.2h0M107.5 81.0h0M104.4 78.2h0M108.4 73.6h0M112.4 91.3h0M111.6 82.4h0M113.1 81.5h0M107.1 92.4h0M111.5 91.6h0M105.8 81.8h0M106.9 80.1h0M112.5 95.6h0M113.4 81.8h0M115.6 76.6h0M104.7 93.9h0M106.0 90.8h0M108.0 89.5h0M109.0 73.8h0M105.2 77.4h0M107.3 76.0h0M109.5 80.7h0M112.7 95.9h0M115.4 75.7h0M108.7 88.2h0M108.1 78.8h0M109.9 89.1h0M108.5 91.1h0M107.6 75.0h0M105.1 87.2h0M113.2 78.8h0M112.3 93.1h0M107.9 78.8h0M109.6 79.5h0M107.8 90.8h0M108.2 74.2h0M110.2 86.2h0M112.2 87.1h0M112.4 79.1h0M112.0 73.7h0M106.8 46.5h0M108.4 44.9h0M110.0 43.3h0M111.6 41.7h0M113.2 40.1h0M114.8 38.5h0M116.4 36.9h0M102.5 51.6h0M109.4 57.6h0M112.6 54.4h0M115.8 51.2h0M102.5 65.0h0M104.1 63.4h0M105.7 61.8h0M107.3 60.2h0M108.9 58.6h0M102.6 73.7h0M104.1 72.2h0M105.6 70.7h0M107.1 69.2h0M108.6 67.7h0M110.1 66.2h0M102.3 79.9h0M103.8 78.4h0M105.3 76.9h0M106.8 75.4h0M108.3 73.9h0M109.8 72.4h0M102.2 84.1h0M103.8 82.5h0M105.4 80.9h0M107.0 79.3h0M103.0 63.4h0M104.6 61.8h0M106.2 60.2h0M107.8 58.6h0M109.4 57.0h0M111.0 55.4h0M112.6 53.8h0M114.2 52.2h0M115.8 50.6h0M102.2 73.3h0M103.8 71.7h0M105.4 70.1h0M107.0 68.5h0M108.6 66.9h0M110.2 65.3h0M111.8 63.7h0M103.0 70.0h0M105.0 68.0h0M107.0 66.0h0M109.0 64.0h0M111.0 62.0h0M102.4 90.6h0M104.0 89.0h0M105.6 87.4h0M107.2 85.8h0M104.5 70.0h0M107.0 67.5h0M109.5 65.0h0" stroke="#bebebe" stroke-width="1.80" stroke-linecap="round" fill="none"/>
<path d="M93.9 100.6h0M100.7 125.4h0M100.4 120.1h0M100.5 128.5h0M97.4 100.4h0M85.9 139.4h0M99.5 130.9h0M101.4 117.5h0M101.7 109.4h0M99.9 130.5h0M100.7 127.7h0M91.6 139.3h0M100.5 119.1h0M89.8 140.8h0M99.8 108.1h0M97.5 111.0h0M99.6 100.5h0M99.0 125.6h0M100.6 113.6h0M101.6 142.2h0M94.1 124.6h0M92.0 137.4h0M102.0 141.6h0M100.7 116.7h0M100.6 109.4h0M96.6 135.8h0M100.5 123.4h0M98.8 125.3h0M97.8 117.0h0M92.0 117.8h0M101.9 129.8h0M98.1 118.2h0M82.9 131.6h0M98.6 116.1h0M95.5 137.8h0M92.3 108.8h0M101.0 141.3h0M95.8 111.0h0M100.1 108.2h0M93.0 102.0h0M92.6 121.9h0M100.5 116.4h0M101.6 119.3h0M102.0 105.5h0M94.7 103.3h0M100.6 118.7h0M88.9 139.8h0M101.5 134.6h0M96.7 133.0h0M96.5 130.5h0M95.7 136.7h0M100.8 139.8h0M96.5 135.2h0M99.5 133.8h0M102.1 114.8h0M91.3 128.1h0M87.3 137.0h0M101.7 134.6h0M93.7 138.9h0M89.8 106.1h0M100.3 123.7h0M99.4 98.2h0M101.7 113.2h0M93.4 134.6h0M92.6 111.7h0M100.7 104.2h0M99.7 114.8h0M101.6 116.4h0M99.8 98.6h0M101.2 138.5h0M98.7 131.6h0M96.9 140.2h0M91.9 130.4h0M97.1 119.4h0M101.5 126.4h0M98.3 118.0h0M96.3 141.4h0M91.8 129.7h0M93.1 134.8h0M101.3 99.5h0M98.7 114.1h0M102.0 101.1h0M100.8 116.2h0M97.6 112.2h0M99.1 103.0h0M101.1 117.3h0M100.9 133.7h0M96.0 130.6h0M99.8 132.2h0M99.5 139.7h0M97.4 128.0h0M99.9 129.7h0M95.6 121.5h0M100.7 97.6h0M101.6 110.1h0M98.6 134.0h0M101.5 133.9h0M101.7 106.4h0M100.6 135.3h0M101.2 104.4h0M82.0 131.9h0M98.2 115.2h0M100.7 129.9h0M100.2 110.6h0M94.8 123.0h0M100.3 131.8h0M102.0 130.2h0M97.6 130.0h0M100.6 116.7h0M101.2 121.2h0M99.1 104.3h0M101.4 111.0h0M97.2 136.0h0M100.8 130.0h0M92.9 112.8h0M95.7 130.0h0M101.8 140.6h0M101.1 97.6h0M101.7 127.9h0M95.1 110.9h0M83.7 136.5h0M94.7 98.3h0M100.7 113.8h0M91.9 117.2h0M99.8 131.8h0M92.7 113.8h0M95.1 122.2h0M102.1 141.9h0M98.3 102.5h0M100.6 116.7h0M100.1 101.0h0M89.6 115.6h0M87.7 121.8h0M101.9 123.9h0M101.5 111.8h0M90.3 131.5h0M101.7 111.6h0M102.1 123.7h0M99.9 125.9h0M100.7 124.9h0M99.5 117.6h0M98.8 135.2h0M101.8 113.5h0M101.8 109.3h0M101.7 112.2h0M101.7 108.9h0M85.0 9.1h0M90.8 9.1h0M91.4 9.1h0M102.1 9.1h0M73.4 87.3h0M68.5 110.3h0M78.4 117.2h0M64.8 124.1h0M100.0 136.6h0M96.1 103.6h0M94.9 124.8h0M99.4 136.0h0M101.2 118.2h0M97.5 127.7h0M100.3 139.4h0M96.8 124.1h0M99.8 130.0h0M96.9 125.4h0M99.0 127.2h0M101.8 112.8h0M100.7 119.7h0M95.4 115.8h0M101.2 111.9h0M97.2 124.7h0M100.9 129.6h0M97.8 141.8h0M97.4 138.2h0M91.1 141.3h0M96.3 121.2h0M94.2 131.5h0M98.5 136.0h0M97.1 106.6h0M97.9 122.1h0M95.8 129.1h0M97.4 130.4h0M100.1 128.6h0M97.5 129.3h0M96.7 137.3h0M99.1 138.5h0M101.2 125.9h0M96.7 111.8h0M101.9 111.2h0M99.8 140.1h0M97.2 112.6h0M101.8 125.3h0M96.8 105.0h0M101.4 134.8h0M94.0 118.8h0M101.6 77.2h0M97.7 56.4h0M99.3 54.8h0M100.9 53.2h0M93.0 62.0h0M95.4 59.6h0M97.7 69.8h0M99.3 68.2h0M100.9 66.6h0M93.6 82.7h0M95.1 81.2h0M96.6 79.7h0M98.1 78.2h0M99.6 76.7h0M101.1 75.2h0M94.8 87.4h0M96.3 85.9h0M97.8 84.4h0M99.3 82.9h0M100.8 81.4h0M94.2 92.1h0M95.8 90.5h0M97.4 88.9h0M99.0 87.3h0M100.6 85.7h0M99.0 76.5h0M100.6 74.9h0M101.0 72.0h0M96.0 97.0h0M97.6 95.4h0M99.2 93.8h0M100.8 92.2h0" stroke="#66c2a5" stroke-width="1.80" stroke-linecap="round" fill="none"/>
<path d="M117.1 139.7h0M118.2 119.8h0M121.8 87.0h0M118.3 109.7h0M117.9 131.7h0M126.4 135.2h0M121.6 121.4h0M119.9 139.9h0M129.6 131.3h0M120.0 118.1h0M119.9 120.0h0M120.5 118.9h0M133.0 119.9h0M117.0 105.2h0M125.7 132.9h0M119.8 94.6h0M128.4 132.1h0M122.0 103.7h0M121.9 121.7h0M119.0 133.5h0M117.6 136.4h0M125.4 122.0h0M124.8 126.7h0M133.9 127.2h0M119.9 121.5h0M119.3 110.4h0M122.5 120.1h0M123.5 129.9h0M117.7 140.6h0M119.1 138.4h0M119.9 107.4h0M120.2 126.4h0M123.3 108.7h0M125.3 122.8h0M120.0 124.2h0M118.9 114.9h0M119.0 101.7h0M124.0 139.3h0M120.4 117.6h0M118.9 136.7h0M121.4 134.0h0M117.5 120.8h0M117.3 96.7h0M121.6 119.2h0M120.0 104.1h0M117.1 127.4h0M126.3 140.8h0M118.5 125.5h0M121.1 119.6h0M117.5 114.0h0M118.9 104.4h0M118.6 108.9h0M144.3 135.7h0M117.0 133.2h0M118.8 137.4h0M126.2 129.3h0M116.7 129.3h0M119.5 137.7h0M117.8 126.5h0M119.6 99.3h0M120.5 118.1h0M128.1 138.3h0M124.5 124.9h0M119.1 103.4h0M128.2 114.2h0M128.2 138.8h0M117.6 135.4h0M118.7 116.6h0M118.7 102.0h0M119.7 132.5h0M120.2 117.9h0M117.6 105.4h0M116.9 112.4h0M131.4 88.8h0M117.0 133.1h0M121.7 105.3h0M125.9 98.8h0M125.7 98.2h0M133.2 107.8h0M117.9 122.5h0M117.4 142.5h0M122.4 105.9h0M117.8 130.4h0M123.9 120.7h0M119.6 114.2h0M117.1 110.6h0M118.4 122.8h0M117.4 140.5h0M126.8 121.8h0M118.1 123.3h0M127.7 132.7h0M121.6 103.8h0M118.3 122.5h0M117.0 112.8h0M127.1 108.1h0M125.1 137.0h0M116.7 130.8h0M121.8 126.1h0M121.5 132.8h0M117.9 126.3h0M117.7 131.5h0M117.1 114.1h0M116.7 133.3h0M117.9 107.7h0M120.4 141.8h0M133.3 138.3h0M118.6 125.2h0M126.2 101.6h0M118.5 139.0h0M118.1 125.7h0M118.9 135.1h0M117.3 124.4h0M118.4 135.2h0M118.6 136.7h0M122.1 135.9h0M120.0 132.9h0M117.6 117.9h0M120.9 120.7h0M119.7 98.4h0M125.9 107.8h0M137.2 138.6h0M119.0 127.6h0M128.0 120.1h0M119.6 135.8h0M120.0 133.6h0M131.7 129.2h0M122.3 125.9h0M122.5 137.0h0M121.8 135.5h0M117.7 139.6h0M117.8 133.8h0M120.1 141.3h0M123.2 118.9h0M117.6 127.9h0M119.3 129.9h0M116.7 105.0h0M133.9 113.3h0M120.2 141.1h0M127.7 131.3h0M117.5 94.6h0M119.1 96.2h0M119.4 128.5h0M119.8 111.6h0M124.7 134.1h0M120.1 138.7h0M117.5 118.1h0M122.1 142.2h0M117.2 141.4h0M122.9 137.8h0M121.4 119.4h0M127.2 123.6h0M128.2 117.4h0M119.5 141.1h0M126.9 122.4h0M118.9 125.6h0M116.8 114.1h0M126.4 125.4h0M116.9 129.4h0M119.2 108.4h0M118.3 133.8h0M123.1 126.3h0M117.7 141.2h0M135.8 123.1h0M117.3 97.0h0M129.4 132.3h0M117.1 132.9h0M117.9 120.3h0M117.3 127.5h0M128.9 111.8h0M117.9 130.5h0M121.5 136.7h0M118.2 132.5h0M120.9 141.8h0M127.9 110.2h0M121.8 131.6h0M120.2 131.4h0M122.4 125.1h0M117.4 107.3h0M126.5 101.7h0M130.4 101.5h0M121.8 109.3h0M117.5 119.9h0M121.5 104.1h0M116.9 138.9h0M122.3 130.6h0M122.2 124.9h0M117.0 99.5h0M119.5 128.8h0M117.3 134.6h0M120.2 108.0h0M144.4 138.9h0M117.1 137.6h0M117.7 118.2h0M126.6 141.3h0M125.1 133.5h0M117.3 139.6h0M120.4 131.6h0M133.9 108.2h0M117.3 89.7h0M118.3 104.4h0M118.3 98.5h0M117.6 133.3h0M127.0 125.8h0M133.7 118.2h0M118.5 127.8h0M118.5 135.3h0M124.5 120.5h0M118.8 125.9h0M118.8 121.4h0M121.3 129.5h0M120.5 119.7h0M116.8 103.8h0M117.6 127.2h0M120.7 121.6h0M126.2 119.2h0M124.6 130.0h0M120.0 117.5h0M117.6 130.8h0M135.7 117.6h0M118.7 126.1h0M124.8 128.6h0M116.9 121.3h0M120.4 100.8h0M131.2 122.4h0M127.3 117.2h0M120.3 111.9h0M127.5 94.8h0M133.3 113.8h0M119.6 129.6h0M125.8 118.7h0M130.4 135.4h0M116.7 98.8h0M119.5 122.0h0M125.6 121.4h0M118.4 136.7h0M119.9 115.6h0M117.7 113.4h0M116.7 114.0h0M117.9 141.9h0M119.4 100.4h0M125.8 127.9h0M121.3 119.9h0M123.0 137.9h0M118.2 119.8h0M127.5 133.7h0M116.8 121.5h0M119.0 119.1h0M125.4 134.0h0M127.4 132.3h0M118.2 121.5h0M122.2 99.3h0M117.1 112.7h0M120.4 97.9h0M117.4 119.3h0M120.0 110.8h0M119.4 121.1h0M123.4 122.9h0M124.5 131.8h0M118.9 124.6h0M132.2 108.3h0M123.4 119.9h0M119.3 138.6h0M121.2 137.6h0M116.9 135.2h0M123.5 131.3h0M125.6 117.9h0M134.2 124.6h0M132.2 131.2h0M123.9 135.4h0M117.9 138.5h0M119.4 98.0h0M120.8 116.7h0M119.4 134.7h0M122.9 115.1h0M117.2 122.1h0M117.6 126.3h0M135.5 128.1h0M123.5 115.0h0M122.5 140.8h0M117.9 100.5h0M120.2 127.7h0M123.6 106.4h0M118.0 130.4h0M121.6 127.7h0M126.7 131.4h0M124.4 125.6h0M116.8 139.8h0M124.8 101.3h0M119.6 125.0h0M124.9 124.2h0M119.8 106.5h0M120.5 106.6h0M118.4 127.4h0M116.8 121.0h0M118.4 123.3h0M117.5 118.8h0M134.2 124.0h0M117.1 90.9h0M125.0 103.7h0M129.0 117.8h0M127.8 105.9h0M117.0 119.5h0M122.9 95.7h0M128.5 116.8h0M117.3 108.3h0M123.5 108.2h0M119.0 104.4h0M120.2 125.1h0M119.9 9.1h0M131.7 9.1h0M133.0 17.4h0M121.2 42.2h0M126.8 45.0h0M120.6 62.0h0M118.1 68.9h0M121.8 78.1h0M137.9 82.7h0M141.6 83.6h0M147.8 96.5h0M154.0 105.7h0M161.5 137.9h0M142.9 121.8h0M123.4 128.0h0M123.5 121.0h0M123.0 138.6h0M124.3 123.6h0M124.2 135.1h0M118.7 141.7h0M119.1 141.3h0M118.1 109.3h0M118.7 115.5h0M118.3 141.6h0M117.8 135.1h0M120.3 138.0h0M119.4 123.5h0M122.2 136.2h0M117.2 100.4h0M121.8 82.9h0M120.6 120.7h0M117.6 94.6h0M117.0 137.2h0M119.5 136.9h0M121.2 104.6h0M120.7 132.9h0M125.7 123.1h0M125.0 116.4h0M131.9 114.6h0M117.8 128.4h0M126.1 102.2h0M117.1 99.3h0M125.4 122.8h0M117.6 129.7h0M116.7 122.7h0M116.8 121.2h0M126.7 138.1h0M126.1 112.6h0M120.4 97.8h0M118.5 131.3h0M117.4 109.1h0M119.1 112.5h0M117.2 129.0h0M127.9 107.1h0M125.4 130.8h0M123.8 141.7h0M120.2 124.7h0M116.8 137.0h0M135.7 140.1h0M126.9 141.6h0M129.2 117.8h0M125.4 116.7h0M121.5 135.0h0M126.0 137.2h0M141.7 137.5h0M118.7 135.4h0M116.8 136.9h0M131.8 104.1h0M118.8 141.5h0M126.5 107.6h0M127.4 135.7h0M124.4 138.9h0M127.7 117.2h0M120.3 139.1h0M118.0 139.7h0M132.3 117.2h0M119.4 117.8h0M118.7 133.6h0M116.9 141.5h0M135.0 122.6h0M119.5 141.6h0M122.8 132.2h0M120.5 132.9h0M121.9 141.3h0M118.0 110.8h0M118.3 140.4h0M117.7 128.4h0M118.8 108.5h0M131.9 115.2h0M118.8 136.5h0M121.0 123.3h0M117.0 116.9h0M123.0 136.8h0M129.5 138.8h0M122.9 142.3h0M123.5 134.1h0M120.0 112.0h0M121.3 130.7h0M119.8 122.8h0M131.1 100.0h0M117.6 131.6h0M131.8 112.7h0M119.8 122.5h0M127.7 119.3h0M116.7 84.9h0M121.1 91.3h0M116.9 87.3h0" stroke="#fc8d62" stroke-width="1.80" stroke-linecap="round" fill="none"/>
<line x1="51.60" y1="9.50" x2="51.60" y2="196.65" stroke="#333" stroke-width="0.75"/>
<line x1="51.25" y1="196.30" x2="184.30" y2="196.30" stroke="#333" stroke-width="0.75"/>
<line x1="49.60" y1="188.50" x2="51.60" y2="188.50" stroke="#333" stroke-width="0.6"/>
<text x="48.60" y="191.50" font-size="8.3" text-anchor="end" fill="#262626">0</text>
<line x1="49.60" y1="142.50" x2="51.60" y2="142.50" stroke="#333" stroke-width="0.6"/>
<text x="48.60" y="145.50" font-size="8.3" text-anchor="end" fill="#262626">1</text>
<line x1="49.60" y1="96.50" x2="51.60" y2="96.50" stroke="#333" stroke-width="0.6"/>
<text x="48.60" y="99.50" font-size="8.3" text-anchor="end" fill="#262626">2</text>
<line x1="49.60" y1="50.50" x2="51.60" y2="50.50" stroke="#333" stroke-width="0.6"/>
<text x="48.60" y="53.50" font-size="8.3" text-anchor="end" fill="#262626">3</text>
<line x1="78.40" y1="196.30" x2="78.40" y2="198.30" stroke="#333" stroke-width="0.6"/>
<text x="78.40" y="207.00" font-size="8.3" text-anchor="middle" fill="#262626">-2.5</text>
<line x1="109.40" y1="196.30" x2="109.40" y2="198.30" stroke="#333" stroke-width="0.6"/>
<text x="109.40" y="207.00" font-size="8.3" text-anchor="middle" fill="#262626">0.0</text>
<line x1="140.40" y1="196.30" x2="140.40" y2="198.30" stroke="#333" stroke-width="0.6"/>
<text x="140.40" y="207.00" font-size="8.3" text-anchor="middle" fill="#262626">2.5</text>
<line x1="171.40" y1="196.30" x2="171.40" y2="198.30" stroke="#333" stroke-width="0.6"/>
<text x="171.40" y="207.00" font-size="8.3" text-anchor="middle" fill="#262626">5.0</text>
<text x="129.00" y="217.50" font-size="9.8" font-weight="bold" text-anchor="middle" fill="#000">Log2 G4shortvsG5short</text>
<text x="35.90" y="106.90" font-size="10" font-weight="bold" text-anchor="middle" fill="#000" transform="rotate(-90 35.90 106.90)">-log10 CV</text>
<text x="182.90" y="92.20" font-size="8.3" text-anchor="start" fill="#000">Regulated Type</text>
<path d="M188.5 101.4h0" stroke="#66c2a5" stroke-width="1.70" stroke-linecap="round" fill="none"/>
<text x="196.40" y="103.50" font-size="8.3" text-anchor="start" fill="#000">Down</text>
<path d="M188.5 111.8h0" stroke="#bebebe" stroke-width="1.70" stroke-linecap="round" fill="none"/>
<text x="196.40" y="114.50" font-size="8.3" text-anchor="start" fill="#000">None</text>
<path d="M188.5 121.6h0" stroke="#fc8d62" stroke-width="1.70" stroke-linecap="round" fill="none"/>
<text x="196.40" y="125.30" font-size="8.3" text-anchor="start" fill="#000">Up</text>
<path d="M106.7 531.4h0M107.6 566.3h0M103.4 608.1h0M109.7 532.0h0M110.4 520.6h0M105.9 565.7h0M108.5 552.8h0M107.9 596.4h0M109.1 582.8h0M113.9 562.5h0M101.5 537.3h0M104.1 571.5h0M119.3 585.9h0M100.7 543.2h0M107.3 566.3h0M110.9 569.6h0M111.0 545.9h0M107.4 547.2h0M102.4 560.4h0M114.1 604.4h0M105.4 563.8h0M113.3 555.6h0M108.7 604.0h0M105.7 545.2h0M107.7 614.6h0M104.1 592.1h0M112.9 562.7h0M112.1 588.2h0M115.8 528.1h0M109.4 586.0h0M116.0 580.1h0M106.1 593.6h0M107.2 537.8h0M107.7 584.7h0M106.5 527.6h0M111.5 572.9h0M100.7 586.5h0M112.8 559.2h0M104.9 559.2h0M115.0 529.8h0M108.8 542.2h0M112.6 560.7h0M106.3 575.5h0M109.9 545.9h0M112.7 543.3h0M114.3 573.6h0M115.5 597.2h0M104.5 567.6h0M110.4 521.6h0M106.7 525.2h0M105.9 579.8h0M110.6 549.7h0M110.5 619.6h0M111.6 520.8h0M112.1 553.9h0M104.2 603.0h0M114.2 530.8h0M112.1 551.5h0M101.8 556.3h0M104.4 567.7h0M118.1 523.9h0M114.0 563.1h0M101.6 616.5h0M105.1 572.0h0M105.3 523.6h0M113.8 532.2h0M112.8 561.9h0M113.5 571.2h0M109.9 546.9h0M108.2 560.2h0M102.8 550.3h0M103.0 552.3h0M117.1 603.3h0M106.7 567.3h0M112.4 520.3h0M104.3 607.0h0M109.5 517.8h0M103.3 545.9h0M110.8 555.7h0M108.0 596.1h0M114.9 598.9h0M104.1 567.0h0M116.6 544.5h0M105.5 549.8h0M115.1 560.3h0M99.0 579.2h0M107.7 539.1h0M109.9 531.6h0M110.8 598.3h0M112.1 600.0h0M114.7 555.9h0M110.9 609.7h0M113.2 572.1h0M112.3 581.1h0M115.7 574.9h0M110.5 577.5h0M105.6 591.9h0M103.0 558.0h0M116.0 546.4h0M109.2 601.1h0M114.2 530.3h0M113.0 606.5h0M111.3 585.3h0M105.9 534.2h0M117.4 580.4h0M105.9 571.8h0M99.4 589.3h0M112.5 535.7h0M108.7 538.4h0M110.3 524.2h0M106.1 611.0h0M108.1 570.2h0M111.9 609.6h0M114.9 537.4h0M108.3 608.5h0M114.5 535.8h0M107.1 542.5h0M104.3 553.8h0M108.3 610.4h0M106.3 530.4h0M112.8 542.4h0M119.5 588.4h0M111.2 522.3h0M102.2 561.6h0M109.8 604.3h0M115.4 601.0h0M110.8 588.4h0M91.7 592.7h0M107.5 543.9h0M105.9 531.6h0M103.7 564.0h0M112.6 539.8h0M107.8 527.2h0M106.1 538.1h0M110.8 580.5h0M122.2 611.3h0M113.6 521.0h0M101.5 586.4h0M109.2 612.2h0M109.5 576.4h0M119.3 574.3h0M110.3 539.2h0M124.0 604.3h0M112.2 519.6h0M107.4 526.9h0M117.2 532.1h0M114.4 581.3h0M110.3 558.8h0M111.2 595.0h0M112.8 591.1h0M103.4 574.1h0M112.9 520.3h0M114.9 567.4h0M110.3 545.5h0M107.4 568.8h0M107.6 530.2h0M103.3 556.7h0M109.4 530.2h0M122.1 592.6h0M130.5 589.0h0M110.8 620.8h0M114.3 533.0h0M121.8 597.3h0M113.7 594.9h0M110.7 564.6h0M108.6 551.1h0M114.4 585.5h0M106.8 584.0h0M100.6 616.3h0M102.5 555.0h0M103.9 599.4h0M108.1 550.9h0M107.6 557.6h0M110.5 541.6h0M110.5 542.7h0M110.0 521.0h0M114.3 563.5h0M108.8 528.3h0M115.8 572.2h0M121.6 595.6h0M112.2 608.8h0M115.2 528.1h0M101.9 606.2h0M113.8 543.5h0M102.7 572.2h0M110.1 568.9h0M110.5 530.6h0M103.5 568.7h0M111.6 593.6h0M109.1 559.1h0M107.6 621.6h0M115.5 566.6h0M109.1 594.6h0M114.1 579.5h0M107.2 591.8h0M102.1 567.4h0M112.8 577.4h0M112.0 566.1h0M112.0 559.1h0M108.9 520.2h0M110.3 582.3h0M109.0 519.9h0M106.3 533.0h0M105.1 562.5h0M105.6 549.1h0M111.3 573.7h0M115.0 562.0h0M112.6 549.4h0M105.6 606.0h0M98.4 583.5h0M111.5 564.9h0M108.9 544.3h0M109.6 586.7h0M107.8 535.6h0M103.6 562.2h0M110.3 582.1h0M109.3 560.1h0M117.0 604.6h0M111.7 599.1h0M109.0 588.9h0M113.2 558.2h0M110.1 579.0h0M103.0 591.5h0M113.5 579.0h0M111.5 553.3h0M110.1 532.7h0M90.6 612.4h0M110.8 534.7h0M111.6 550.2h0M115.7 553.2h0M106.2 582.5h0M107.8 547.4h0M110.2 531.7h0M112.7 543.4h0M114.6 572.6h0M110.6 579.3h0M120.8 593.5h0M114.0 566.8h0M109.2 577.7h0M110.3 566.1h0M104.7 600.2h0M109.6 518.3h0M110.4 568.1h0M115.6 550.6h0M108.9 531.9h0M112.7 575.9h0M118.7 537.8h0M103.7 566.8h0M125.3 603.1h0M110.6 541.1h0M114.9 589.9h0M107.7 560.2h0M118.7 558.1h0M105.9 549.7h0M110.7 577.5h0M114.9 566.7h0M113.8 586.1h0M119.1 599.4h0M115.2 561.4h0M106.8 544.3h0M117.6 561.9h0M115.8 560.8h0M114.9 530.4h0M98.0 595.1h0M119.5 599.8h0M107.1 555.7h0M110.1 525.0h0M113.3 581.3h0M105.3 543.0h0M106.8 610.3h0M114.9 568.1h0M105.3 533.4h0M96.4 618.7h0M107.5 559.9h0M112.8 617.1h0M101.6 591.2h0M109.4 556.7h0M107.1 577.1h0M112.7 550.0h0M110.6 527.3h0M108.7 576.5h0M115.8 566.5h0M112.7 564.8h0M109.6 549.3h0M108.3 564.5h0M114.9 596.2h0M104.3 580.9h0M112.1 617.0h0M106.2 586.5h0M95.7 586.7h0M112.6 549.5h0M113.8 592.7h0M112.8 608.4h0M112.4 601.5h0M110.6 565.3h0M107.8 603.3h0M111.8 606.9h0M111.7 560.2h0M112.4 567.9h0M110.3 536.7h0M106.5 573.2h0M114.7 551.1h0M109.6 530.6h0M111.5 589.3h0M111.5 572.7h0M111.3 538.9h0M115.0 541.9h0M103.9 574.2h0M102.0 578.6h0M112.4 619.3h0M107.6 529.0h0M111.2 540.9h0M105.1 579.0h0M106.2 566.5h0M112.1 569.3h0M112.1 567.1h0M89.6 587.8h0M113.6 603.1h0M116.4 596.5h0M106.3 581.6h0M109.0 576.3h0M116.1 573.0h0M113.8 567.5h0M100.4 626.3h0M114.3 582.8h0M107.5 582.9h0M111.2 572.5h0M111.8 549.3h0M98.6 579.9h0M108.0 550.3h0M109.6 581.3h0M106.0 527.2h0M112.9 573.0h0M103.9 586.1h0M113.2 556.7h0M102.5 604.3h0M111.3 547.9h0M115.7 533.4h0M113.6 536.1h0M110.8 606.9h0M108.1 583.5h0M109.6 521.3h0M108.8 565.6h0M113.8 523.7h0M106.8 531.4h0M112.4 564.3h0M107.9 578.2h0M113.0 590.3h0M116.3 557.3h0M111.0 602.5h0M119.4 601.3h0M102.9 568.5h0M110.5 609.9h0M122.3 580.1h0M110.9 573.8h0M110.6 542.5h0M104.2 601.0h0M111.1 590.6h0M108.7 524.6h0M116.4 588.5h0M115.4 533.7h0M108.1 548.7h0M107.6 600.8h0M112.3 604.9h0M110.5 582.1h0M113.9 526.2h0M109.4 555.0h0M112.8 558.5h0M108.4 524.2h0M105.8 595.8h0M109.9 534.9h0M101.7 606.8h0M108.4 546.4h0M111.3 609.6h0M109.5 588.6h0M104.0 544.4h0M106.7 567.4h0M104.0 569.4h0M108.8 534.5h0M113.8 587.4h0M107.2 570.5h0M119.7 580.4h0M115.6 579.5h0M109.6 572.8h0M106.3 594.7h0M113.0 605.0h0M104.2 590.2h0M109.0 563.1h0M108.7 560.1h0M105.0 530.8h0M117.9 589.7h0M115.0 565.5h0M108.7 582.7h0M101.8 603.2h0M112.3 588.1h0M112.0 599.6h0M109.0 524.5h0M112.0 519.9h0M109.8 581.0h0M110.2 611.7h0M107.5 528.5h0M113.0 605.2h0M102.6 566.4h0M105.7 571.6h0M134.5 592.3h0M105.8 580.8h0M110.3 565.8h0M106.1 597.5h0M112.8 544.3h0M111.7 576.0h0M111.5 534.5h0M109.5 528.6h0M103.7 548.4h0M129.4 591.4h0M95.6 602.7h0M104.8 603.3h0M111.2 602.5h0M105.1 566.5h0M110.0 605.3h0M110.3 586.2h0M108.4 559.5h0M115.1 593.5h0M111.1 519.8h0M107.9 606.9h0M106.3 572.6h0M116.4 583.7h0M109.6 531.4h0M116.9 575.7h0M102.0 555.7h0M104.5 529.1h0M112.6 609.9h0M93.4 591.4h0M118.1 565.1h0M105.9 612.8h0M109.3 527.7h0M110.2 581.3h0M104.4 584.8h0M115.1 562.9h0M112.3 546.9h0M113.2 523.5h0M111.2 538.9h0M107.1 581.2h0M111.2 588.8h0M109.5 580.6h0M116.0 530.5h0M110.4 571.7h0M107.2 611.3h0M105.8 575.4h0M99.1 606.6h0M110.2 548.1h0M103.8 569.7h0M108.2 575.7h0M114.9 535.5h0M110.6 538.7h0M148.6 602.2h0M104.7 563.8h0M111.1 593.8h0M113.1 549.3h0M111.9 526.5h0M108.8 554.5h0M102.4 582.4h0M109.3 576.7h0M116.1 573.5h0M112.9 541.0h0M110.8 544.6h0M131.5 598.3h0M113.1 561.2h0M110.8 560.8h0M115.0 527.6h0M105.5 541.1h0M107.3 522.8h0M109.1 528.4h0M108.5 557.4h0M102.8 610.1h0M105.3 568.5h0M113.4 551.3h0M117.2 561.5h0M111.1 519.9h0M108.7 525.2h0M123.0 612.2h0M114.6 557.3h0M113.2 521.2h0M108.2 519.3h0M111.8 597.7h0M110.0 610.6h0M114.3 560.7h0M108.3 603.7h0M107.8 545.6h0M99.4 603.2h0M103.5 616.4h0M103.6 567.9h0M108.2 557.7h0M108.4 522.6h0M108.5 619.2h0M109.6 551.6h0M105.5 537.9h0M115.7 586.0h0M109.2 547.8h0M109.5 526.1h0M106.9 596.4h0M111.5 547.0h0M108.4 551.0h0M102.9 563.4h0M107.8 536.7h0M113.7 523.8h0M111.5 540.3h0M107.4 553.5h0M104.2 579.2h0M114.6 532.0h0M115.1 590.9h0M96.7 591.4h0M107.8 546.1h0M107.2 576.7h0M107.5 608.3h0M108.6 558.0h0M112.1 554.2h0M112.9 541.3h0M106.1 576.1h0M107.6 548.6h0M95.6 581.8h0M117.3 571.7h0M111.6 574.3h0M103.1 579.2h0M118.1 589.3h0M108.3 571.8h0M110.7 600.6h0M106.6 574.7h0M111.7 562.0h0M106.9 552.2h0M108.6 562.9h0M108.8 608.2h0M109.2 565.4h0M113.7 552.0h0M113.4 557.0h0M113.1 593.0h0M107.4 605.0h0M113.6 555.2h0M114.5 594.2h0M102.9 608.6h0M113.8 615.5h0M103.3 551.8h0M123.0 617.8h0M107.3 541.2h0M107.4 591.0h0M111.3 520.5h0M108.1 539.3h0M108.6 581.3h0M114.9 574.8h0M111.3 566.4h0M103.6 528.2h0M102.4 569.9h0M109.5 522.5h0M110.3 572.7h0M107.1 582.7h0M109.8 572.6h0M108.2 521.1h0M104.2 542.3h0M109.9 605.0h0M115.3 587.2h0M112.7 565.8h0M110.7 596.3h0M104.0 543.5h0M114.8 553.2h0M113.6 554.9h0M114.8 570.1h0M99.6 586.2h0M112.0 560.6h0M112.6 575.1h0M106.4 560.9h0M109.5 583.8h0M113.4 567.8h0M110.3 526.7h0M110.2 521.8h0M109.2 539.0h0M110.6 528.7h0M109.2 555.0h0M110.3 585.4h0M108.5 568.3h0M117.7 565.1h0M108.3 605.8h0M103.2 523.0h0M106.2 557.7h0M106.2 551.8h0M111.3 524.4h0M109.8 541.3h0M107.8 572.4h0M108.5 580.5h0M106.3 555.5h0M104.9 520.2h0M115.4 524.9h0M111.6 575.7h0M93.3 584.0h0M113.7 558.6h0M104.0 617.0h0M106.0 554.7h0M106.7 572.0h0M104.2 532.3h0M106.7 596.5h0M105.9 564.0h0M105.1 593.8h0M110.2 561.8h0M105.6 590.6h0M105.9 552.7h0M109.2 557.4h0M110.7 580.9h0M111.8 556.6h0M102.8 579.7h0M113.4 531.4h0M112.1 573.4h0M115.8 582.7h0M107.5 529.6h0M114.8 598.0h0M109.5 575.7h0M114.8 596.3h0M114.5 573.5h0M110.6 547.8h0M106.1 564.2h0M113.1 573.3h0M109.9 543.7h0M112.1 569.6h0M104.5 536.6h0M105.3 557.6h0M106.8 553.3h0M107.1 601.3h0M107.8 591.6h0M112.3 571.0h0M107.9 567.6h0M103.7 531.7h0M102.6 515.2h0M112.6 570.9h0M114.1 552.8h0M110.6 567.2h0M109.5 555.8h0M106.5 532.2h0M107.3 601.9h0M113.7 561.5h0M111.6 554.1h0M107.3 607.4h0M110.2 619.4h0M108.9 584.9h0M101.1 575.3h0M124.5 594.2h0M112.8 592.5h0M107.4 532.3h0M109.3 526.2h0M100.2 588.9h0M111.7 552.5h0M106.7 618.7h0M110.7 596.8h0M109.3 595.5h0M124.1 594.0h0M110.8 542.4h0M116.1 602.8h0M109.4 553.9h0M118.0 547.6h0M113.4 595.4h0M107.2 553.8h0M118.2 555.1h0M113.4 561.2h0M107.6 584.9h0M110.4 523.2h0M114.2 535.1h0M109.1 556.9h0M108.4 553.6h0M114.8 579.9h0M100.6 592.8h0M112.8 602.7h0M112.2 583.0h0M107.7 584.4h0M111.4 564.2h0M113.2 574.8h0M106.2 544.0h0M109.7 596.6h0M112.8 600.8h0M110.8 572.8h0M110.2 551.3h0M89.5 585.8h0M112.1 605.6h0M110.9 572.0h0M110.2 567.4h0M117.0 541.1h0M113.1 571.0h0M109.2 568.3h0M108.1 606.2h0M108.5 545.2h0M111.2 618.0h0M108.0 532.6h0M103.7 526.2h0M107.6 584.0h0M109.4 596.5h0M112.3 558.9h0M113.9 554.3h0M118.3 525.3h0M107.9 587.4h0M103.8 564.0h0M107.8 530.1h0M113.2 591.3h0M106.7 600.1h0M114.5 591.8h0M104.2 556.0h0M104.8 550.1h0M91.9 593.8h0M106.2 533.0h0M115.9 586.3h0M105.9 571.1h0M114.8 595.3h0M112.2 584.9h0M106.2 586.6h0M111.2 586.0h0M113.1 590.6h0M118.2 608.3h0M106.2 559.7h0M110.4 552.3h0M106.5 575.6h0M111.5 521.9h0M111.3 557.0h0M105.9 538.4h0M112.5 569.7h0M108.7 572.0h0M103.6 591.3h0M103.9 561.7h0M106.1 623.6h0M112.7 527.6h0M116.4 537.1h0M100.2 589.0h0M118.4 542.5h0M115.6 591.1h0M113.4 587.6h0M108.5 556.5h0M115.6 554.0h0M112.9 601.4h0M109.9 537.5h0M110.3 568.5h0M111.7 590.4h0M111.3 589.1h0M118.3 535.4h0M112.2 569.9h0M111.2 585.3h0M110.7 604.4h0M116.7 574.7h0M109.8 552.7h0M112.0 571.3h0M91.0 608.8h0M117.2 601.3h0M108.4 621.0h0M105.0 548.8h0M108.9 521.1h0M116.9 542.4h0M112.4 543.5h0M137.1 582.4h0M109.9 563.4h0M112.9 562.4h0M108.3 562.1h0M107.8 591.9h0M107.8 549.4h0M108.0 560.9h0M115.7 586.2h0M115.9 519.6h0M102.7 549.6h0M114.5 607.4h0M108.7 553.6h0M104.1 588.4h0M111.1 601.4h0M107.4 590.9h0M104.7 563.5h0M111.9 539.3h0M111.8 522.2h0M108.4 557.3h0M106.7 617.4h0M113.3 550.3h0M112.8 590.2h0M107.7 597.2h0M112.2 577.3h0M107.8 549.3h0M108.5 534.6h0M119.3 536.5h0M112.2 557.2h0M110.5 573.9h0M101.6 565.5h0M122.6 581.9h0M107.4 559.3h0M111.7 580.5h0M106.8 581.6h0M104.5 528.3h0M117.1 570.4h0M79.9 604.3h0M115.8 570.6h0M107.4 573.3h0M109.8 539.1h0M110.4 527.7h0M111.7 549.1h0M113.7 605.9h0M106.1 568.8h0M102.3 567.6h0M109.6 573.6h0M103.8 531.2h0M110.4 550.6h0M114.4 549.6h0M107.7 543.4h0M114.6 548.3h0M132.1 602.4h0M100.6 588.7h0M113.8 541.5h0M107.9 552.6h0M102.8 591.9h0M112.5 583.2h0M110.6 565.9h0M108.0 570.1h0M109.7 598.4h0M112.7 522.7h0M114.7 561.6h0M103.6 554.6h0M118.9 568.7h0M107.4 564.4h0M112.7 533.4h0M104.3 520.9h0M110.4 605.3h0M104.4 535.2h0M107.7 556.9h0M116.5 569.5h0M107.9 557.8h0M122.2 590.6h0M106.6 595.5h0M119.7 588.1h0M113.0 525.5h0M113.9 604.8h0M113.2 617.0h0M106.5 582.3h0M105.7 544.7h0M116.7 530.1h0M108.5 582.4h0M111.6 612.0h0M103.9 536.8h0M112.0 613.4h0M102.5 558.5h0M116.3 541.2h0M99.7 596.4h0M117.5 555.9h0M116.9 543.1h0M117.7 577.0h0M122.7 593.1h0M110.9 530.9h0M101.7 580.9h0M110.1 587.9h0M111.1 527.5h0M128.9 593.4h0M98.8 591.6h0M107.9 558.9h0M113.5 561.2h0M107.8 589.3h0M106.4 545.3h0M114.2 521.8h0M116.9 544.7h0M108.9 574.0h0M115.5 619.7h0M125.9 620.6h0M108.9 588.6h0M106.8 545.1h0M110.6 549.8h0M112.3 566.2h0M113.1 575.3h0M112.3 586.1h0M110.8 600.7h0M109.8 525.1h0M108.6 543.3h0M104.2 588.7h0M104.7 533.5h0M114.9 577.3h0M106.1 536.8h0M105.8 546.8h0M103.1 577.6h0M109.9 575.8h0M109.5 544.8h0M114.6 576.1h0M109.1 554.7h0M116.1 585.6h0M105.1 519.5h0M103.7 541.9h0M108.4 540.5h0M103.2 572.9h0M102.6 584.6h0M107.4 587.5h0M113.5 540.8h0M113.6 575.4h0M102.1 520.7h0M108.6 558.1h0M109.1 586.0h0M96.2 590.8h0M113.9 520.8h0M110.1 560.2h0M110.6 615.1h0M108.9 563.8h0M103.8 573.0h0M113.0 586.1h0M112.7 541.2h0M108.8 590.3h0M110.7 540.7h0M118.9 556.0h0M111.1 563.0h0M109.0 539.7h0M118.1 570.8h0M111.5 560.0h0M112.8 586.2h0M107.1 536.2h0M105.5 591.1h0M112.4 563.5h0M109.7 526.6h0M111.3 587.3h0M106.5 560.3h0M106.4 516.0h0M109.6 552.2h0M113.7 558.7h0M116.6 533.6h0M114.8 588.7h0M109.5 574.0h0M112.4 548.4h0M94.6 593.8h0M110.9 524.1h0M106.9 570.9h0M100.6 559.4h0M104.9 520.1h0M114.9 540.0h0M113.6 524.4h0M114.9 573.0h0M104.4 531.8h0M113.6 585.3h0M111.7 563.2h0M115.6 573.9h0M109.4 519.9h0M103.7 599.7h0M106.3 570.2h0M107.7 530.0h0M116.7 599.4h0M106.3 524.4h0M113.7 549.9h0M107.1 585.7h0M103.3 556.5h0M110.4 559.3h0M113.9 554.1h0M113.5 574.1h0M101.9 582.7h0M105.4 557.2h0M109.0 536.3h0M109.9 561.3h0M106.7 552.0h0M106.8 615.1h0M127.3 583.3h0M125.7 588.0h0M115.9 561.9h0M114.3 561.2h0M106.4 561.2h0M109.5 553.7h0M112.0 604.3h0M105.3 552.9h0M92.9 605.3h0M115.1 562.1h0M109.8 543.8h0M105.1 539.9h0M108.0 584.6h0M108.0 537.7h0M108.4 520.1h0M107.1 537.7h0M112.5 545.2h0M106.2 598.4h0M115.0 571.9h0M109.1 532.0h0M118.7 552.6h0M113.3 549.2h0M104.6 609.9h0M113.0 523.1h0M104.4 550.6h0M111.3 575.1h0M107.7 523.0h0M101.1 532.2h0M110.7 566.5h0M114.4 563.1h0M110.8 546.3h0M111.7 563.2h0M108.4 606.3h0M105.0 567.2h0M113.8 532.1h0M105.7 558.4h0M110.9 543.4h0M110.5 577.0h0M111.8 555.7h0M112.6 527.0h0M112.0 613.2h0M106.4 592.7h0M111.7 536.8h0M106.7 611.1h0M116.6 542.5h0M111.5 601.8h0M108.6 569.4h0M111.0 626.1h0M113.3 528.0h0M118.2 524.8h0M114.1 580.7h0M106.0 593.0h0M110.9 583.0h0M110.8 548.1h0M103.7 582.5h0M104.8 539.1h0M106.9 595.4h0M113.0 525.8h0M108.8 551.7h0M110.1 576.6h0M106.4 528.6h0M112.1 567.8h0M103.3 562.7h0M111.4 559.2h0M108.4 577.0h0M105.7 554.6h0M114.0 531.6h0M107.5 539.4h0M113.0 599.3h0M107.4 600.0h0M86.5 587.5h0M106.4 520.3h0M112.4 560.4h0M104.0 529.9h0M107.5 560.3h0M103.8 529.4h0M98.7 596.3h0M102.9 567.2h0M109.8 552.7h0M107.5 568.3h0M114.1 604.3h0M112.3 534.1h0M106.5 581.2h0M140.2 590.5h0M111.0 599.4h0M117.4 575.1h0M112.7 539.9h0M102.9 625.3h0M110.4 540.0h0M113.0 560.9h0M121.8 588.0h0M110.6 549.3h0M112.3 586.4h0M109.1 540.5h0M112.4 547.4h0M105.8 527.4h0M112.1 529.4h0M106.6 540.6h0M110.9 555.2h0M112.0 606.1h0M110.6 599.9h0M109.1 593.2h0M109.8 569.7h0M105.1 576.7h0M119.9 589.9h0M114.0 550.4h0M107.1 562.2h0M112.2 523.9h0M110.3 621.7h0M110.5 570.5h0M101.0 572.6h0M111.9 522.9h0M109.6 562.5h0M107.7 535.8h0M107.6 539.9h0M95.5 603.8h0M110.9 588.1h0M104.2 575.5h0M110.3 542.1h0M103.2 548.8h0M109.0 525.5h0M111.9 591.3h0M102.9 560.8h0M107.9 592.2h0M101.0 514.0h0M114.8 585.9h0M112.2 603.5h0M101.6 582.7h0M111.3 613.9h0M108.2 566.4h0M105.8 600.6h0M114.6 614.9h0M107.6 541.0h0M110.0 545.4h0M102.9 582.8h0M105.6 539.0h0M104.2 530.7h0M111.2 535.0h0M104.0 563.1h0M118.7 585.6h0M108.0 582.9h0M110.1 549.1h0M124.9 579.6h0M110.7 535.3h0M109.5 541.0h0M106.5 586.0h0M122.1 581.1h0M117.3 553.6h0M112.7 530.4h0M112.5 565.2h0M111.9 515.7h0M107.9 585.2h0M105.3 599.5h0M104.6 605.6h0M109.7 534.0h0M120.0 578.0h0M120.9 581.2h0M105.2 552.3h0M104.0 537.0h0M108.6 549.0h0M103.0 539.8h0M111.4 527.9h0M114.8 568.4h0M116.7 567.1h0M106.7 534.8h0M129.7 592.2h0M113.5 608.2h0M107.1 539.5h0M108.2 540.9h0M111.0 525.6h0M112.8 553.4h0M109.9 562.4h0M107.6 594.7h0M86.2 582.3h0M114.1 544.9h0M112.1 525.6h0M103.5 576.5h0M122.8 596.2h0M114.4 520.3h0M113.3 544.5h0M110.9 524.5h0M104.9 568.8h0M110.5 552.4h0M106.1 587.3h0M107.3 549.3h0M104.2 532.9h0M109.4 568.3h0M110.1 576.7h0M110.7 560.6h0M114.5 608.9h0M112.3 556.3h0M112.1 576.9h0M110.5 585.7h0M110.1 598.1h0M109.9 566.5h0M111.4 541.2h0M118.8 614.8h0M105.0 565.8h0M115.4 584.5h0M114.3 536.9h0M115.7 587.6h0M105.1 546.0h0M112.5 590.3h0M111.3 559.7h0M111.5 560.0h0M113.6 586.9h0M108.6 608.2h0M115.1 549.0h0M107.8 586.7h0M117.3 561.1h0M105.9 564.1h0M112.6 572.5h0M105.2 562.4h0M110.0 613.9h0M107.1 579.5h0M113.9 585.4h0M108.8 593.7h0M116.9 566.5h0M111.7 555.3h0M119.4 592.2h0M108.2 527.9h0M101.1 541.4h0M110.6 558.9h0M118.7 567.2h0M107.8 568.7h0M95.0 607.5h0M101.6 594.5h0M111.5 586.7h0M112.0 596.7h0M112.7 530.1h0M111.3 537.9h0M111.7 550.0h0M103.9 543.1h0M110.0 594.4h0M107.3 556.2h0M111.0 519.9h0M115.3 565.8h0M107.1 574.4h0M110.9 548.8h0M112.6 532.1h0M111.5 558.6h0M108.0 515.5h0M112.2 577.3h0M110.2 545.9h0M118.0 569.1h0M108.5 563.3h0M106.7 554.1h0M110.6 572.1h0M116.5 579.8h0M112.2 545.3h0M104.6 547.2h0M118.2 596.1h0M116.1 578.1h0M114.3 539.7h0M108.5 605.9h0M108.6 586.9h0M101.9 621.3h0M110.5 539.4h0M118.4 561.7h0M107.7 537.4h0M117.8 546.7h0M102.7 587.1h0M113.4 532.6h0M104.0 565.1h0M110.3 573.2h0M113.1 545.9h0M138.6 593.7h0M112.8 610.9h0M114.9 595.5h0M115.4 590.1h0M112.2 545.4h0M118.7 593.2h0M111.5 614.8h0M113.3 591.3h0M118.0 547.7h0M134.1 602.9h0M103.1 537.8h0M105.8 572.0h0M110.5 525.0h0M112.4 587.0h0M111.3 592.9h0M116.2 537.8h0M104.2 584.6h0M113.0 616.3h0M109.3 537.3h0M109.6 602.7h0M112.7 521.2h0M104.1 539.5h0M114.7 523.7h0M115.8 527.7h0M113.8 582.2h0M115.1 525.4h0M111.4 543.6h0M111.5 537.3h0M102.4 544.3h0M112.0 574.3h0M106.6 543.4h0M103.3 585.4h0M111.6 567.4h0M107.3 609.6h0M117.1 592.1h0M112.4 555.5h0M105.2 553.6h0M105.2 600.1h0M118.0 541.6h0M110.5 526.9h0M109.9 564.6h0M105.6 553.6h0M107.4 571.2h0M102.8 594.5h0M113.5 564.2h0M111.0 581.4h0M111.6 522.7h0M116.6 537.7h0M104.7 574.2h0M110.2 553.9h0M110.0 559.9h0M113.5 532.0h0M115.3 590.8h0M122.6 579.8h0M111.4 576.9h0M115.5 535.1h0M112.9 574.9h0M108.8 583.0h0M103.8 591.2h0M109.0 526.3h0M104.9 576.2h0M108.3 548.5h0M105.7 579.3h0M122.2 585.5h0M113.7 580.5h0M113.0 575.1h0M109.2 547.0h0M110.7 552.4h0M104.8 561.7h0M107.6 526.8h0M113.0 535.8h0M105.8 537.0h0M109.9 565.7h0M110.2 539.8h0M109.2 583.0h0M111.1 554.2h0M103.7 538.0h0M106.1 609.2h0M117.9 584.4h0M118.7 548.9h0M108.7 540.9h0M108.1 551.0h0M105.9 588.9h0M114.5 592.2h0M113.2 541.2h0M114.7 530.7h0M108.8 618.8h0M99.7 588.6h0M113.1 532.6h0M107.7 521.8h0M109.3 555.7h0M107.3 582.8h0M105.7 532.0h0M115.3 563.1h0M109.1 612.1h0M107.0 580.7h0M113.9 571.8h0M114.2 554.2h0M110.7 564.5h0M123.1 603.9h0M108.3 520.6h0M101.7 593.3h0M108.5 618.0h0M117.5 577.3h0M105.4 544.8h0M115.8 607.0h0M111.7 590.6h0M113.0 549.6h0M110.8 569.3h0M111.0 571.9h0M113.6 571.2h0M104.7 558.0h0M106.5 591.1h0M113.4 575.5h0M97.0 584.0h0M116.8 577.5h0M114.4 529.3h0M105.1 567.5h0M118.7 557.1h0M115.7 534.0h0M109.6 601.0h0M112.9 584.5h0M104.9 582.0h0M105.9 545.3h0M118.5 540.3h0M98.7 591.8h0M118.6 550.1h0M113.6 523.3h0M120.1 605.5h0M103.9 566.2h0M100.5 555.0h0M114.9 563.2h0M112.2 598.1h0M108.4 554.1h0M109.3 588.1h0M114.8 534.1h0M109.4 550.1h0M108.6 608.9h0M114.4 548.5h0M112.6 551.7h0M111.7 565.6h0M111.7 559.6h0M109.4 546.0h0M105.6 568.8h0M110.6 608.6h0M106.2 577.5h0M103.2 539.0h0M111.6 520.9h0M115.9 550.2h0M110.3 594.4h0M106.8 551.5h0M103.8 578.4h0M106.5 574.8h0M111.7 587.2h0M106.3 563.5h0M107.4 521.4h0M111.5 533.1h0M113.2 571.4h0M111.7 595.0h0M119.0 558.2h0M108.3 584.9h0M115.3 610.6h0M101.6 543.8h0M108.3 550.7h0M117.9 550.2h0M103.9 586.5h0M110.1 569.1h0M112.9 550.1h0M107.8 561.1h0M111.7 539.1h0M119.1 528.2h0M117.4 553.6h0M108.2 539.6h0M107.0 527.9h0M108.3 557.6h0M109.0 599.5h0M106.3 583.1h0M109.6 524.3h0M111.1 591.1h0M101.3 581.0h0M101.9 558.4h0M115.4 593.1h0M112.6 571.6h0M106.1 595.8h0M109.8 545.4h0M112.1 523.0h0M112.1 535.8h0M104.5 540.4h0M110.8 572.6h0M115.6 595.2h0M107.7 604.7h0M114.8 554.2h0M113.1 561.4h0M116.2 582.8h0M107.8 591.4h0M115.8 561.5h0M105.2 592.9h0M111.0 622.5h0M120.3 616.7h0M108.3 544.3h0M111.7 568.6h0M108.0 558.0h0M112.3 586.8h0M106.6 536.0h0M104.5 559.4h0M106.5 521.9h0M113.3 600.9h0M107.5 594.7h0M104.9 586.7h0M115.6 584.3h0M133.6 581.9h0M113.3 584.8h0M112.4 569.5h0M112.1 519.9h0M121.6 591.3h0M100.6 595.2h0M110.8 551.1h0M108.9 522.8h0M105.8 563.3h0M109.3 557.0h0M111.2 604.6h0M103.4 592.3h0M109.0 584.9h0M111.1 614.9h0M117.1 526.7h0M111.4 597.2h0M112.1 590.3h0M116.0 544.6h0M112.8 571.1h0M109.3 542.6h0M118.0 611.2h0M110.1 549.9h0M109.0 571.2h0M119.7 623.0h0M114.4 525.8h0M101.5 552.5h0M110.3 537.9h0M106.5 585.6h0M118.6 611.9h0M112.1 545.3h0M107.4 542.2h0M108.5 572.2h0M108.8 528.1h0M107.0 549.3h0M112.7 521.6h0M126.6 590.4h0M108.7 559.2h0M107.0 533.2h0M112.5 551.6h0M115.5 529.9h0M109.6 546.5h0M108.3 526.3h0M118.4 601.7h0M117.8 527.6h0M97.4 599.0h0M104.9 583.0h0M114.1 600.6h0M106.9 613.6h0M116.4 556.5h0M117.0 582.4h0M117.8 526.5h0M124.5 579.9h0M110.6 578.8h0M110.7 575.3h0M110.3 546.2h0M113.2 587.8h0M114.8 528.0h0M125.1 613.0h0M112.5 563.5h0M114.9 537.1h0M118.0 523.0h0M105.2 585.3h0M102.5 535.2h0M109.4 529.7h0M111.8 560.1h0M94.5 598.3h0M115.4 555.2h0M109.4 547.0h0M107.4 614.5h0M108.8 590.2h0M114.6 544.0h0M96.7 597.1h0M119.3 572.5h0M107.7 599.1h0M107.9 540.4h0M115.2 585.1h0M110.2 571.7h0M106.3 596.1h0M110.8 579.2h0M112.9 563.4h0M109.4 560.1h0M105.4 544.9h0M108.1 560.8h0M112.3 566.5h0M118.4 544.4h0M107.4 551.5h0M105.0 582.7h0M93.9 582.0h0M112.0 549.6h0M114.9 536.0h0M113.2 566.2h0M108.7 539.7h0M105.8 581.7h0M104.3 554.7h0M107.3 590.4h0M116.9 525.6h0M113.6 522.8h0M115.2 561.8h0M98.7 582.5h0M114.8 579.9h0M112.4 589.4h0M115.3 569.4h0M117.9 522.2h0M112.4 574.3h0M109.4 565.4h0M112.4 608.2h0M107.1 588.5h0M115.3 548.1h0M108.6 590.2h0M109.6 531.7h0M108.4 580.0h0M114.4 541.2h0M112.6 546.5h0M110.5 595.2h0M110.7 538.8h0M113.7 544.5h0M111.1 604.2h0M113.0 564.9h0M109.9 548.0h0M117.1 563.9h0M106.7 601.7h0M110.4 536.0h0M116.7 596.8h0M114.4 609.1h0M115.5 551.7h0M109.8 568.9h0M114.3 554.9h0M102.8 571.6h0M114.4 521.0h0M115.2 558.4h0M112.0 616.8h0M111.4 607.4h0M115.6 591.8h0M103.5 600.6h0M110.8 596.5h0M116.0 576.2h0M122.7 585.2h0M104.2 525.8h0M109.6 599.1h0M110.1 592.0h0M109.2 558.4h0M109.0 553.2h0M115.1 595.1h0M117.1 526.7h0M113.4 604.7h0M114.9 610.7h0M104.1 549.2h0M110.3 611.4h0M111.0 566.4h0M117.1 522.3h0M110.9 571.9h0M112.4 570.3h0M116.6 535.7h0M108.0 567.2h0M121.1 595.6h0M108.0 545.4h0M107.2 600.6h0M102.8 578.4h0M114.7 617.9h0M115.6 539.7h0M106.8 595.3h0M113.7 603.0h0M112.2 558.7h0M111.0 546.9h0M128.4 608.4h0M112.7 572.4h0M107.6 542.9h0M115.7 556.4h0M109.7 578.7h0M111.5 601.4h0M108.3 571.7h0M104.6 601.6h0M119.0 582.4h0M111.0 521.7h0M108.2 571.8h0M118.6 528.4h0M110.6 573.9h0M113.9 531.8h0M109.8 545.8h0M102.7 528.9h0M110.0 537.2h0M122.5 597.2h0M110.3 589.2h0M116.1 559.6h0M113.9 563.2h0M112.2 589.4h0M110.9 552.0h0M113.8 566.6h0M110.0 623.1h0M106.1 582.1h0M115.1 599.5h0M107.6 598.2h0M111.1 601.6h0M113.1 540.8h0M113.0 532.8h0M116.7 578.4h0M108.3 540.9h0M104.1 549.9h0M104.5 543.6h0M110.9 606.9h0M114.6 604.0h0M116.4 531.8h0M103.1 576.2h0M108.8 559.0h0M118.3 583.2h0M97.6 581.0h0M117.8 524.3h0M108.9 517.1h0M111.3 581.6h0M114.7 586.6h0M108.6 596.4h0M99.9 607.5h0M104.5 516.3h0M113.2 609.7h0M101.7 577.1h0M115.4 526.7h0M116.3 535.6h0M112.3 586.0h0M103.5 551.9h0M109.4 608.0h0M111.7 578.2h0M109.7 531.9h0M106.2 535.0h0M117.1 597.5h0M101.1 585.8h0M114.0 531.9h0M107.7 593.3h0M111.2 591.4h0M113.1 606.2h0M90.2 602.7h0M105.5 566.6h0M103.4 535.8h0M108.1 576.0h0M112.1 583.2h0M110.0 566.4h0M111.0 534.8h0M114.4 532.6h0M113.4 572.5h0M107.1 515.0h0M111.6 550.5h0M112.4 530.9h0M116.5 555.5h0M114.9 557.9h0M107.5 580.1h0M116.6 585.1h0M109.5 542.6h0M112.3 547.4h0M110.3 589.0h0M115.6 525.2h0M110.6 550.6h0M114.6 578.4h0M115.6 577.2h0M107.4 523.9h0M111.9 527.6h0M105.5 572.4h0M106.5 532.9h0M111.9 540.7h0M112.3 568.9h0M106.6 584.8h0M110.1 536.3h0M108.5 535.2h0M115.2 586.0h0M108.2 567.5h0M116.4 567.3h0M117.5 537.9h0M108.0 547.9h0M100.9 555.9h0M113.1 566.0h0M104.7 586.2h0M109.9 573.6h0M126.9 590.6h0M108.9 609.1h0M106.6 538.4h0M110.7 577.6h0M108.5 615.2h0M115.2 536.2h0M111.2 531.2h0M110.0 588.4h0M111.7 539.3h0M108.0 524.4h0M116.3 578.1h0M113.5 577.1h0M110.0 532.0h0M119.7 602.3h0M113.4 568.9h0M111.4 528.5h0M106.1 584.8h0M120.4 593.4h0M102.1 590.2h0M116.8 573.3h0M112.3 542.1h0M93.6 583.9h0M94.2 584.8h0M109.2 605.9h0M110.6 600.7h0M112.0 603.2h0M109.8 536.5h0M104.5 543.7h0M108.3 559.2h0M118.6 576.9h0M110.2 574.3h0M99.2 595.7h0M108.9 552.2h0M108.1 578.8h0M115.7 559.9h0M111.4 563.1h0M107.0 541.3h0M100.0 580.2h0M105.7 546.7h0M110.4 586.7h0M115.5 574.6h0M116.1 567.0h0M106.5 585.9h0M111.2 542.9h0M112.0 547.6h0M110.9 598.3h0M112.3 568.8h0M107.7 558.6h0M113.6 556.2h0M102.6 588.9h0M109.6 569.1h0M112.2 567.3h0M106.8 563.2h0M113.9 596.6h0M106.5 577.1h0M118.0 554.6h0M108.4 596.8h0M111.2 523.9h0M116.7 563.0h0M104.0 552.9h0M115.6 570.3h0M113.8 533.1h0M105.1 528.0h0M121.7 602.5h0M110.4 562.2h0M107.1 549.3h0M108.3 568.1h0M104.2 572.1h0M117.2 548.8h0M109.3 559.7h0M108.4 547.5h0M109.9 540.9h0M113.4 554.9h0M112.9 585.4h0M117.7 554.4h0M107.3 553.0h0M97.1 588.1h0M108.7 523.9h0M105.8 582.3h0M109.3 594.6h0M114.2 536.3h0M111.4 579.5h0M112.5 590.1h0M105.9 575.0h0M112.0 556.0h0M108.6 597.7h0M109.6 535.2h0M108.6 596.2h0M112.6 536.4h0M111.6 576.8h0M109.3 594.8h0M109.3 537.0h0M106.4 531.5h0M109.1 565.0h0M115.1 557.5h0M106.1 595.8h0M106.1 539.2h0M118.9 562.1h0M114.1 555.6h0M121.2 585.0h0M112.3 600.9h0M104.1 531.9h0M111.1 545.4h0M107.8 519.8h0M111.0 593.9h0M118.8 582.5h0M115.6 565.0h0M109.7 521.4h0M109.5 542.6h0M113.5 604.1h0M113.3 576.0h0M104.6 583.2h0M106.8 528.4h0M113.2 592.7h0M114.3 575.8h0M102.7 549.3h0M114.4 561.2h0M126.0 587.3h0M115.5 606.8h0M107.4 567.7h0M115.6 522.4h0M113.9 618.9h0M115.2 568.5h0M111.3 544.0h0M116.8 564.6h0M105.8 541.5h0M108.3 525.5h0M118.8 522.2h0M109.7 548.0h0M114.8 531.5h0M111.5 581.9h0M94.9 597.0h0M110.9 528.9h0M110.8 530.3h0M107.4 615.4h0M108.5 560.6h0M112.9 528.7h0M106.7 536.2h0M108.5 591.9h0M102.9 544.4h0M108.5 576.3h0M110.2 606.9h0M118.0 598.6h0M116.8 595.7h0M102.3 581.6h0M102.5 582.7h0M110.6 535.6h0M104.2 587.2h0M115.7 529.9h0M115.1 575.0h0M114.3 579.8h0M106.8 595.8h0M117.2 555.0h0M112.2 604.0h0M113.2 562.6h0M116.1 546.0h0M103.3 577.4h0M112.4 524.4h0M109.0 599.1h0M111.6 597.5h0M114.0 592.0h0M108.1 584.1h0M117.2 569.6h0M108.9 568.0h0M110.2 575.5h0M110.3 544.6h0M107.2 561.6h0M106.9 594.0h0M112.7 575.2h0M106.7 574.4h0M105.0 546.6h0M118.2 544.9h0M107.4 590.2h0M107.8 530.6h0M107.2 539.4h0M118.5 556.7h0M113.3 579.8h0M106.9 552.4h0M109.4 595.1h0M113.7 620.2h0M108.6 546.6h0M100.7 588.8h0M105.3 569.5h0M109.2 569.0h0M112.8 531.0h0M108.9 574.3h0M113.7 539.3h0M115.9 554.3h0M116.6 600.5h0M102.7 554.6h0M113.8 597.0h0M102.6 551.3h0M101.1 554.4h0M108.9 569.4h0M124.9 584.4h0M104.2 600.8h0M109.3 521.7h0M110.3 531.6h0M108.6 521.9h0M106.8 623.7h0M107.2 590.9h0M110.4 545.0h0M104.5 582.9h0M105.0 573.5h0M115.5 619.5h0M110.1 537.1h0M110.6 572.5h0M107.9 541.0h0M110.5 532.9h0M108.9 530.9h0M108.7 605.3h0M113.2 563.2h0M113.3 569.7h0M110.0 567.2h0M97.9 601.5h0M113.6 551.5h0M116.5 606.8h0M112.4 574.2h0M109.9 582.8h0M105.1 541.0h0M108.4 621.0h0M112.2 585.0h0M108.0 525.6h0M105.8 613.9h0M107.2 616.7h0M122.1 584.5h0M114.5 552.7h0M104.7 602.1h0M111.2 569.0h0M106.3 593.7h0M106.5 532.6h0M104.9 561.9h0M106.3 567.7h0M112.4 593.6h0M105.9 608.0h0M113.6 559.0h0M113.3 602.0h0M108.8 554.8h0M116.4 611.4h0M115.3 608.4h0M108.7 557.9h0M117.3 580.3h0M105.8 579.0h0M111.5 549.3h0M112.3 594.2h0M121.8 595.8h0M114.3 569.5h0M105.2 546.0h0M111.6 527.7h0M110.3 573.9h0M106.7 579.2h0M113.8 564.3h0M114.3 591.5h0M112.1 550.7h0M103.0 529.0h0M108.4 553.3h0M95.9 581.2h0M109.6 604.6h0M114.2 540.2h0M106.2 595.5h0M105.1 540.4h0M114.6 599.5h0M120.2 588.5h0M107.5 575.2h0M112.4 544.4h0M106.4 544.1h0M96.0 582.9h0M115.1 570.6h0M110.0 591.1h0M110.6 547.3h0M117.4 540.4h0M116.1 598.3h0M118.8 604.6h0M104.7 552.4h0M104.5 588.1h0M104.7 577.3h0M106.6 604.9h0M109.9 575.5h0M110.1 567.5h0M112.0 554.7h0M102.5 619.4h0M114.1 586.5h0M110.1 534.9h0M102.6 530.5h0M113.3 577.1h0M82.3 612.7h0M111.5 593.9h0M113.5 520.0h0M114.8 592.7h0M111.7 550.4h0M110.0 533.2h0M109.1 526.9h0M115.0 533.3h0M108.5 562.1h0M99.0 593.0h0M107.5 572.4h0M115.8 539.8h0M104.9 544.5h0M106.7 524.9h0M113.2 563.4h0M108.4 590.2h0M113.9 564.1h0M112.3 553.0h0M109.1 556.7h0M116.3 561.2h0M116.4 563.3h0M110.6 587.6h0M102.7 536.5h0M109.5 524.7h0M106.0 521.7h0M103.5 537.7h0M113.1 570.7h0M115.4 561.1h0M115.4 597.6h0M109.5 597.5h0M105.3 536.4h0M116.7 568.7h0M106.5 590.1h0M103.0 574.9h0M107.6 562.0h0M112.9 574.1h0M107.9 552.7h0M114.4 570.3h0M107.5 545.3h0M106.7 596.2h0M105.9 571.3h0M116.4 553.7h0M104.5 564.2h0M110.7 558.4h0M108.9 582.2h0M112.2 550.7h0M121.8 584.4h0M120.8 590.9h0M113.1 521.6h0M103.1 602.4h0M113.2 559.0h0M114.6 550.5h0M106.9 552.8h0M114.6 542.8h0M121.2 596.4h0M105.1 589.9h0M108.5 562.9h0M113.1 594.1h0M114.3 602.5h0M106.5 584.8h0M112.7 552.0h0M111.0 593.7h0M110.7 576.2h0M108.5 587.8h0M131.3 591.3h0M104.6 587.6h0M114.6 604.2h0M110.3 574.3h0M116.1 538.9h0M103.3 549.9h0M128.0 593.7h0M107.2 535.6h0M112.2 611.8h0M111.6 561.8h0M103.9 599.1h0M111.9 593.8h0M113.6 599.6h0M102.6 579.9h0M108.5 595.5h0M114.6 595.5h0M105.1 534.1h0M103.7 605.5h0M102.9 529.3h0M100.7 573.0h0M107.6 534.7h0M102.7 591.2h0M107.0 560.9h0M105.6 560.9h0M107.2 596.3h0M116.2 531.0h0M117.7 583.8h0M107.6 551.6h0M109.4 553.2h0M110.4 561.5h0M119.3 560.8h0M118.9 604.6h0M106.2 549.6h0M108.3 538.8h0M111.1 585.7h0M112.7 529.5h0M109.7 593.9h0M115.4 550.5h0M111.0 522.9h0M107.1 550.7h0M106.9 567.5h0M110.9 557.3h0M111.2 568.7h0M113.5 524.1h0M110.7 541.6h0M108.3 571.5h0M108.0 577.2h0M108.9 626.9h0M108.3 591.9h0M112.0 564.7h0M109.3 546.8h0M112.0 552.0h0M117.4 541.6h0M105.7 535.6h0M107.5 564.1h0M114.0 580.4h0M110.8 548.9h0M104.8 585.3h0M103.3 536.0h0M114.5 589.6h0M107.4 536.8h0M104.1 527.9h0M117.6 594.7h0M105.5 566.0h0M106.9 586.9h0M108.1 524.0h0M105.0 522.7h0M119.3 555.7h0M112.3 550.6h0M107.8 584.1h0M113.1 557.8h0M113.9 542.6h0M134.7 599.8h0M107.2 588.9h0M117.7 593.7h0M110.0 598.3h0M109.2 541.5h0M116.6 567.5h0M108.9 545.5h0M109.2 563.1h0M101.7 561.3h0M113.4 615.7h0M101.1 586.2h0M117.6 571.0h0M106.8 539.1h0M110.0 516.9h0M118.0 585.7h0M130.7 582.9h0M110.0 535.1h0M110.0 575.6h0M103.4 564.6h0M104.8 540.9h0M111.9 571.8h0M115.8 563.2h0M105.9 538.3h0M109.0 608.6h0M124.1 599.3h0M111.4 591.0h0M131.6 587.0h0M118.2 564.2h0M118.9 545.9h0M111.9 589.7h0M100.6 604.6h0M109.6 581.2h0M115.2 582.4h0M107.2 571.0h0M118.9 522.2h0M102.1 535.0h0M107.8 606.7h0M106.6 543.6h0M107.8 608.7h0M107.8 570.7h0M103.9 571.5h0M110.5 592.0h0M109.7 534.7h0M114.4 560.9h0M112.3 587.3h0M108.4 536.0h0M110.8 560.3h0M111.3 548.9h0M105.5 559.5h0M110.8 577.1h0M113.2 582.2h0M112.8 561.7h0M109.3 574.9h0M108.6 533.6h0M103.2 533.2h0M107.0 593.9h0M112.3 525.3h0M105.8 583.4h0M113.4 562.8h0M103.0 613.8h0M110.6 613.6h0M133.3 590.3h0M109.1 607.1h0M107.8 533.4h0M107.2 543.2h0M107.3 565.9h0M109.1 557.3h0M107.6 538.1h0M107.5 556.8h0M102.9 558.8h0M120.0 585.1h0M110.5 510.5h0M112.2 539.2h0M107.1 601.3h0M108.0 541.2h0M106.9 538.7h0M111.6 602.2h0M119.9 582.1h0M115.1 555.9h0M110.7 520.4h0M115.8 551.9h0M111.7 557.3h0M104.8 556.0h0M105.8 583.5h0M110.5 538.0h0M115.7 566.2h0M110.4 524.6h0M97.2 581.4h0M105.9 550.0h0M109.8 565.9h0M104.2 562.9h0M114.2 570.6h0M101.5 608.5h0M107.8 554.8h0M109.9 564.8h0M107.5 532.0h0M103.8 563.8h0M112.1 575.0h0M112.6 572.4h0M114.7 581.0h0M114.6 610.4h0M92.1 594.7h0M110.5 581.2h0M103.3 567.6h0M111.1 557.0h0M110.6 591.8h0M131.4 613.4h0M105.2 554.0h0M113.9 593.8h0M107.4 610.0h0M110.8 532.0h0M114.6 557.3h0M112.2 595.0h0M112.3 575.1h0M107.4 587.3h0M106.6 574.6h0M105.1 593.4h0M100.9 569.0h0M105.2 571.4h0M111.9 524.5h0M109.8 558.8h0M101.2 554.7h0M115.4 567.7h0M119.2 571.8h0M113.2 577.4h0M115.2 583.1h0M118.8 548.3h0M107.7 525.4h0M105.0 565.2h0M114.5 545.9h0M112.9 589.8h0M117.5 590.8h0M103.4 554.8h0M108.8 571.6h0M106.2 615.3h0M104.2 604.9h0M113.4 527.4h0M112.7 585.9h0M110.6 576.1h0M92.3 622.5h0M115.1 550.6h0M107.4 618.2h0M113.8 564.3h0M113.4 544.3h0M117.1 575.0h0M112.8 571.9h0M105.4 549.5h0M114.7 563.1h0M109.4 565.4h0M103.4 575.4h0M110.8 563.7h0M113.3 561.5h0M108.2 534.4h0M103.1 529.6h0M110.9 565.8h0M118.4 567.5h0M111.7 593.2h0M106.4 551.2h0M110.3 565.2h0M112.1 555.1h0M108.4 541.7h0M107.2 534.3h0M104.9 597.2h0M91.2 599.0h0M104.5 578.3h0M109.2 588.3h0M107.0 575.8h0M110.5 556.5h0M115.2 552.1h0M110.0 553.2h0M116.6 528.6h0M104.9 574.5h0M115.0 545.4h0M112.8 609.4h0M114.4 534.0h0M122.4 610.9h0M104.3 584.7h0M108.7 583.6h0M118.2 577.8h0M106.1 591.6h0M104.7 548.7h0M100.6 538.2h0M111.3 544.1h0M108.9 554.2h0M102.6 518.9h0M105.8 531.4h0M109.9 535.8h0M111.3 562.8h0M116.0 593.3h0M101.1 528.1h0M107.7 534.3h0M104.7 528.0h0M105.8 528.4h0M115.5 568.4h0M113.8 584.6h0M111.7 619.1h0M113.5 571.6h0M103.3 563.9h0M104.5 589.9h0M113.8 599.7h0M119.9 583.5h0M117.4 597.5h0M111.1 566.9h0M115.0 556.6h0M112.3 598.0h0M100.5 526.0h0M103.2 524.5h0M106.0 579.3h0M110.3 533.2h0M96.4 589.4h0M105.9 574.6h0M114.1 529.9h0M99.3 595.6h0M109.9 574.4h0M95.8 594.3h0M113.3 536.1h0M109.3 572.2h0M106.4 608.6h0M108.6 545.3h0M104.4 585.1h0M107.9 522.6h0M104.7 519.4h0M113.4 579.3h0M101.6 588.3h0M110.0 567.5h0M117.3 569.1h0M114.1 529.3h0M107.6 597.5h0M113.9 542.1h0M110.5 531.0h0M115.2 608.1h0M115.2 584.4h0M112.2 528.1h0M116.9 584.4h0M116.3 614.0h0M107.9 523.3h0M102.7 524.8h0M106.4 610.8h0M101.3 602.0h0M108.8 598.1h0M113.5 584.1h0M136.1 604.4h0M109.2 546.8h0M86.9 578.1h0M114.3 596.6h0M107.9 624.0h0M109.3 598.5h0M136.3 613.5h0M109.8 608.3h0M105.0 538.5h0M113.5 557.3h0M105.8 596.6h0M118.7 578.5h0M116.3 547.1h0M112.6 536.9h0M112.5 562.5h0M113.5 558.8h0M106.3 573.0h0M108.6 523.1h0M106.9 576.9h0M108.8 544.0h0M114.8 550.9h0M112.3 588.5h0M120.1 622.6h0M112.8 591.2h0M120.2 584.7h0M111.9 553.6h0M106.8 585.2h0M111.3 532.3h0M113.3 582.9h0M105.9 543.2h0M110.7 576.3h0M119.9 596.6h0M125.7 620.1h0M108.1 577.9h0M114.4 549.6h0M110.6 573.2h0M111.2 606.1h0M102.0 570.3h0M112.1 535.0h0M107.9 571.4h0M108.5 552.0h0M108.2 554.1h0M109.3 552.1h0M117.6 597.3h0M125.1 582.0h0M109.0 572.9h0M108.9 582.2h0M117.5 577.1h0M113.9 558.2h0M119.3 568.2h0M116.5 546.9h0M113.3 552.0h0M109.4 582.4h0M113.4 530.8h0M107.2 575.9h0M108.1 533.7h0M116.7 595.1h0M115.2 537.0h0M106.0 542.6h0M112.1 541.0h0M102.1 537.5h0M106.2 575.8h0M110.5 606.0h0M106.2 610.5h0M106.7 550.9h0M109.8 565.7h0M106.4 551.3h0M113.8 528.9h0M109.5 530.3h0M107.3 543.3h0M105.4 557.2h0M109.7 527.8h0M105.9 600.3h0M113.5 524.0h0M105.1 581.6h0M106.9 575.9h0M113.5 544.1h0M109.4 563.0h0M115.5 562.7h0M107.5 569.7h0M113.3 573.2h0M115.0 563.8h0M108.7 552.2h0M110.7 556.4h0M107.2 590.1h0M114.8 530.9h0M121.6 595.9h0M111.2 550.7h0M117.4 566.4h0M114.5 521.8h0M110.7 549.1h0M94.2 579.3h0M104.1 581.8h0M116.7 564.3h0M109.9 576.4h0M107.3 548.1h0M119.3 575.1h0M113.0 588.4h0M112.0 561.0h0M115.8 569.7h0M115.4 550.2h0M108.3 527.0h0M112.9 608.4h0M115.0 601.0h0M104.4 566.2h0M108.5 571.1h0M113.6 524.2h0M110.0 563.3h0M106.0 593.4h0M104.2 525.3h0M109.4 522.5h0M104.4 573.8h0M105.0 580.0h0M110.9 573.9h0M115.1 556.2h0M118.8 571.4h0M108.7 618.4h0M117.8 576.6h0M110.8 551.6h0M112.7 572.7h0M101.6 594.1h0M112.1 558.7h0M115.5 608.0h0M110.2 534.0h0M116.6 566.4h0M101.6 574.3h0M108.4 551.6h0M109.4 532.6h0M106.2 550.3h0M115.7 566.3h0M108.7 563.7h0M101.3 580.2h0M109.1 521.4h0M109.7 613.1h0M118.1 579.1h0M109.5 615.0h0M112.4 591.6h0M112.8 574.9h0M114.6 579.5h0M109.8 593.7h0M103.7 585.7h0M113.4 551.8h0M110.9 519.0h0M112.3 570.4h0M110.1 563.0h0M111.3 558.4h0M112.0 521.9h0M115.1 534.2h0M112.9 525.6h0M109.4 595.1h0M111.4 563.4h0M109.6 531.4h0M114.5 544.3h0M110.1 576.0h0M107.2 581.0h0M115.0 557.6h0M114.2 530.1h0M109.9 568.6h0M105.4 567.6h0M106.4 616.8h0M111.7 536.7h0M101.7 569.6h0M109.9 531.2h0M111.8 581.2h0M118.0 566.1h0M114.9 596.4h0M111.9 541.2h0M112.9 558.6h0M111.5 594.1h0M110.7 588.5h0M109.9 545.6h0M112.2 579.9h0M115.0 573.8h0M114.9 559.5h0M115.4 542.1h0M115.1 593.6h0M108.4 535.6h0M114.2 581.6h0M111.6 533.3h0M109.0 550.0h0M108.8 542.6h0M117.0 516.6h0M90.7 592.9h0M115.7 543.0h0M108.0 571.0h0M107.7 563.1h0M114.9 555.3h0M113.9 568.3h0M113.0 541.1h0M113.3 559.5h0M104.8 585.9h0M104.3 586.6h0M101.2 572.1h0M113.4 547.4h0M108.5 579.5h0M107.6 602.5h0M115.0 542.8h0M103.9 521.1h0M110.5 593.2h0M112.8 609.3h0M111.4 608.8h0M111.7 568.4h0M102.9 581.3h0M115.5 556.4h0M112.4 551.3h0M104.2 599.4h0M106.6 565.6h0M139.6 583.3h0M110.9 591.5h0M112.4 542.3h0M107.0 521.2h0M116.6 568.7h0M111.7 558.7h0M107.3 537.5h0M107.0 599.7h0M113.9 568.6h0M108.7 556.5h0M109.5 570.3h0M110.7 604.9h0M107.0 529.6h0M117.6 605.9h0M114.2 516.1h0M100.8 533.2h0M98.8 581.7h0M106.5 554.4h0M107.4 598.5h0M102.5 559.4h0M108.7 528.2h0M112.4 572.1h0M111.8 585.0h0M121.7 584.6h0M112.8 607.1h0M125.9 599.1h0M115.0 599.4h0M109.1 546.1h0M110.5 575.5h0M103.9 566.2h0M116.5 549.2h0M110.6 584.1h0M114.8 599.0h0M100.8 552.2h0M108.7 576.7h0M112.9 581.6h0M115.3 520.3h0M111.3 591.6h0M109.6 583.8h0M99.1 607.6h0M100.7 548.9h0M112.1 586.8h0M111.7 563.7h0M113.2 590.7h0M112.2 604.9h0M109.9 546.6h0M117.6 538.4h0M111.7 551.5h0M108.5 550.0h0M113.3 533.3h0M117.7 560.3h0M111.3 558.5h0M114.6 564.3h0M110.4 575.5h0M105.2 591.5h0M100.6 562.4h0M109.9 576.0h0M102.3 568.4h0M105.1 522.2h0M114.3 562.1h0M105.6 569.4h0M109.4 562.3h0M103.3 548.2h0M111.3 573.8h0M90.2 603.3h0M102.3 604.7h0M111.8 533.8h0M105.1 594.5h0M109.8 574.9h0M114.9 563.2h0M115.2 598.3h0M105.9 574.7h0M110.4 573.9h0M104.3 531.0h0M114.4 595.9h0M115.2 563.9h0M113.6 522.0h0M108.8 594.4h0M105.0 597.1h0M109.6 601.4h0M104.8 538.6h0M108.0 533.7h0M105.9 570.9h0M105.5 595.7h0M108.7 539.2h0M105.5 611.2h0M113.1 580.5h0M101.7 545.1h0M118.0 603.1h0M100.7 559.9h0M111.1 589.6h0M107.7 535.8h0M114.2 546.6h0M100.3 592.7h0M102.1 589.1h0M111.4 556.4h0M109.1 561.2h0M108.2 562.7h0M108.4 533.5h0M105.5 570.4h0M106.3 553.0h0M95.8 587.5h0M113.2 591.9h0M114.2 594.0h0M116.2 546.1h0M117.7 593.6h0M109.1 562.6h0M110.4 590.1h0M100.9 560.3h0M106.4 570.0h0M104.7 599.3h0M133.2 582.3h0M103.2 564.9h0M112.6 561.0h0M104.1 574.2h0M116.4 546.4h0M115.7 523.2h0M104.5 582.6h0M106.1 547.9h0M114.8 542.6h0M116.8 564.7h0M119.8 601.2h0M104.3 534.0h0M108.0 540.9h0M112.6 538.6h0M123.4 597.0h0M103.9 566.4h0M110.1 573.5h0M112.2 535.2h0M114.2 592.7h0M115.4 591.8h0M108.5 571.5h0M105.2 604.2h0M110.9 600.6h0M108.8 549.6h0M111.6 585.7h0M111.2 587.0h0M109.0 540.6h0M106.9 550.7h0M110.1 532.3h0M112.1 559.8h0M109.9 564.5h0M111.2 598.4h0M112.0 573.7h0M107.0 601.2h0M108.2 552.5h0M102.7 565.0h0M99.2 589.8h0M110.9 536.6h0M113.0 520.4h0M112.5 565.6h0M106.1 532.6h0M107.0 601.5h0M110.1 535.6h0M113.6 597.9h0M109.9 524.5h0M107.9 548.6h0M111.5 597.4h0M100.5 596.3h0M109.9 562.8h0M112.9 533.1h0M114.5 539.7h0M107.6 541.5h0M112.3 557.4h0M112.2 572.7h0M119.1 563.5h0M110.6 622.0h0M109.5 516.1h0M105.2 556.2h0M112.7 555.5h0M105.8 533.2h0M113.1 581.1h0M115.4 556.5h0M111.2 550.3h0M110.6 582.4h0M84.7 594.5h0M114.8 600.7h0M104.9 583.7h0M115.2 536.4h0M102.3 598.1h0M106.7 541.6h0M111.5 545.6h0M106.6 575.0h0M110.7 532.3h0M108.0 548.0h0M106.2 604.1h0M104.4 580.0h0M110.7 611.3h0M110.7 573.0h0M127.3 580.6h0M112.9 625.6h0M117.4 583.9h0M101.3 530.7h0M129.2 600.4h0M108.5 525.9h0M107.6 543.7h0M114.8 582.1h0M114.9 538.1h0M106.6 555.2h0M93.1 592.8h0M112.3 532.2h0M96.0 579.1h0M117.8 595.7h0M111.4 552.7h0M109.6 598.9h0M97.2 593.6h0M112.2 596.2h0M112.4 535.1h0M105.6 572.5h0M114.9 574.9h0M105.8 589.1h0M116.2 545.6h0M112.7 599.5h0M111.8 531.7h0M110.5 585.3h0M109.5 571.4h0M110.8 544.6h0M103.8 549.1h0M117.1 530.3h0M116.5 569.1h0M113.9 583.6h0M103.0 559.2h0M113.7 569.8h0M101.1 599.0h0M108.0 563.8h0M109.9 570.4h0M113.9 584.2h0M107.1 588.2h0M115.4 577.0h0M110.0 568.5h0M113.6 602.4h0M105.8 592.7h0M119.1 571.7h0M100.9 539.7h0M113.8 581.1h0M113.3 576.8h0M110.4 591.1h0M110.7 553.8h0M109.4 545.8h0M113.6 576.8h0M107.8 547.4h0M111.2 564.2h0M109.0 568.0h0M102.9 535.4h0M114.0 601.1h0M110.7 546.1h0M108.5 572.3h0M109.6 570.0h0M108.7 528.6h0M109.1 549.9h0M111.1 552.9h0M110.7 531.5h0M122.2 609.2h0M123.1 585.0h0M105.7 603.8h0M113.1 571.4h0M104.7 551.0h0M116.7 540.2h0M106.7 521.3h0M114.9 531.3h0M105.8 577.2h0M109.4 575.9h0M118.7 594.5h0M118.2 526.0h0M117.8 541.4h0M107.2 552.1h0M118.3 576.8h0M113.7 549.1h0M105.2 579.5h0M116.7 558.3h0M87.1 608.5h0M109.6 563.3h0M114.7 609.9h0M112.2 594.7h0M113.5 586.7h0M107.9 539.1h0M109.8 545.6h0M116.9 584.1h0M114.5 519.5h0M111.0 598.7h0M107.0 588.5h0M117.6 524.7h0M105.1 561.6h0M110.2 540.2h0M103.1 559.5h0M101.9 588.7h0M104.7 543.8h0M103.1 554.6h0M111.2 521.8h0M111.3 529.1h0M116.6 574.5h0M101.1 554.5h0M114.8 585.4h0M110.1 516.5h0M111.4 577.2h0M106.0 531.5h0M109.6 564.3h0M115.1 548.9h0M115.1 553.0h0M116.3 527.3h0M104.5 522.2h0M113.9 586.5h0M111.3 587.0h0M108.9 558.9h0M101.0 580.7h0M103.4 568.8h0M109.8 570.4h0M108.8 526.3h0M113.4 568.4h0M112.8 537.7h0M112.1 580.8h0M111.4 546.1h0M106.5 583.5h0M118.8 593.5h0M122.0 584.3h0M118.1 554.4h0M111.3 597.7h0M109.6 608.4h0M126.2 594.1h0M112.4 598.8h0M110.0 538.4h0M111.1 557.4h0M106.6 579.7h0M109.1 529.5h0M107.6 531.8h0M116.8 546.4h0M107.8 576.3h0M116.0 558.9h0M111.9 569.2h0M107.5 525.2h0M104.2 524.6h0M109.2 584.9h0M115.8 530.8h0M112.1 549.7h0M117.4 568.0h0M110.1 559.3h0M111.8 560.1h0M107.4 545.5h0M111.8 547.7h0M103.8 569.1h0M107.9 567.2h0M116.7 566.6h0M115.3 540.9h0M107.5 562.1h0M111.1 559.5h0M112.6 556.4h0M107.0 555.2h0M108.8 550.4h0M115.8 555.0h0M109.4 567.8h0M104.5 590.1h0M112.8 541.9h0M112.4 603.9h0M112.1 574.9h0M116.2 575.5h0M108.3 546.4h0M112.6 561.4h0M114.6 605.1h0M115.1 577.2h0M111.4 580.9h0M107.2 578.3h0M114.1 595.3h0M105.4 596.7h0M109.9 598.2h0M98.2 593.0h0M103.1 607.5h0M110.5 578.8h0M95.0 597.3h0M114.9 539.4h0M109.4 563.6h0M112.6 573.7h0M110.7 567.0h0M125.3 590.9h0M106.8 563.6h0M108.8 551.8h0M111.4 590.7h0M109.6 528.1h0M111.0 557.6h0M107.6 516.1h0M114.8 556.4h0M116.5 592.3h0M123.0 603.2h0M107.9 572.4h0M112.8 570.7h0M106.3 620.6h0M107.2 574.5h0M111.9 554.7h0M114.2 538.5h0M114.6 583.6h0M118.1 545.7h0M99.2 601.6h0M108.9 525.5h0M111.1 575.6h0M113.9 541.6h0M106.9 525.3h0M113.0 535.6h0M105.9 559.9h0M113.6 534.5h0M103.6 547.9h0M114.1 575.1h0M109.5 582.5h0M113.0 558.1h0M126.9 599.6h0M110.5 538.7h0M107.1 570.0h0M101.7 583.5h0M110.6 524.5h0M110.0 595.1h0M110.6 555.4h0M102.6 540.3h0M106.3 529.8h0M88.0 607.7h0M116.7 586.0h0M117.9 553.2h0M107.8 519.9h0M103.8 538.1h0M112.2 601.3h0M107.5 519.5h0M112.5 553.3h0M114.0 591.0h0M101.3 562.3h0M111.4 519.4h0M112.1 575.5h0M95.6 581.4h0M111.0 591.5h0M111.7 610.6h0M109.6 582.3h0M114.1 554.3h0M110.6 531.9h0M108.2 519.8h0M102.3 568.5h0M110.7 542.7h0M110.7 577.4h0M110.5 586.6h0M106.7 611.2h0M111.9 573.8h0M107.7 554.5h0M108.3 576.4h0M115.5 540.0h0M97.4 599.2h0M114.3 563.1h0M107.2 608.0h0M104.8 552.1h0M112.7 623.8h0M114.0 582.2h0M113.8 568.2h0M111.5 546.1h0M108.1 548.7h0M96.3 587.1h0M113.7 552.3h0M99.8 579.8h0M115.6 551.7h0M111.8 606.7h0M116.1 577.8h0M108.4 580.3h0M112.2 521.5h0M112.5 585.8h0M116.6 583.2h0M87.7 596.2h0M109.7 612.1h0M107.6 568.8h0M86.1 611.5h0M110.5 560.7h0M98.4 586.4h0M106.1 561.6h0M106.5 579.3h0M112.2 541.5h0M110.9 547.3h0M116.1 568.8h0M104.9 542.5h0M111.7 551.1h0M110.3 542.3h0M119.0 581.9h0M84.2 617.3h0M111.4 572.9h0M101.3 589.4h0M113.1 536.5h0M100.5 561.7h0M114.0 561.7h0M110.9 588.9h0M111.7 599.9h0M110.4 585.7h0M106.6 547.5h0M113.1 568.8h0M118.1 599.2h0M115.7 603.5h0M110.5 521.9h0M109.5 550.6h0M102.8 563.9h0M115.9 538.5h0M107.6 529.1h0M103.5 576.0h0M115.8 527.6h0M115.2 587.9h0M110.7 581.9h0M119.3 577.1h0M108.4 598.1h0M105.8 549.5h0M112.2 524.2h0M108.0 523.4h0M109.9 569.8h0M106.5 552.3h0M111.6 608.6h0M113.3 585.1h0M111.7 582.9h0M106.5 595.1h0M114.1 545.6h0M107.3 585.3h0M113.6 590.8h0M105.2 544.0h0M108.7 573.4h0M106.1 591.8h0M109.3 540.1h0M109.7 526.1h0M112.4 576.6h0M113.1 581.4h0M132.6 585.7h0M106.3 544.9h0M125.9 586.3h0M112.0 602.1h0M102.1 571.2h0M110.6 606.0h0M109.8 568.3h0M104.2 558.0h0M113.7 621.1h0M108.2 575.9h0M105.7 531.4h0M106.6 575.8h0M104.2 559.7h0M106.5 556.9h0M108.4 566.7h0M110.8 579.4h0M110.2 608.3h0M107.3 525.7h0M108.5 612.9h0M114.5 578.9h0M91.3 595.0h0M112.4 616.6h0M132.6 601.3h0M110.5 570.9h0M110.4 578.5h0M119.1 571.5h0M108.2 609.1h0M118.9 570.7h0M104.7 600.7h0M109.2 591.7h0M118.0 530.1h0M113.4 592.5h0M105.4 552.9h0M109.5 525.2h0M117.5 524.1h0M107.8 564.8h0M113.2 528.9h0M109.9 524.7h0M108.4 529.2h0M111.7 521.1h0M115.7 559.3h0M111.0 519.3h0M106.3 606.9h0M122.9 590.5h0M112.9 530.4h0M116.7 544.5h0M117.7 598.4h0M113.7 610.2h0M113.2 544.8h0M108.3 533.9h0M110.2 523.0h0M109.2 561.7h0M116.6 596.2h0M113.9 568.2h0M111.0 603.1h0M103.2 522.6h0M105.7 578.0h0M106.9 569.3h0M108.8 526.2h0M99.3 587.1h0M111.8 526.2h0M99.5 596.7h0M117.1 579.4h0M105.7 601.8h0M101.2 556.2h0M113.8 573.1h0M111.4 531.5h0M110.2 536.1h0M113.2 603.9h0M107.6 554.6h0M118.2 550.1h0M110.1 568.3h0M112.1 608.2h0M117.7 521.7h0M101.0 597.3h0M112.2 600.1h0M100.3 594.1h0M111.1 525.2h0M114.5 585.2h0M124.1 609.5h0M99.9 582.0h0M112.9 532.4h0M110.4 599.4h0M116.4 547.6h0M101.8 577.4h0M103.4 558.8h0M108.5 616.5h0M98.1 586.3h0M116.7 539.4h0M111.4 562.7h0M111.9 527.6h0M107.4 571.6h0M108.9 574.7h0M125.4 587.3h0M102.0 562.1h0M111.8 577.4h0M109.5 559.0h0M104.3 625.4h0M110.9 601.8h0M112.7 546.8h0M117.2 538.7h0M107.2 563.6h0M110.6 527.8h0M108.2 627.9h0M102.1 563.2h0M108.9 527.9h0M104.5 557.9h0M111.8 538.2h0M111.2 547.2h0M120.2 581.3h0M110.6 542.2h0M110.3 572.0h0M107.9 570.9h0M97.3 616.3h0M116.5 585.7h0M119.0 572.4h0M108.5 562.1h0M107.0 593.9h0M114.4 581.7h0M101.2 558.3h0M109.4 532.9h0M110.3 566.3h0M112.5 528.8h0M108.5 525.3h0M101.6 513.2h0M112.6 541.2h0M114.4 556.1h0M95.6 591.8h0M111.5 582.9h0M117.2 542.6h0M113.2 573.1h0M104.3 524.0h0M105.2 582.2h0M105.1 583.2h0M109.0 523.6h0M108.0 564.4h0M105.6 601.5h0M108.4 553.1h0M110.8 542.2h0M108.8 582.9h0M108.8 533.2h0M110.2 536.5h0M107.0 567.2h0M113.8 540.3h0M93.2 580.4h0M110.7 564.3h0M110.7 588.5h0M101.4 552.5h0M104.9 580.5h0M105.0 523.9h0M114.2 539.8h0M110.4 588.7h0M110.6 541.4h0M117.4 599.6h0M106.6 542.6h0M102.5 533.6h0M110.6 564.0h0M112.6 582.9h0M106.8 609.0h0M115.3 586.4h0M111.2 571.2h0M105.4 586.9h0M107.3 584.3h0M107.2 558.5h0M117.6 550.3h0M106.5 556.8h0M107.9 612.0h0M107.9 552.8h0M109.3 600.5h0M112.3 610.4h0M114.4 534.8h0M100.0 597.5h0M111.7 580.7h0M109.1 595.9h0M109.7 535.2h0M112.1 534.5h0M103.9 567.8h0M115.8 572.3h0M103.0 593.6h0M116.8 586.6h0M111.7 565.8h0M117.2 564.3h0M103.2 542.2h0M113.0 534.1h0M108.9 552.0h0M112.3 556.7h0M108.8 571.9h0M109.6 604.3h0M97.3 598.9h0M105.4 571.8h0M103.6 580.2h0M109.1 574.1h0M114.0 586.0h0M103.9 581.4h0M108.5 552.2h0M107.9 529.5h0M109.7 616.2h0M119.0 597.3h0M116.7 539.8h0M110.8 553.3h0M107.6 603.6h0M113.8 568.4h0M119.8 578.8h0M103.5 563.5h0M105.4 549.1h0M115.4 526.9h0M108.5 563.1h0M91.4 603.3h0M119.9 608.2h0M110.1 594.5h0M116.4 573.1h0M106.2 570.0h0M110.0 570.9h0M108.5 521.6h0M113.7 556.5h0M113.8 544.4h0M118.2 536.8h0M105.9 534.8h0M106.9 536.3h0M108.2 541.8h0M117.8 572.8h0M108.0 572.0h0M108.5 547.1h0M108.9 562.0h0M118.9 605.7h0M111.9 606.3h0M115.9 554.8h0M118.1 536.1h0M112.2 539.3h0M112.7 611.0h0M114.6 560.4h0M115.4 537.5h0M106.5 550.6h0M113.5 600.5h0M110.5 604.1h0M106.9 559.0h0M112.7 556.5h0M107.4 556.5h0M99.3 596.9h0M102.6 567.2h0M102.4 570.3h0M105.1 601.5h0M111.2 551.0h0M108.3 566.9h0M110.1 531.3h0M105.7 595.6h0M108.6 611.0h0M121.2 584.5h0M113.1 609.3h0M111.6 552.6h0M116.4 551.5h0M118.4 526.3h0M112.9 574.6h0M112.6 575.4h0M107.3 572.0h0M108.4 571.7h0M107.4 545.6h0M113.7 553.6h0M112.1 596.7h0M115.2 520.7h0M102.9 534.6h0M118.1 592.5h0M110.5 529.6h0M112.6 555.8h0M111.0 582.6h0M112.6 526.0h0M113.2 611.6h0M103.4 585.7h0M115.8 569.0h0M104.4 586.8h0M108.7 592.8h0M104.1 562.5h0M103.0 602.4h0M111.5 542.6h0M109.6 618.2h0M103.4 591.2h0M115.8 570.8h0M113.8 573.3h0M111.0 600.4h0M112.6 601.3h0M109.8 598.1h0M111.2 570.6h0M113.5 578.6h0M107.9 611.9h0M99.9 605.5h0M104.0 581.8h0M102.9 590.3h0M107.3 529.1h0M116.5 602.7h0M114.7 569.5h0M103.9 552.2h0M105.7 524.6h0M113.1 554.5h0M109.7 583.4h0M118.4 543.3h0M101.0 580.6h0M106.6 580.0h0M118.0 569.0h0M103.3 595.2h0M115.2 559.0h0M117.4 547.2h0M113.4 574.9h0M113.9 573.3h0M109.2 543.0h0M114.4 536.0h0M110.3 536.5h0M110.8 556.2h0M107.1 534.4h0M116.4 552.1h0M104.0 613.3h0M100.5 560.5h0M105.7 527.6h0M105.2 563.2h0M118.8 551.4h0M110.6 587.5h0M105.5 528.8h0M116.9 547.4h0M110.8 568.9h0M108.2 520.3h0M113.1 553.3h0M106.8 569.1h0M102.2 568.8h0M118.4 597.6h0M111.3 576.5h0M109.2 595.9h0M117.8 561.4h0M109.9 571.5h0M105.5 558.2h0M115.5 544.0h0M109.2 540.1h0M115.9 593.0h0M118.1 598.0h0M107.5 581.1h0M104.8 522.0h0M111.0 538.7h0M110.2 557.9h0M102.9 575.8h0M109.4 532.9h0M112.6 592.5h0M107.1 552.3h0M110.2 549.1h0M110.5 573.9h0M106.7 580.5h0M107.3 530.4h0M108.8 530.9h0M115.5 536.2h0M109.7 566.0h0M110.1 599.8h0M112.0 599.7h0M106.0 521.2h0M106.9 576.1h0M112.0 567.1h0M99.3 581.0h0M111.3 523.6h0M116.1 600.1h0M124.1 588.9h0M112.3 519.7h0M102.6 606.7h0M115.1 561.8h0M112.8 601.9h0M111.3 544.4h0M115.4 558.0h0M110.0 577.0h0M108.3 567.9h0M104.5 558.8h0M110.3 566.8h0M113.4 562.9h0M118.6 536.2h0M110.9 557.1h0M108.9 568.2h0M108.6 573.0h0M107.8 574.6h0M104.6 603.6h0M115.6 527.5h0M107.7 517.3h0M109.6 523.1h0M110.8 522.1h0M108.0 563.2h0M106.3 557.1h0M111.1 525.9h0M98.7 613.4h0M108.1 559.2h0M109.0 570.2h0M110.8 536.3h0M110.4 555.1h0M109.8 558.2h0M99.4 611.4h0M111.2 537.6h0M124.5 592.1h0M109.9 524.0h0M106.6 574.0h0M112.3 573.5h0M109.8 545.8h0M107.0 554.0h0M104.0 570.6h0M95.1 599.2h0M112.8 541.6h0M109.7 520.0h0M106.3 520.5h0M116.9 525.2h0M117.8 540.7h0M111.3 526.8h0M108.7 519.7h0M114.7 533.7h0M106.7 524.9h0M117.9 541.0h0M116.8 553.3h0M115.1 560.2h0M110.4 523.0h0M107.3 580.9h0M116.3 521.1h0M111.8 623.9h0M115.4 547.6h0M123.8 600.0h0M106.8 604.4h0M118.6 595.1h0M115.0 531.1h0M111.3 563.6h0M118.6 525.8h0M105.8 576.6h0M86.1 618.3h0M103.8 567.5h0M109.5 550.4h0M109.2 558.3h0M106.3 540.2h0M108.7 540.7h0M116.1 555.6h0M95.2 609.0h0M115.9 530.6h0M139.8 586.4h0M111.9 568.2h0M112.8 575.0h0M112.8 520.5h0M101.5 602.5h0M115.8 544.7h0M103.9 543.7h0M101.3 599.3h0M111.2 603.9h0M109.5 549.3h0M112.4 555.4h0M112.8 574.2h0M102.0 563.7h0M116.1 546.2h0M112.8 574.9h0M109.8 556.1h0M104.0 608.8h0M110.5 523.6h0M114.5 553.8h0M106.4 543.5h0M115.1 563.9h0M112.0 572.5h0M109.4 619.9h0M105.6 544.1h0M109.4 607.8h0M113.0 554.8h0M114.1 572.0h0M111.4 597.5h0M103.4 599.7h0M113.0 575.7h0M114.6 574.4h0M119.3 610.7h0M113.3 549.5h0M111.6 559.4h0M107.3 544.5h0M100.4 585.1h0M104.8 521.6h0M109.4 570.5h0M115.1 530.8h0M104.3 587.9h0M108.9 600.9h0M113.9 541.7h0M109.5 592.1h0M108.9 519.6h0M105.9 609.5h0M114.1 569.9h0M109.6 549.7h0M91.9 584.3h0M110.8 524.0h0M109.1 586.4h0M104.5 558.5h0M106.9 594.0h0M114.0 571.5h0M108.3 603.2h0M110.7 597.4h0M114.0 522.1h0M105.1 559.8h0M111.6 593.3h0M115.4 585.8h0M116.9 592.1h0M105.1 584.5h0M101.5 545.8h0M110.8 585.4h0M114.0 603.1h0M109.7 586.6h0M105.9 572.3h0M115.2 540.6h0M112.7 547.5h0M115.5 541.1h0M104.0 565.0h0M105.8 533.2h0M107.4 614.2h0M126.7 620.8h0M110.8 536.5h0M108.5 585.9h0M105.2 556.1h0M119.0 529.4h0M115.6 583.5h0M115.5 567.8h0M110.8 585.6h0M105.9 543.6h0M109.8 547.7h0M106.1 602.7h0M108.7 577.2h0M110.2 596.0h0M108.8 541.6h0M109.2 613.8h0M114.5 550.4h0M106.5 529.0h0M112.0 580.1h0M110.3 526.0h0M109.4 557.0h0M112.3 604.2h0M114.9 593.2h0M111.6 534.7h0M116.2 520.8h0M118.7 534.3h0M109.0 583.2h0M118.0 577.3h0M109.9 571.8h0M115.0 532.8h0M116.4 563.7h0M109.3 527.7h0M117.0 566.2h0M110.9 567.3h0M112.7 521.3h0M105.3 551.5h0M111.5 603.5h0M118.2 595.1h0M114.1 582.1h0M117.2 614.5h0M104.5 543.7h0M103.9 565.4h0M113.7 584.0h0M104.5 543.9h0M120.2 580.2h0M106.3 592.1h0M94.5 593.2h0M110.6 566.2h0M104.5 601.1h0M114.6 594.6h0M106.8 565.7h0M109.7 567.2h0M107.6 553.4h0M111.0 574.3h0M112.1 624.1h0M112.4 569.7h0M119.4 584.0h0M122.1 595.0h0M108.4 599.4h0M117.3 546.0h0M112.7 548.4h0M114.8 565.5h0M110.6 611.3h0M107.2 525.4h0M101.8 520.9h0M101.3 547.6h0M111.9 600.3h0M116.9 536.8h0M117.3 590.8h0M111.8 546.6h0M101.4 548.2h0M112.8 582.1h0M113.1 553.9h0M106.4 523.6h0M106.0 538.5h0M111.0 541.5h0M109.0 556.8h0M112.8 550.6h0M102.0 584.3h0M115.5 570.9h0M117.3 550.3h0M101.9 582.7h0M111.3 519.7h0M108.5 545.3h0M115.0 609.8h0M109.4 555.8h0M109.0 610.4h0M115.7 587.6h0M113.7 523.1h0M111.0 536.7h0M109.7 569.2h0M113.5 558.0h0M111.9 561.9h0M108.8 575.0h0M110.3 534.4h0M118.9 584.8h0M112.9 608.0h0M117.0 600.8h0M102.5 557.2h0M121.0 614.9h0M106.3 568.6h0M115.2 560.6h0M106.0 606.7h0M112.1 569.8h0M106.4 599.6h0M113.3 536.8h0M103.5 576.9h0M114.6 564.9h0M111.1 522.7h0M111.1 527.8h0M106.8 561.3h0M95.2 596.7h0M106.7 537.0h0M100.7 582.9h0M116.4 552.6h0M106.7 543.6h0M109.5 591.3h0M104.6 590.6h0M113.7 577.2h0M110.6 557.6h0M108.6 579.9h0M109.2 536.1h0M115.5 562.5h0M108.5 564.3h0M109.6 554.8h0M112.0 558.2h0M107.7 543.6h0M109.9 539.7h0M100.8 561.8h0M114.9 616.2h0M108.5 570.2h0M105.4 581.7h0M104.8 525.0h0M112.8 556.9h0M110.1 598.5h0M112.5 523.2h0M110.2 535.6h0M111.8 543.5h0M106.8 532.1h0M108.4 545.9h0M97.8 607.3h0M105.2 568.3h0M115.4 519.7h0M107.8 558.7h0M110.7 593.9h0M105.1 525.4h0M116.9 585.3h0M117.8 566.5h0M112.7 604.7h0M113.1 566.2h0M102.2 584.3h0M99.0 584.7h0M119.1 620.6h0M111.4 548.2h0M117.6 573.2h0M113.0 577.5h0M100.8 572.8h0M109.7 547.2h0M86.5 585.0h0M108.3 521.4h0M105.2 557.8h0M110.7 555.1h0M108.5 519.7h0M114.4 573.4h0M113.6 529.1h0M112.9 542.1h0M115.5 579.5h0M112.9 609.8h0M116.6 537.9h0M108.7 557.9h0M104.3 556.7h0M102.4 611.9h0M108.7 573.5h0M108.1 552.3h0M103.5 524.2h0M109.7 563.1h0M115.2 576.7h0M106.3 525.3h0M114.7 592.6h0M104.5 530.6h0M104.2 577.9h0M111.0 522.2h0M108.6 549.9h0M109.3 604.8h0M108.3 521.8h0M111.3 560.0h0M102.7 607.3h0M100.7 564.5h0M114.7 562.2h0M115.0 558.9h0M115.3 609.3h0M111.6 554.0h0M119.0 540.3h0M109.8 528.7h0M110.1 619.5h0M110.0 532.2h0M108.8 561.3h0M112.0 613.3h0M103.3 574.8h0M103.1 542.8h0M99.7 583.5h0M116.4 593.8h0M111.0 523.9h0M110.8 571.5h0M114.5 564.3h0M112.9 559.2h0M114.0 537.4h0M101.4 544.6h0M109.1 592.3h0M106.7 589.0h0M93.6 586.1h0M110.7 566.5h0M114.0 552.0h0M112.3 570.0h0M108.4 541.4h0M108.9 548.7h0M107.0 557.1h0M106.7 556.1h0M111.4 563.1h0M110.4 552.0h0M107.4 595.7h0M120.2 610.8h0M106.2 568.1h0M113.4 549.8h0M123.1 579.7h0M108.5 540.5h0M103.8 570.6h0M110.5 557.5h0M110.4 598.6h0M99.1 594.6h0M108.9 573.0h0M104.3 615.1h0M109.4 541.6h0M111.3 567.9h0M95.8 588.8h0M115.7 613.6h0M112.8 525.7h0M112.0 542.5h0M111.3 525.8h0M110.4 559.9h0M109.4 596.8h0M116.6 576.0h0M108.7 573.9h0M111.2 582.1h0M109.0 566.7h0M105.2 590.3h0M109.8 563.9h0M95.9 590.4h0M106.8 549.2h0M114.3 562.0h0M114.9 584.5h0M108.5 572.7h0M106.1 554.8h0M104.5 560.6h0M113.8 558.0h0M110.0 604.4h0M109.2 542.0h0M108.8 538.9h0M109.6 524.2h0M100.4 595.7h0M107.4 610.2h0M108.0 588.2h0M111.8 544.5h0M103.2 603.2h0M103.4 553.9h0M106.6 527.3h0M111.0 563.8h0M104.5 608.2h0M111.2 566.9h0M111.9 608.0h0M110.5 603.1h0M103.7 544.7h0M114.0 601.4h0M108.3 551.3h0M112.8 571.7h0M107.7 532.0h0M113.5 545.8h0M103.0 569.9h0M107.4 586.1h0M110.1 567.8h0M123.2 586.7h0M111.0 530.6h0M110.7 584.3h0M111.4 558.5h0M119.0 529.3h0M110.2 560.6h0M109.0 543.3h0M112.0 528.9h0M111.4 571.5h0M115.5 531.9h0M114.5 553.2h0M104.8 568.5h0M103.5 538.9h0M114.2 544.2h0M117.5 569.3h0M112.4 582.2h0M110.4 559.4h0M108.0 578.2h0M113.8 552.6h0M106.8 578.0h0M108.8 572.0h0M101.3 545.1h0M109.7 574.4h0M108.8 522.1h0M107.8 561.1h0M107.7 550.4h0M98.9 584.2h0M111.2 565.9h0M112.6 548.9h0M109.0 547.3h0M108.9 543.9h0M110.7 551.8h0M114.9 556.0h0M112.4 561.2h0M110.4 562.8h0M119.7 586.5h0M102.1 592.4h0M109.4 566.2h0M109.4 562.1h0M110.9 585.4h0M96.0 581.9h0M105.9 610.0h0M111.4 539.2h0M114.7 593.3h0M106.1 595.8h0M111.8 590.4h0M102.9 519.8h0M111.7 558.9h0M112.3 561.2h0M111.2 575.9h0M110.2 549.1h0M110.8 533.4h0M110.1 582.0h0M104.6 547.5h0M110.3 621.2h0M110.8 557.8h0M100.5 537.4h0M104.4 592.9h0M114.7 579.8h0M98.5 604.2h0M112.4 537.8h0M110.1 574.9h0M113.9 561.4h0M109.5 597.3h0M108.0 543.6h0M112.0 573.8h0M111.6 534.5h0M108.0 557.0h0M109.0 569.0h0M118.2 589.2h0M93.2 607.8h0M117.9 582.5h0M111.7 550.6h0M108.8 534.0h0M112.3 575.6h0M106.2 603.1h0M89.8 596.0h0M107.4 568.7h0M103.9 529.3h0M110.5 524.1h0M106.8 524.2h0M110.3 557.1h0M106.4 536.5h0M99.1 588.7h0M110.6 555.8h0M105.0 611.3h0M104.9 551.2h0M107.9 614.5h0M108.8 589.4h0M111.0 544.7h0M110.3 595.7h0M109.7 580.5h0M113.5 582.3h0M102.1 520.7h0M110.5 561.3h0M106.2 588.6h0M105.0 572.4h0M108.5 584.0h0M113.0 587.1h0M105.0 591.8h0M107.0 590.6h0M103.0 556.1h0M107.9 580.9h0M115.0 523.0h0M112.9 531.0h0M112.1 516.3h0M113.3 562.0h0M107.2 564.7h0M106.6 557.6h0M110.9 549.0h0M111.5 565.1h0M112.7 578.1h0M107.2 538.4h0M106.9 612.2h0M102.0 535.6h0M108.3 594.3h0M110.3 534.3h0M107.8 527.6h0M111.1 544.7h0M105.1 580.7h0M111.4 515.6h0M114.2 593.9h0M92.0 581.3h0M113.8 574.3h0M106.4 539.4h0M107.6 524.7h0M111.1 593.6h0M109.3 540.1h0M101.7 548.8h0M112.9 575.0h0M115.8 568.3h0M110.7 590.8h0M125.3 585.7h0M114.9 584.8h0M115.8 571.5h0M104.1 531.2h0M109.1 519.7h0M110.0 596.3h0M109.2 535.5h0M109.9 549.3h0M111.6 553.5h0M112.5 553.1h0M103.7 565.6h0M105.3 533.9h0M106.7 562.3h0M115.4 581.3h0M112.7 577.9h0M105.2 600.7h0M105.0 545.6h0M105.8 590.3h0M109.2 613.9h0M111.4 601.8h0M107.7 591.5h0M110.0 552.9h0M106.7 598.3h0M110.7 555.9h0M111.1 595.7h0M106.8 566.8h0M114.3 602.2h0M109.2 586.1h0M109.8 574.2h0M101.3 551.6h0M119.1 555.1h0M107.6 574.3h0M115.0 551.5h0M112.9 573.9h0M97.1 593.6h0M111.7 530.0h0M113.6 565.8h0M109.4 533.9h0M115.2 595.9h0M109.4 547.8h0M103.7 561.3h0M113.8 591.9h0M115.2 544.4h0M112.6 556.1h0M113.9 600.2h0M108.1 616.5h0M117.4 553.5h0M104.6 554.9h0M109.6 514.6h0M112.9 574.1h0M108.1 536.4h0M105.2 521.7h0M111.1 565.7h0M112.1 556.9h0M111.2 527.2h0M105.7 575.3h0M101.6 526.4h0M118.7 525.0h0M118.0 557.4h0M106.4 584.5h0M101.1 589.3h0M113.2 563.7h0M105.5 559.0h0M107.6 542.3h0M121.5 602.1h0M131.6 592.2h0M107.6 602.6h0M108.6 531.4h0M111.6 566.8h0M119.0 584.6h0M115.9 588.5h0M95.4 585.5h0M120.7 584.7h0M111.5 594.6h0M116.2 566.3h0M112.9 582.0h0M111.1 538.3h0M117.0 592.5h0M106.0 537.0h0M114.9 550.7h0M101.7 595.7h0M111.1 600.5h0M107.1 520.4h0M117.4 553.9h0M106.9 588.3h0M110.5 529.9h0M97.5 609.9h0M105.7 589.7h0M110.4 538.1h0M112.5 559.0h0M111.6 545.7h0M110.9 592.9h0M112.4 557.4h0M107.0 532.4h0M112.2 531.9h0M112.6 524.4h0M114.4 573.5h0M112.2 525.1h0M114.6 576.3h0M117.4 567.9h0M110.5 597.5h0M118.2 580.6h0M109.3 576.7h0M110.2 580.5h0M111.1 557.1h0M109.4 557.2h0M113.2 538.6h0M109.0 600.2h0M107.0 588.8h0M113.7 543.3h0M104.1 553.3h0M103.2 525.8h0M111.5 525.1h0M110.9 539.2h0M121.2 593.8h0M106.7 553.8h0M114.9 587.4h0M113.4 534.6h0M108.7 605.2h0M96.7 597.3h0M114.0 573.9h0M115.9 528.9h0M114.2 581.1h0M114.3 581.7h0M120.0 599.5h0M103.3 593.1h0M108.2 588.3h0M113.4 572.9h0M106.5 548.7h0M104.9 568.3h0M104.5 547.9h0M115.0 600.6h0M109.8 568.4h0M106.0 555.0h0M111.4 573.4h0M109.9 550.3h0M114.5 595.3h0M130.8 615.1h0M103.5 559.5h0M113.4 565.7h0M109.0 537.5h0M114.4 569.0h0M112.1 573.6h0M110.9 524.7h0M99.1 582.5h0M111.3 563.6h0M108.8 595.7h0M109.1 575.8h0M118.9 581.2h0M116.8 558.8h0M133.2 601.9h0M103.1 596.6h0M88.1 588.6h0M97.4 603.5h0M105.0 571.6h0M104.8 596.8h0M110.2 556.9h0M110.0 542.2h0M104.5 544.1h0M109.1 556.3h0M106.6 549.5h0M110.1 572.4h0M116.6 515.5h0M104.1 537.3h0M110.7 547.0h0M110.4 571.7h0M113.3 569.4h0M125.6 585.2h0M113.1 604.6h0M111.3 605.0h0M108.2 534.2h0M112.2 588.9h0M117.4 534.6h0M107.6 617.0h0M109.5 598.5h0M105.8 556.4h0M117.0 533.0h0M119.7 585.1h0M101.1 586.5h0M108.2 549.4h0M110.7 577.2h0M109.8 522.0h0M105.8 573.2h0M115.3 600.1h0M107.4 572.2h0M105.6 572.7h0M101.7 560.6h0M110.2 532.2h0M110.1 549.2h0M116.5 533.3h0M114.0 528.7h0M112.4 588.7h0M117.5 591.7h0M109.2 550.7h0M132.7 579.8h0M110.0 520.3h0M106.5 597.9h0M108.1 545.1h0M115.4 590.0h0M110.3 595.8h0M110.8 573.4h0M112.8 623.7h0M106.7 613.1h0M109.4 544.2h0M108.1 529.5h0M110.5 561.3h0M112.9 547.8h0M107.3 609.1h0M110.8 525.7h0M90.5 590.8h0M109.5 556.0h0M104.4 548.5h0M114.8 530.8h0M105.7 560.7h0M112.6 575.3h0M106.8 592.5h0M107.8 528.7h0M121.6 603.2h0M115.9 568.0h0M112.8 605.1h0M101.9 576.5h0M110.8 548.9h0M118.5 546.6h0M114.0 596.1h0M106.8 527.1h0M105.4 574.4h0M110.0 534.1h0M106.9 568.3h0M105.8 574.1h0M117.1 556.2h0M105.3 569.0h0M116.7 574.7h0M104.0 566.6h0M114.2 531.8h0M111.4 523.0h0M114.2 621.5h0M108.9 532.6h0M100.2 598.7h0M109.6 593.0h0M113.6 577.7h0M108.5 584.2h0M118.6 588.2h0M106.4 562.0h0M114.3 537.3h0M110.3 522.1h0M110.0 556.8h0M114.5 546.0h0M119.3 556.1h0M106.3 589.1h0M107.8 579.6h0M107.2 539.2h0M113.6 547.7h0M113.9 585.9h0M103.9 600.5h0M115.4 560.1h0M103.5 590.2h0M105.8 564.3h0M102.1 558.8h0M108.1 618.1h0M84.0 587.7h0M113.3 608.1h0M109.9 559.6h0M110.5 584.1h0M112.5 524.7h0M115.7 557.4h0M114.2 553.3h0M111.8 592.0h0M106.5 526.8h0M110.6 568.8h0M112.1 573.5h0M103.7 543.9h0M100.5 540.5h0M112.1 531.5h0M106.5 598.4h0M110.1 524.4h0M104.1 536.9h0M110.6 531.6h0M117.3 527.4h0M104.2 568.5h0M113.9 562.7h0M113.4 543.5h0M105.4 524.7h0M107.8 585.8h0M113.9 616.6h0M104.8 598.9h0M105.8 567.3h0M116.7 547.0h0M125.4 598.9h0M101.8 566.3h0M106.4 544.1h0M107.8 558.5h0M107.8 534.8h0M108.6 543.7h0M110.5 565.2h0M107.1 536.8h0M108.0 579.9h0M114.9 565.1h0M113.2 572.2h0M106.2 575.9h0M109.7 574.6h0M105.9 570.1h0M100.6 565.7h0M119.2 592.4h0M113.8 525.0h0M104.7 554.9h0M112.7 540.8h0M109.3 606.8h0M111.8 559.1h0M106.1 572.9h0M111.9 528.7h0M104.3 588.2h0M102.3 586.0h0M111.5 553.1h0M103.9 604.2h0M108.0 552.5h0M112.5 604.9h0M109.8 560.2h0M110.9 611.5h0M106.0 615.0h0M95.8 582.2h0M110.4 540.9h0M104.6 622.2h0M109.1 535.9h0M110.7 568.0h0M113.8 531.7h0M115.4 533.7h0M108.9 548.6h0M115.8 551.0h0M109.9 569.4h0M114.3 585.0h0M102.3 552.6h0M115.8 524.0h0M108.6 560.9h0M112.0 559.3h0M107.6 614.7h0M109.2 551.8h0M109.6 548.6h0M109.4 608.4h0M100.6 541.7h0M101.0 534.9h0M103.9 539.4h0M103.2 560.6h0M103.1 615.4h0M115.2 611.8h0M110.3 598.6h0M114.3 575.7h0M113.4 587.1h0M110.0 607.2h0M108.5 528.9h0M108.9 613.7h0M110.7 561.5h0M117.9 557.2h0M107.2 566.7h0M105.4 598.8h0M110.6 585.7h0M104.6 547.9h0M118.5 589.9h0M109.2 597.7h0M105.2 553.5h0M105.0 558.0h0M123.7 597.0h0M109.8 576.1h0M108.2 546.1h0M116.4 548.4h0M114.0 558.0h0M100.6 571.1h0M113.1 567.5h0M104.6 608.6h0M106.0 580.7h0M109.4 565.4h0M115.9 530.8h0M115.4 587.8h0M106.9 578.5h0M109.1 558.7h0M108.8 563.9h0M103.2 533.7h0M110.0 586.5h0M107.2 564.5h0M109.5 560.2h0M111.0 549.0h0M111.9 523.3h0M110.4 588.1h0M109.7 542.2h0M104.6 592.7h0M101.8 534.4h0M108.8 518.2h0M129.3 594.5h0M96.0 582.5h0M100.1 594.0h0M112.2 572.5h0M107.7 586.5h0M104.2 559.9h0M111.3 624.8h0M107.5 540.0h0M115.9 564.7h0M118.4 567.9h0M118.2 538.6h0M111.1 595.9h0M112.9 535.0h0M105.9 539.8h0M109.9 576.8h0M106.7 536.6h0M108.4 530.5h0M108.0 583.9h0M110.0 596.8h0M112.3 588.3h0M107.5 595.0h0M108.4 621.0h0M115.0 555.0h0M108.0 602.1h0M108.5 537.0h0M116.0 536.4h0M109.3 579.5h0M114.7 602.9h0M111.2 575.4h0M113.0 582.4h0M115.9 549.3h0M110.0 532.2h0M116.8 553.5h0M111.9 562.2h0M111.8 548.1h0M112.9 529.8h0M109.2 566.6h0M105.2 521.9h0M104.3 546.3h0M110.9 595.0h0M115.3 582.6h0M108.8 588.2h0M117.0 604.8h0M116.0 565.1h0M112.4 522.6h0M106.9 558.7h0M107.2 614.8h0M101.8 568.7h0M95.9 592.4h0M103.7 532.0h0M108.8 541.0h0M103.9 563.4h0M110.0 571.4h0M99.8 585.6h0M103.7 567.2h0M114.2 516.5h0M107.4 568.9h0M109.7 543.4h0M105.6 554.0h0M112.1 549.0h0M103.2 585.4h0M108.1 540.6h0M103.1 549.2h0M104.9 575.3h0M110.2 538.5h0M109.0 604.1h0M106.5 550.9h0M104.9 566.3h0M99.0 590.4h0M119.8 597.5h0M109.8 563.5h0M109.9 540.4h0M112.1 603.0h0M113.0 583.7h0M111.8 572.3h0M113.7 600.2h0M117.5 539.3h0M118.5 588.4h0M111.7 538.5h0M100.6 609.0h0M107.8 535.6h0M110.4 612.3h0M114.5 587.9h0M111.6 584.9h0M105.6 556.4h0M102.0 583.8h0M106.9 525.8h0M116.2 582.3h0M110.7 599.7h0M105.6 551.4h0M114.6 589.4h0M112.4 523.6h0M102.8 603.4h0M103.0 601.0h0M108.7 517.5h0M111.2 556.5h0M104.8 580.0h0M112.3 562.5h0M115.1 550.8h0M113.0 606.8h0M115.1 595.6h0M111.0 567.5h0M105.4 568.5h0M114.0 529.0h0M105.5 529.8h0M109.2 579.0h0M100.9 612.4h0M123.5 585.9h0M109.8 594.0h0M111.0 583.3h0M114.6 557.4h0M111.3 563.6h0M117.8 532.1h0M115.1 583.9h0M111.1 528.7h0M110.9 607.5h0M117.0 582.5h0M112.9 582.0h0M103.5 574.3h0M107.9 577.3h0M107.9 613.7h0M110.8 551.6h0M110.9 556.2h0M119.9 602.3h0M119.9 593.0h0M109.3 566.6h0M104.0 590.9h0M115.7 523.0h0M107.0 541.0h0M111.3 574.4h0M116.3 573.0h0M104.4 575.3h0M103.7 523.2h0M106.1 611.3h0M106.6 546.8h0M105.2 558.4h0M108.5 561.6h0M100.9 567.7h0M112.6 586.7h0M128.7 609.7h0M107.1 555.3h0M103.5 530.6h0M108.6 607.5h0M100.4 576.6h0M102.6 535.0h0M120.5 620.0h0M101.4 530.0h0M110.3 554.8h0M115.2 538.1h0M109.7 598.4h0M107.2 563.8h0M115.2 556.2h0M103.1 576.6h0M108.9 525.1h0M123.9 581.8h0M114.2 568.9h0M114.5 521.0h0M112.4 564.6h0M120.5 597.9h0M112.5 543.5h0M105.8 603.9h0M103.7 585.1h0M107.2 581.8h0M106.8 564.6h0M109.9 583.8h0M101.4 618.1h0M104.9 568.9h0M104.9 548.5h0M109.9 597.4h0M114.7 610.0h0M108.8 574.0h0M114.2 577.0h0M108.5 542.0h0M116.5 569.5h0M107.0 590.3h0M114.6 541.9h0M102.0 536.9h0M109.2 560.2h0M105.9 605.8h0M115.7 521.3h0M112.4 547.6h0M114.7 587.7h0M113.3 604.0h0M115.3 609.3h0M116.4 607.2h0M110.7 547.0h0M109.5 606.5h0M117.0 562.6h0M109.6 603.7h0M110.8 597.8h0M107.6 530.1h0M109.7 585.7h0M105.2 571.6h0M130.2 582.8h0M119.4 611.8h0M106.8 569.6h0M110.0 604.1h0M103.8 607.5h0M115.8 577.5h0M110.2 536.1h0M109.8 575.6h0M103.1 597.7h0M107.7 533.7h0M108.7 549.6h0M110.8 604.4h0M105.9 538.8h0M110.4 553.4h0M104.8 587.5h0M112.7 553.0h0M111.2 607.0h0M105.5 583.6h0M109.5 574.3h0M109.8 574.0h0M117.1 568.8h0M110.9 576.1h0M103.9 581.5h0M103.2 539.2h0M106.4 563.2h0M113.1 565.7h0M79.4 604.0h0M108.7 529.4h0M111.1 550.9h0M113.4 542.8h0M110.8 570.2h0M110.4 533.4h0M121.5 578.1h0M111.9 551.1h0M109.8 587.8h0M111.0 533.8h0M117.7 586.1h0M117.7 621.5h0M113.8 590.1h0M109.4 582.3h0M112.4 519.9h0M111.5 588.9h0M109.7 552.5h0M114.3 598.5h0M111.4 598.6h0M110.7 572.2h0M109.8 578.6h0M116.6 574.7h0M112.7 559.5h0M100.6 565.4h0M104.9 615.6h0M109.3 543.2h0M114.7 580.6h0M114.9 561.8h0M109.3 530.6h0M112.8 600.1h0M107.2 548.5h0M108.6 594.4h0M109.6 583.3h0M120.0 603.8h0M113.4 617.0h0M109.0 596.2h0M116.4 557.5h0M111.2 554.1h0M91.9 591.8h0M111.5 523.0h0M118.1 599.8h0M104.5 592.9h0M109.6 558.1h0M105.2 528.1h0M117.5 575.5h0M103.9 572.5h0M112.2 557.5h0M107.2 569.0h0M112.0 582.5h0M105.7 532.2h0M118.9 574.1h0M118.5 580.0h0M108.5 557.9h0M106.5 539.5h0M111.7 584.1h0M106.9 550.0h0M100.2 588.6h0M110.1 608.2h0M114.1 582.8h0M107.3 595.5h0M110.9 596.9h0M106.2 574.1h0M111.1 589.4h0M100.7 558.5h0M112.2 526.2h0M100.3 602.5h0M119.2 557.5h0M110.7 574.6h0M109.3 607.6h0M104.1 553.5h0M110.5 556.8h0M101.0 546.9h0M108.0 586.8h0M112.0 554.4h0M118.1 596.7h0M112.5 542.0h0M101.6 571.7h0M109.4 617.7h0M116.3 568.4h0M105.9 597.3h0M115.7 595.1h0M105.1 519.4h0M110.5 547.9h0M108.6 578.5h0M111.9 561.7h0M116.1 576.1h0M109.8 562.1h0M111.2 620.4h0M108.7 540.8h0M117.4 531.5h0M115.5 547.5h0M115.9 572.7h0M101.6 592.7h0M112.8 570.8h0M111.8 522.0h0M112.9 551.9h0M112.7 564.8h0M109.7 590.9h0M107.9 548.7h0M106.3 582.6h0M110.1 561.6h0M106.4 609.3h0M109.3 581.2h0M113.2 562.0h0M113.2 550.5h0M99.6 588.6h0M95.7 599.8h0M105.1 521.4h0M120.1 587.3h0M107.6 576.4h0M110.6 543.1h0M115.9 564.1h0M117.5 573.3h0M113.6 559.3h0M107.8 522.4h0M107.4 602.4h0M102.1 533.3h0M106.9 561.2h0M108.0 594.1h0M111.8 571.2h0M106.1 568.4h0M108.4 579.1h0M110.0 578.4h0M108.5 533.8h0M107.0 555.9h0M115.4 573.4h0M106.8 559.5h0M103.6 534.9h0M117.6 553.5h0M109.4 566.1h0M114.8 596.1h0M114.4 552.7h0M107.5 530.3h0M101.6 558.3h0M124.3 601.8h0M109.5 570.0h0M105.2 526.3h0M113.6 584.5h0M114.0 573.7h0M109.9 568.3h0M108.7 559.4h0M104.4 556.1h0M109.1 614.3h0M107.2 575.5h0M110.4 523.1h0M109.5 598.5h0M114.4 559.9h0M109.3 588.0h0M111.0 604.5h0M108.6 576.6h0M102.3 618.7h0M101.0 538.0h0M107.0 600.7h0M104.7 608.3h0M113.4 538.9h0M115.1 550.1h0M103.6 586.2h0M118.6 570.2h0M110.6 599.4h0M107.1 565.4h0M107.5 574.7h0M113.0 525.5h0M115.1 565.2h0M110.1 545.1h0M116.5 602.4h0M106.4 572.8h0M104.8 537.0h0M111.3 560.7h0M105.7 569.3h0M110.0 534.3h0M108.7 547.4h0M107.5 606.8h0M107.7 519.9h0M104.5 598.9h0M116.3 539.1h0M116.3 596.7h0M111.5 560.0h0M94.6 582.3h0M105.5 583.6h0M103.5 561.9h0M116.2 580.4h0M116.8 603.3h0M119.1 546.2h0M109.3 586.6h0M105.3 581.0h0M110.2 568.0h0M106.5 600.1h0M102.9 578.1h0M103.6 564.7h0M109.2 574.3h0M115.6 552.0h0M113.1 574.3h0M106.6 585.5h0M106.1 575.8h0M111.6 561.7h0M114.1 534.9h0M109.5 594.8h0M112.6 591.9h0M114.8 552.8h0M109.2 601.1h0M126.6 590.6h0M117.0 567.8h0M109.1 575.2h0M109.1 569.7h0M112.6 531.1h0M104.6 610.4h0M116.9 555.2h0M115.5 567.8h0M111.7 549.5h0M112.0 523.7h0M110.7 529.9h0M108.8 547.4h0M110.9 569.0h0M109.1 586.7h0M116.8 568.7h0M115.8 552.6h0M122.5 607.2h0M108.6 538.7h0M113.2 593.6h0M114.0 561.8h0M106.8 584.7h0M114.6 551.1h0M105.7 559.7h0M114.1 583.2h0M105.0 541.5h0M106.1 569.9h0M107.6 588.1h0M107.9 541.4h0M117.3 582.0h0M100.6 552.9h0M107.2 558.5h0M105.9 581.8h0M104.8 587.5h0M113.0 581.2h0M115.7 547.5h0M108.4 554.8h0M111.5 532.7h0M103.4 557.9h0M105.6 575.6h0M116.9 569.0h0M105.1 603.3h0M109.0 598.4h0M112.1 613.1h0M106.1 549.8h0M116.5 617.1h0M114.0 565.1h0M109.9 542.1h0M115.8 559.3h0M107.9 610.0h0M105.0 594.9h0M110.5 604.8h0M105.8 543.8h0M105.4 587.0h0M112.4 542.3h0M111.5 601.4h0M114.6 599.0h0M111.3 596.0h0M117.2 608.1h0M109.6 572.1h0M108.4 552.2h0M103.6 587.8h0M111.9 536.8h0M118.0 537.7h0M112.7 572.7h0M104.4 602.4h0M107.7 544.2h0M116.6 551.7h0M82.4 589.7h0M128.6 607.8h0M112.6 562.9h0M98.7 596.4h0M106.0 564.2h0M107.6 595.3h0M112.5 523.2h0M110.4 542.0h0M111.7 555.2h0M116.5 523.5h0M111.3 544.4h0M107.2 569.6h0M114.6 548.0h0M108.1 611.4h0M107.2 529.8h0M121.6 605.1h0M110.2 543.1h0M124.7 620.4h0M101.3 448.1h0M102.6 448.1h0M103.7 448.1h0M105.0 448.1h0M107.5 448.1h0M108.8 448.1h0M109.9 448.1h0M111.2 448.1h0M113.3 448.1h0M116.2 448.1h0M116.9 456.1h0M118.0 482.5h0M118.0 490.4h0M148.8 579.1h0M142.3 585.4h0M77.5 619.7h0M80.7 606.5h0M82.4 598.6h0M139.1 617.1h0M134.2 619.7h0M101.0 472.3h0M102.7 470.7h0M104.4 469.2h0M106.1 467.6h0M107.8 466.0h0M109.5 464.4h0M111.2 462.8h0M112.9 461.3h0M101.4 488.1h0M103.0 486.7h0M104.6 485.2h0M106.2 483.7h0M107.8 482.2h0M109.4 480.7h0M111.0 479.2h0M112.6 477.7h0M114.2 476.2h0M115.8 474.8h0M101.8 496.8h0M103.4 495.3h0M105.0 493.8h0M106.6 492.3h0M108.2 490.9h0M109.8 489.4h0M111.4 487.9h0M113.0 486.4h0M101.2 504.0h0M102.8 502.5h0M104.4 501.0h0M106.0 499.5h0M107.6 498.0h0M109.2 496.6h0M110.8 495.1h0M112.4 493.6h0M114.0 492.1h0M115.6 490.6h0M104.0 506.3h0M105.7 504.7h0M107.4 503.1h0M109.1 501.6h0M110.8 500.0h0M112.5 498.4h0M114.2 496.8h0M100.7 512.9h0M102.3 511.4h0M103.9 509.9h0M105.5 508.4h0M107.1 506.9h0M108.7 505.5h0M110.3 504.0h0M111.9 502.5h0M113.5 501.0h0M115.1 499.5h0M101.2 517.1h0M102.8 515.6h0M104.4 514.1h0M106.0 512.6h0M107.6 511.1h0M109.2 509.7h0M110.8 508.2h0M112.4 506.7h0M114.0 505.2h0M115.6 503.7h0M117.2 502.2h0M100.5 521.5h0M102.1 520.0h0M103.7 518.5h0M105.3 517.0h0M106.9 515.5h0M108.5 514.1h0M110.1 512.6h0M111.7 511.1h0M113.3 509.6h0M114.9 508.1h0M116.5 506.6h0M101.0 526.0h0M102.7 524.4h0M104.4 522.8h0M106.1 521.3h0M107.8 519.7h0M109.5 518.1h0M111.2 516.5h0M112.9 514.9h0M114.6 513.4h0" stroke="#bebebe" stroke-width="2.00" stroke-linecap="round" fill="none"/>
<path d="M92.3 524.0h0M99.6 561.5h0M95.7 520.4h0M93.4 538.9h0M93.8 546.2h0M95.5 574.6h0M95.5 558.3h0M99.3 564.2h0M100.1 571.8h0M84.7 558.3h0M97.3 541.0h0M91.1 555.0h0M99.2 544.5h0M95.6 527.8h0M96.8 539.2h0M100.3 549.1h0M85.8 575.4h0M92.2 568.6h0M99.0 562.3h0M94.3 567.3h0M95.1 564.9h0M93.9 548.7h0M93.5 575.2h0M98.3 548.6h0M81.3 546.2h0M100.1 575.0h0M98.8 561.3h0M98.5 573.5h0M98.6 551.9h0M98.8 558.5h0M99.4 523.3h0M91.6 547.7h0M94.4 524.2h0M97.4 559.0h0M88.5 577.0h0M88.4 561.5h0M100.4 566.9h0M93.1 557.7h0M99.8 574.8h0M97.1 523.9h0M98.8 557.6h0M99.1 547.3h0M97.8 568.0h0M98.4 556.7h0M99.5 522.0h0M95.3 563.1h0M99.4 545.7h0M94.3 572.2h0M97.8 575.6h0M87.4 576.5h0M97.8 552.3h0M94.0 530.4h0M95.6 556.3h0M98.2 542.6h0M94.8 575.8h0M86.6 544.2h0M100.3 535.9h0M99.8 550.6h0M84.1 576.0h0M100.0 541.9h0M82.2 548.0h0M93.5 556.6h0M99.8 526.9h0M89.9 559.2h0M100.3 560.5h0M98.4 545.6h0M79.2 569.4h0M99.8 521.5h0M100.3 566.7h0M94.2 557.3h0M97.1 545.2h0M95.6 560.8h0M100.1 564.3h0M94.4 547.1h0M91.0 566.9h0M99.4 552.0h0M99.4 576.5h0M91.5 574.3h0M96.9 561.7h0M99.9 568.1h0M99.7 530.0h0M99.3 521.9h0M99.6 555.6h0M100.0 568.7h0M89.3 523.3h0M89.4 564.1h0M94.6 568.2h0M97.0 534.1h0M96.7 571.2h0M95.7 555.8h0M92.1 550.4h0M98.7 575.3h0M95.8 570.4h0M92.6 556.5h0M98.2 541.5h0M100.0 571.3h0M97.3 566.8h0M95.3 551.0h0M97.4 564.7h0M100.3 556.1h0M87.3 576.4h0M97.6 550.8h0M95.2 577.4h0M92.0 554.7h0M94.7 536.0h0M98.5 570.6h0M94.9 556.0h0M85.0 572.8h0M88.8 551.3h0M95.9 526.0h0M87.9 561.3h0M92.6 564.6h0M100.3 564.4h0M95.3 521.5h0M97.9 570.2h0M99.5 557.0h0M100.3 556.3h0M100.3 542.4h0M98.4 572.9h0M99.4 560.8h0M100.4 525.6h0M98.6 573.9h0M92.9 572.3h0M94.8 573.3h0M94.5 572.4h0M98.1 535.2h0M97.4 565.4h0M100.0 567.4h0M99.1 556.5h0M99.5 552.3h0M100.1 563.6h0M98.3 530.1h0M97.2 571.9h0M98.5 537.9h0M100.4 575.5h0M99.6 520.5h0M94.2 570.1h0M96.4 565.6h0M85.3 533.8h0M99.8 553.7h0M100.1 558.2h0M91.7 569.8h0M99.4 526.6h0M93.8 542.9h0M96.4 575.8h0M99.4 448.1h0M56.4 569.6h0M71.0 559.0h0M74.3 564.3h0M80.7 545.8h0M85.6 540.5h0M77.5 532.6h0M99.3 473.9h0M95.0 494.1h0M96.6 492.6h0M98.2 491.1h0M99.8 489.6h0M100.2 498.3h0" stroke="#66c2a5" stroke-width="2.00" stroke-linecap="round" fill="none"/>
<path d="M122.1 557.6h0M121.8 545.6h0M123.3 565.8h0M119.7 548.4h0M124.6 550.8h0M120.5 542.4h0M123.0 565.3h0M120.4 549.4h0M125.9 548.5h0M129.2 562.2h0M151.0 542.7h0M123.0 566.5h0M119.5 551.1h0M127.5 517.3h0M119.6 564.9h0M131.3 573.9h0M119.4 530.8h0M122.9 521.6h0M121.9 555.6h0M119.7 528.5h0M126.1 553.6h0M127.3 551.4h0M123.5 556.3h0M122.6 573.7h0M126.0 571.1h0M120.7 551.3h0M124.0 522.4h0M121.3 524.1h0M122.3 574.3h0M119.5 539.2h0M122.7 552.9h0M124.3 522.5h0M123.2 547.7h0M130.2 539.2h0M125.9 563.9h0M120.9 547.5h0M131.0 531.0h0M119.7 569.2h0M120.5 529.7h0M122.2 538.6h0M140.0 555.0h0M126.8 536.8h0M121.8 553.0h0M126.4 542.3h0M123.2 561.1h0M120.2 535.4h0M120.5 574.2h0M122.5 561.8h0M119.7 522.9h0M125.2 543.8h0M121.0 573.7h0M124.9 554.3h0M120.1 561.7h0M120.2 569.4h0M123.6 565.2h0M121.6 546.4h0M127.8 519.8h0M124.1 532.4h0M119.9 552.4h0M132.3 571.1h0M127.2 560.3h0M123.9 519.6h0M125.3 550.8h0M135.5 562.3h0M121.0 555.0h0M120.0 563.3h0M122.7 538.2h0M122.4 555.6h0M120.4 532.8h0M121.1 576.7h0M119.5 532.8h0M122.5 546.7h0M120.0 574.1h0M119.9 556.6h0M122.4 523.2h0M119.8 544.7h0M120.1 536.1h0M130.4 531.8h0M121.2 567.2h0M127.1 534.0h0M119.5 562.7h0M126.4 568.6h0M121.1 543.5h0M138.4 549.1h0M120.8 569.9h0M140.2 548.0h0M122.9 553.1h0M133.7 572.9h0M132.2 557.6h0M129.9 564.6h0M119.9 543.5h0M120.4 539.3h0M120.5 543.8h0M120.5 575.3h0M125.6 567.4h0M125.9 520.3h0M120.7 521.3h0M129.3 574.3h0M119.8 533.6h0M126.3 560.0h0M121.4 565.6h0M119.7 576.0h0M126.1 527.9h0M132.8 564.7h0M131.0 551.2h0M122.9 565.4h0M131.0 564.9h0M119.8 524.6h0M119.8 556.2h0M120.1 558.7h0M130.3 547.6h0M119.8 544.4h0M127.6 532.3h0M120.8 568.1h0M121.3 575.8h0M126.9 561.7h0M124.5 560.7h0M123.5 540.1h0M121.3 564.1h0M119.5 554.3h0M124.6 553.0h0M120.4 575.3h0M120.4 556.1h0M121.2 563.8h0M119.7 528.6h0M120.1 556.7h0M121.4 572.2h0M137.8 572.7h0M120.1 524.2h0M119.6 552.0h0M120.2 561.5h0M124.2 548.0h0M125.9 577.2h0M148.5 577.3h0M122.3 534.5h0M128.0 571.2h0M134.4 561.1h0M120.1 560.0h0M125.1 556.4h0M121.8 543.0h0M126.4 530.8h0M120.1 547.1h0M123.4 569.2h0M127.4 525.1h0M124.8 563.1h0M124.3 574.0h0M124.5 560.8h0M120.1 545.7h0M124.9 548.3h0M121.3 530.7h0M122.4 566.1h0M128.4 547.1h0M120.0 562.6h0M124.2 573.3h0M124.4 553.1h0M120.6 574.9h0M120.0 566.6h0M122.7 528.3h0M125.4 538.1h0M126.3 546.8h0M126.2 539.8h0M128.5 526.0h0M121.2 559.2h0M120.3 528.1h0M121.3 565.7h0M125.2 520.0h0M132.5 560.6h0M134.3 574.2h0M122.2 535.6h0M121.6 560.9h0M120.1 523.7h0M124.2 541.4h0M120.4 560.2h0M119.9 565.3h0M121.1 531.8h0M122.3 522.2h0M119.6 448.1h0M124.2 465.6h0M119.9 469.8h0M123.3 494.6h0M127.7 507.8h0M119.6 509.9h0M121.6 515.2h0M121.2 521.5h0M176.3 561.7h0M142.3 553.7h0M148.8 559.0h0M137.4 551.1h0" stroke="#fc8d62" stroke-width="2.00" stroke-linecap="round" fill="none"/>
<line x1="51.60" y1="448.00" x2="51.60" y2="635.65" stroke="#333" stroke-width="0.75"/>
<line x1="51.25" y1="635.30" x2="182.90" y2="635.30" stroke="#333" stroke-width="0.75"/>
<line x1="49.60" y1="630.30" x2="51.60" y2="630.30" stroke="#333" stroke-width="0.6"/>
<text x="48.60" y="633.30" font-size="8.3" text-anchor="end" fill="#262626">0</text>
<line x1="49.60" y1="577.50" x2="51.60" y2="577.50" stroke="#333" stroke-width="0.6"/>
<text x="48.60" y="580.50" font-size="8.3" text-anchor="end" fill="#262626">1</text>
<line x1="49.60" y1="524.70" x2="51.60" y2="524.70" stroke="#333" stroke-width="0.6"/>
<text x="48.60" y="527.70" font-size="8.3" text-anchor="end" fill="#262626">2</text>
<line x1="49.60" y1="471.90" x2="51.60" y2="471.90" stroke="#333" stroke-width="0.6"/>
<text x="48.60" y="474.90" font-size="8.3" text-anchor="end" fill="#262626">3</text>
<line x1="77.50" y1="635.30" x2="77.50" y2="637.30" stroke="#333" stroke-width="0.6"/>
<text x="77.50" y="645.80" font-size="8.3" text-anchor="middle" fill="#262626">-2</text>
<line x1="109.90" y1="635.30" x2="109.90" y2="637.30" stroke="#333" stroke-width="0.6"/>
<text x="109.90" y="645.80" font-size="8.3" text-anchor="middle" fill="#262626">0</text>
<line x1="142.30" y1="635.30" x2="142.30" y2="637.30" stroke="#333" stroke-width="0.6"/>
<text x="142.30" y="645.80" font-size="8.3" text-anchor="middle" fill="#262626">2</text>
<line x1="174.70" y1="635.30" x2="174.70" y2="637.30" stroke="#333" stroke-width="0.6"/>
<text x="174.70" y="645.80" font-size="8.3" text-anchor="middle" fill="#262626">4</text>
<text x="128.80" y="657.50" font-size="9.8" font-weight="bold" text-anchor="middle" fill="#000">Log2 G4longvsG5long</text>
<text x="36.50" y="547.60" font-size="10" font-weight="bold" text-anchor="middle" fill="#000" transform="rotate(-90 36.50 547.60)">-log10 CV</text>
<text x="183.20" y="537.20" font-size="8.3" text-anchor="start" fill="#000">Regulated Type</text>
<path d="M188.8 546.1h0" stroke="#66c2a5" stroke-width="2.40" stroke-linecap="round" fill="none"/>
<text x="196.70" y="547.60" font-size="8.3" text-anchor="start" fill="#000">Down</text>
<path d="M188.8 555.9h0" stroke="#bebebe" stroke-width="2.40" stroke-linecap="round" fill="none"/>
<text x="196.70" y="558.60" font-size="8.3" text-anchor="start" fill="#000">None</text>
<path d="M188.8 566.0h0" stroke="#fc8d62" stroke-width="2.40" stroke-linecap="round" fill="none"/>
<text x="196.70" y="569.10" font-size="8.3" text-anchor="start" fill="#000">Up</text></svg>
</body></html>
